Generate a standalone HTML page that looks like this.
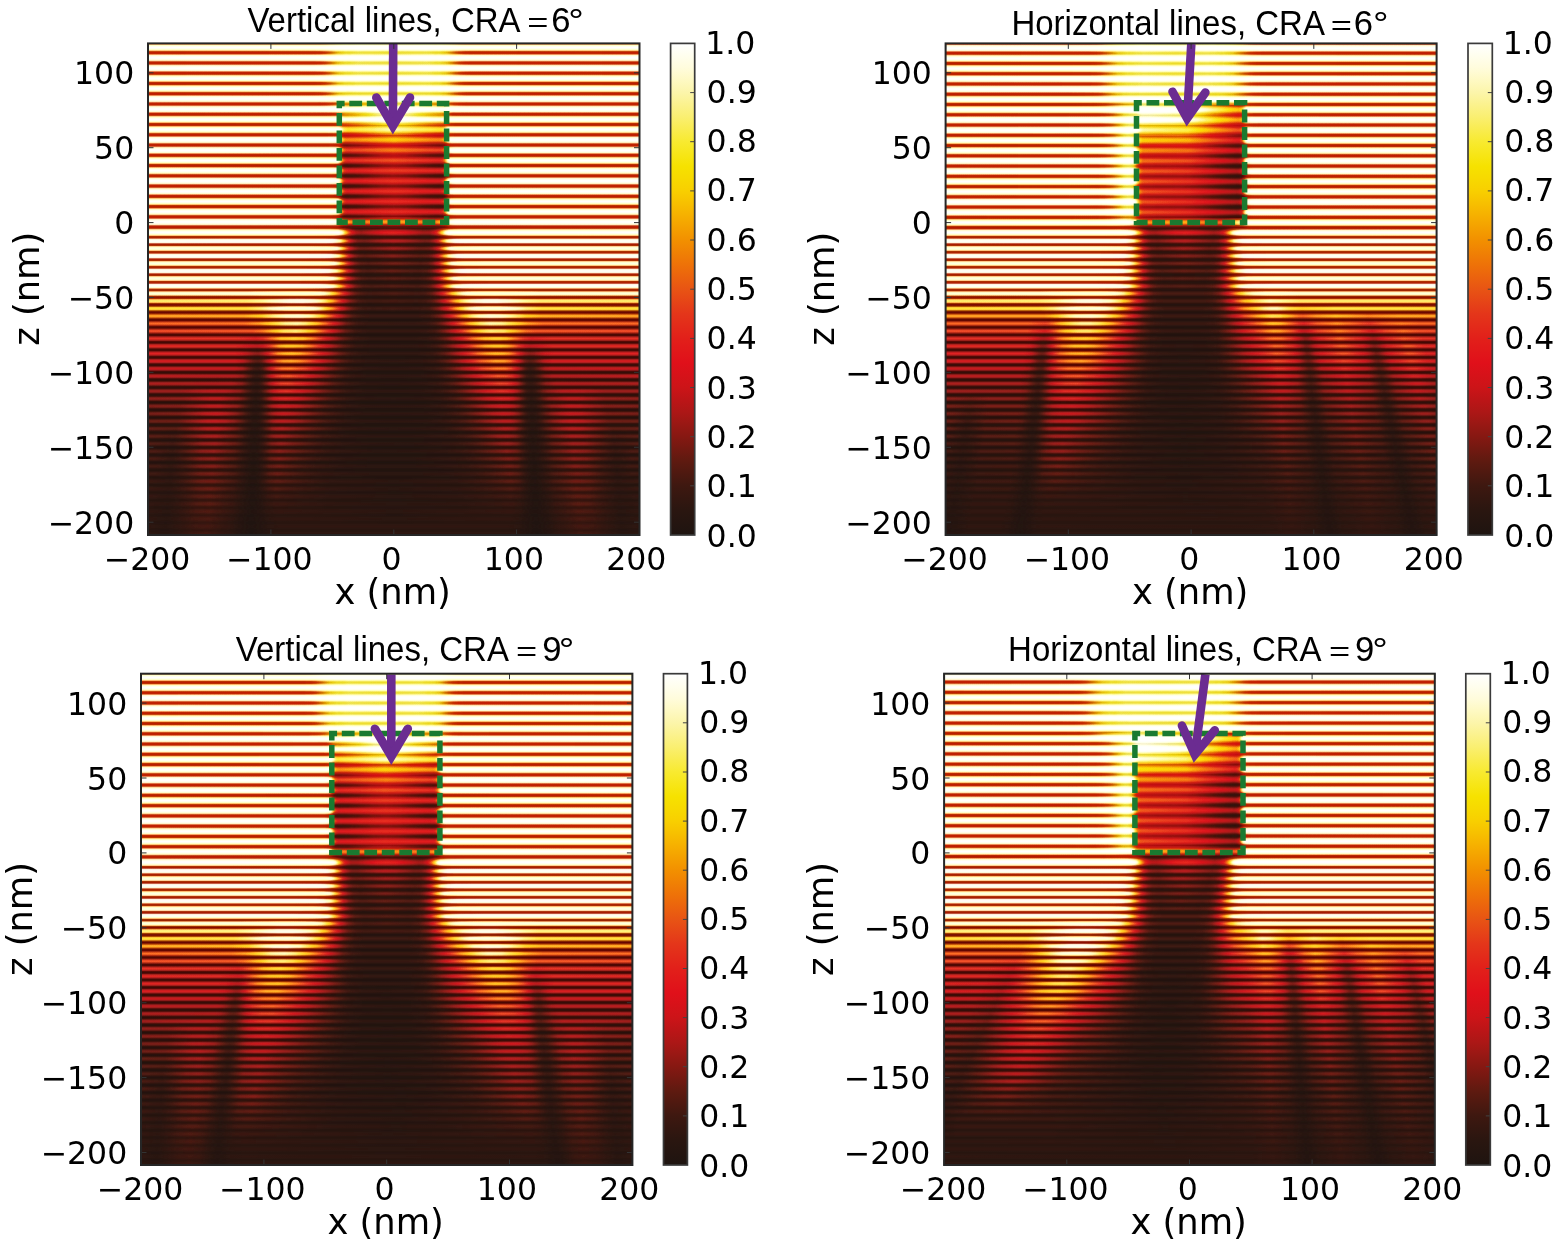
<!DOCTYPE html><html><head><meta charset="utf-8"><title>Figure</title><style>html,body{margin:0;padding:0;background:#fff;width:1560px;height:1244px;overflow:hidden;position:relative}svg{display:block}#ov{position:absolute;left:0;top:0}.hm{position:absolute;overflow:hidden;filter:url(#hot);background:#fff}.hm i{position:absolute;left:0;width:100%;display:block}.hm svg{position:absolute;left:0;top:0}</style></head><body><div class="hm" style="left:144px;top:39.4px;width:500px;height:499.6px;clip-path:inset(4px)">
<i style="top:0px;height:4.04px;background:linear-gradient(90deg,#c0c0c0 0px,#bfbfbf 172px,#bbbbbb 183px,#a8a8a8 197px,#a3a3a3 204px,#a1a1a1 249px,#a3a3a3 293px,#a8a8a8 300px,#bbbbbb 314px,#bfbfbf 325px,#c0c0c0 500px)"></i>
<i style="top:3.44px;height:10.86px;background:linear-gradient(90deg,#c0c0c0 0px,#bfbfbf 172px,#bbbbbb 183px,#a8a8a8 197px,#a3a3a3 204px,#a1a1a1 249px,#a3a3a3 293px,#a8a8a8 300px,#bbbbbb 314px,#bfbfbf 325px,#c0c0c0 500px)"></i>
<i style="top:13.7px;height:10.86px;background:linear-gradient(90deg,#c0c0c0 0px,#bfbfbf 172px,#bbbbbb 183px,#a8a8a8 197px,#a3a3a3 204px,#a1a1a1 249px,#a3a3a3 293px,#a8a8a8 300px,#bbbbbb 314px,#bfbfbf 325px,#c0c0c0 500px)"></i>
<i style="top:23.96px;height:10.86px;background:linear-gradient(90deg,#c0c0c0 0px,#bfbfbf 172px,#bbbbbb 183px,#a8a8a8 197px,#a3a3a3 204px,#a1a1a1 249px,#a3a3a3 293px,#a8a8a8 300px,#bbbbbb 314px,#bfbfbf 325px,#c0c0c0 500px)"></i>
<i style="top:34.22px;height:10.86px;background:linear-gradient(90deg,#c0c0c0 0px,#bfbfbf 172px,#bbbbbb 183px,#a8a8a8 197px,#a3a3a3 204px,#a1a1a1 249px,#a3a3a3 293px,#a8a8a8 300px,#bbbbbb 314px,#bfbfbf 325px,#c0c0c0 500px)"></i>
<i style="top:44.48px;height:10.86px;background:linear-gradient(90deg,#c0c0c0 0px,#bfbfbf 172px,#bbbbbb 183px,#a9a9a9 197px,#a3a3a3 204px,#a1a1a1 248px,#a3a3a3 293px,#a8a8a8 300px,#bbbbbb 314px,#bfbfbf 325px,#c0c0c0 500px)"></i>
<i style="top:54.74px;height:10.86px;background:linear-gradient(90deg,#c0c0c0 0px,#bfbfbf 173px,#bbbbbb 184px,#a8a8a8 200px,#a5a5a5 218px,#a6a6a6 292px,#aaaaaa 300px,#bcbcbc 314px,#c0c0c0 326px,#c0c0c0 500px)"></i>
<i style="top:65px;height:10.86px;background:linear-gradient(90deg,#c0c0c0 0px,#bfbfbf 187px,#bcbcbc 193px,#a5a5a5 199px,#a2a2a2 203px,#aaaaaa 250px,#a2a2a2 298px,#a7a7a7 301px,#bbbbbb 306px,#bfbfbf 313px,#c0c0c0 500px)"></i>
<i style="top:75.26px;height:10.86px;background:linear-gradient(90deg,#c0c0c0 0px,#c0c0c0 189px,#bebebe 192px,#b9b9b9 194px,#9e9e9e 199px,#999999 202px,#a1a1a1 250px,#999999 296px,#9c9c9c 300px,#bbbbbb 306px,#c0c0c0 310px,#c0c0c0 500px)"></i>
<i style="top:85.52px;height:10.86px;background:linear-gradient(90deg,#c0c0c0 0px,#c0c0c0 189px,#bdbdbd 192px,#b7b7b7 194px,#969696 198px,#8c8c8c 200px,#888888 204px,#919191 250px,#888888 297px,#8a8a8a 299px,#939393 301px,#adadad 304px,#b9b9b9 306px,#bebebe 308px,#c0c0c0 311px,#c0c0c0 500px)"></i>
<i style="top:95.78px;height:10.86px;background:linear-gradient(90deg,#c0c0c0 0px,#c0c0c0 189px,#bdbdbd 192px,#b5b5b5 194px,#adadad 195px,#8a8a8a 198px,#818181 199px,#787878 201px,#767676 203px,#7f7f7f 250px,#757575 295px,#777777 298px,#7e7e7e 300px,#858585 301px,#b1b1b1 305px,#bcbcbc 307px,#bfbfbf 310px,#c0c0c0 500px)"></i>
<i style="top:106.04px;height:10.86px;background:linear-gradient(90deg,#c0c0c0 0px,#bfbfbf 189px,#bcbcbc 192px,#b4b4b4 194px,#ababab 195px,#828282 198px,#717171 200px,#6b6b6b 202px,#6a6a6a 205px,#737373 249px,#6a6a6a 297px,#6f6f6f 299px,#747474 300px,#898989 302px,#a5a5a5 304px,#b7b7b7 306px,#bdbdbd 308px,#c0c0c0 311px,#c0c0c0 500px)"></i>
<i style="top:116.3px;height:10.86px;background:linear-gradient(90deg,#c0c0c0 0px,#bfbfbf 189px,#bcbcbc 192px,#b3b3b3 194px,#aaaaaa 195px,#7f7f7f 198px,#747474 199px,#686868 201px,#656565 203px,#6c6c6c 250px,#646464 294px,#656565 297px,#6a6a6a 299px,#797979 301px,#a4a4a4 304px,#afafaf 305px,#bbbbbb 307px,#bfbfbf 310px,#c0c0c0 500px)"></i>
<i style="top:126.56px;height:10.86px;background:linear-gradient(90deg,#c0c0c0 0px,#bfbfbf 189px,#bcbcbc 192px,#b3b3b3 194px,#9c9c9c 196px,#7e7e7e 198px,#6a6a6a 200px,#636363 202px,#616161 206px,#686868 249px,#636363 297px,#686868 299px,#6e6e6e 300px,#777777 301px,#a3a3a3 304px,#b6b6b6 306px,#bdbdbd 308px,#c0c0c0 311px,#c0c0c0 500px)"></i>
<i style="top:136.82px;height:10.86px;background:linear-gradient(90deg,#c0c0c0 0px,#bfbfbf 189px,#bcbcbc 192px,#b3b3b3 194px,#9c9c9c 196px,#7d7d7d 198px,#696969 200px,#626262 202px,#606060 206px,#666666 249px,#606060 296px,#636363 298px,#6d6d6d 300px,#777777 301px,#a3a3a3 304px,#b6b6b6 306px,#bdbdbd 308px,#c0c0c0 311px,#c0c0c0 500px)"></i>
<i style="top:147.08px;height:10.86px;background:linear-gradient(90deg,#c0c0c0 0px,#bfbfbf 189px,#bcbcbc 192px,#b3b3b3 194px,#a9a9a9 195px,#7d7d7d 198px,#717171 199px,#646464 201px,#606060 203px,#656565 251px,#5f5f5f 293px,#616161 297px,#666666 299px,#767676 301px,#a3a3a3 304px,#afafaf 305px,#bbbbbb 307px,#bfbfbf 310px,#c0c0c0 500px)"></i>
<i style="top:157.34px;height:10.86px;background:linear-gradient(90deg,#c0c0c0 0px,#bfbfbf 189px,#bcbcbc 192px,#b3b3b3 194px,#a9a9a9 195px,#7d7d7d 198px,#717171 199px,#646464 201px,#606060 203px,#646464 251px,#5f5f5f 293px,#616161 297px,#666666 299px,#767676 301px,#a3a3a3 304px,#afafaf 305px,#bbbbbb 307px,#bfbfbf 310px,#c0c0c0 500px)"></i>
<i style="top:167.6px;height:10.86px;background:linear-gradient(90deg,#c0c0c0 0px,#bfbfbf 189px,#bcbcbc 192px,#b3b3b3 194px,#a9a9a9 195px,#7d7d7d 198px,#717171 199px,#646464 201px,#606060 203px,#646464 251px,#5f5f5f 293px,#616161 297px,#666666 299px,#767676 301px,#a3a3a3 304px,#afafaf 305px,#bbbbbb 307px,#bfbfbf 310px,#c0c0c0 500px)"></i>
<i style="top:177.86px;height:10.86px;background:linear-gradient(90deg,#c0c0c0 0px,#bfbfbf 186px,#bdbdbd 190px,#b7b7b7 193px,#acacac 195px,#939393 198px,#888888 200px,#7d7d7d 204px,#777777 209px,#757575 217px,#7c7c7c 251px,#757575 285px,#787878 292px,#808080 297px,#909090 301px,#a8a8a8 304px,#b5b5b5 306px,#bcbcbc 309px,#bfbfbf 313px,#c0c0c0 500px)"></i>
<i style="top:188.12px;height:10.68px;background:linear-gradient(90deg,#c0c0c0 0px,#c0c0c0 169px,#bebebe 185px,#b8b8b8 190px,#aeaeae 194px,#9a9a9a 198px,#6b6b6b 205px,#5b5b5b 208px,#4e4e4e 212px,#4a4a4a 217px,#5c5c5c 240px,#5f5f5f 249px,#5b5b5b 260px,#4b4b4b 279px,#4c4c4c 286px,#555555 290px,#626262 293px,#979797 301px,#acacac 305px,#b9b9b9 310px,#bebebe 316px,#c0c0c0 500px)"></i>
<i style="top:198.2px;height:8.11px;background:linear-gradient(90deg,#c0c0c0 0px,#bebebe 182px,#b9b9b9 188px,#acacac 193px,#9a9a9a 197px,#5d5d5d 207px,#515151 210px,#484848 214px,#464646 221px,#545454 240px,#575757 250px,#545454 259px,#464646 281px,#494949 286px,#535353 290px,#656565 294px,#979797 302px,#a7a7a7 305px,#b6b6b6 310px,#bdbdbd 316px,#c0c0c0 333px,#c0c0c0 500px)"></i>
<i style="top:205.71px;height:8.11px;background:linear-gradient(90deg,#c0c0c0 0px,#c0c0c0 164px,#bdbdbd 182px,#b6b6b6 188px,#a8a8a8 193px,#959595 197px,#606060 206px,#505050 210px,#454545 215px,#434343 220px,#515151 249px,#4e4e4e 259px,#434343 277px,#464646 285px,#4e4e4e 289px,#595959 292px,#686868 295px,#989898 303px,#aaaaaa 307px,#b7b7b7 312px,#bebebe 319px,#c0c0c0 337px,#c0c0c0 500px)"></i>
<i style="top:213.22px;height:8.11px;background:linear-gradient(90deg,#c0c0c0 0px,#c0c0c0 161px,#bdbdbd 180px,#b5b5b5 187px,#a8a8a8 192px,#979797 196px,#5e5e5e 206px,#4e4e4e 210px,#434343 215px,#404040 221px,#4b4b4b 249px,#404040 276px,#434343 284px,#4a4a4a 288px,#585858 292px,#999999 304px,#aaaaaa 308px,#b8b8b8 314px,#bebebe 321px,#c0c0c0 340px,#c0c0c0 500px)"></i>
<i style="top:220.73px;height:8.11px;background:linear-gradient(90deg,#c0c0c0 0px,#c0c0c0 157px,#bdbdbd 177px,#b8b8b8 184px,#ababab 190px,#979797 195px,#595959 207px,#4b4b4b 211px,#414141 216px,#3d3d3d 224px,#464646 251px,#3d3d3d 277px,#414141 284px,#4c4c4c 289px,#5f5f5f 294px,#959595 304px,#a6a6a6 308px,#b5b5b5 314px,#bdbdbd 321px,#c0c0c0 341px,#c0c0c0 500px)"></i>
<i style="top:228.24px;height:8.11px;background:linear-gradient(90deg,#c0c0c0 0px,#c0c0c0 156px,#bcbcbc 177px,#b4b4b4 185px,#a4a4a4 191px,#8f8f8f 196px,#606060 205px,#4a4a4a 211px,#3e3e3e 217px,#3b3b3b 224px,#424242 248px,#3b3b3b 275px,#3f3f3f 283px,#494949 288px,#565656 292px,#969696 305px,#a9a9a9 310px,#b6b6b6 316px,#bdbdbd 323px,#c0c0c0 344px,#c0c0c0 500px)"></i>
<i style="top:235.75px;height:8.11px;background:linear-gradient(90deg,#c0c0c0 0px,#c0c0c0 154px,#bcbcbc 175px,#b5b5b5 183px,#a7a7a7 189px,#959595 194px,#646464 204px,#535353 208px,#474747 212px,#3d3d3d 217px,#393939 225px,#3e3e3e 250px,#393939 274px,#3d3d3d 282px,#484848 288px,#5d5d5d 294px,#929292 305px,#a6a6a6 310px,#b4b4b4 316px,#bbbbbb 323px,#c0c0c0 345px,#c0c0c0 500px)"></i>
<i style="top:243.26px;height:8.11px;background:linear-gradient(90deg,#bababa 0px,#bababa 153px,#b7b7b7 174px,#afafaf 182px,#9f9f9f 189px,#8d8d8d 194px,#585858 206px,#454545 212px,#3a3a3a 219px,#373737 227px,#3b3b3b 249px,#373737 274px,#3d3d3d 283px,#464646 288px,#525252 292px,#8f8f8f 306px,#a4a4a4 312px,#b1b1b1 319px,#b7b7b7 327px,#bababa 348px,#bababa 500px)"></i>
<i style="top:250.77px;height:8.11px;background:linear-gradient(90deg,#9b9b9b 0px,#9c9c9c 103px,#a8a8a8 149px,#a7a7a7 164px,#9f9f9f 176px,#909090 185px,#7d7d7d 192px,#4c4c4c 206px,#404040 211px,#393939 216px,#343434 225px,#383838 250px,#343434 273px,#363636 281px,#3f3f3f 288px,#515151 295px,#7f7f7f 308px,#8f8f8f 314px,#9e9e9e 323px,#a6a6a6 334px,#a8a8a8 350px,#9c9c9c 397px,#9b9b9b 500px)"></i>
<i style="top:258.28px;height:8.11px;background:linear-gradient(90deg,#8d8d8d 0px,#8e8e8e 103px,#939393 119px,#a4a4a4 146px,#a5a5a5 159px,#9e9e9e 170px,#8e8e8e 181px,#7b7b7b 189px,#494949 205px,#373737 215px,#323232 225px,#353535 250px,#323232 273px,#353535 282px,#3d3d3d 289px,#4d4d4d 296px,#797979 310px,#8b8b8b 317px,#9c9c9c 328px,#a5a5a5 340px,#a5a5a5 353px,#939393 381px,#8e8e8e 397px,#8d8d8d 500px)"></i>
<i style="top:265.79px;height:8.11px;background:linear-gradient(90deg,#878787 0px,#888888 102px,#8f8f8f 118px,#a5a5a5 144px,#a7a7a7 157px,#9f9f9f 168px,#8d8d8d 179px,#787878 188px,#4b4b4b 203px,#3c3c3c 210px,#333333 218px,#303030 228px,#333333 249px,#313131 274px,#363636 285px,#484848 295px,#797979 312px,#8e8e8e 321px,#9f9f9f 332px,#a7a7a7 343px,#a6a6a6 355px,#8f8f8f 382px,#888888 398px,#878787 500px)"></i>
<i style="top:273.3px;height:8.11px;background:linear-gradient(90deg,#7a7a7a 0px,#7b7b7b 100px,#838383 116px,#9c9c9c 143px,#9e9e9e 155px,#979797 165px,#878787 176px,#737373 185px,#4a4a4a 201px,#3a3a3a 209px,#313131 218px,#2f2f2f 228px,#2f2f2f 274px,#353535 286px,#464646 297px,#757575 315px,#888888 324px,#989898 335px,#9f9f9f 345px,#9c9c9c 357px,#838383 383px,#7c7c7c 399px,#7a7a7a 500px)"></i>
<i style="top:280.81px;height:8.11px;background:linear-gradient(90deg,#6f6f6f 0px,#717171 99px,#797979 115px,#919191 141px,#949494 153px,#8e8e8e 162px,#818181 172px,#6f6f6f 182px,#424242 202px,#333333 213px,#2e2e2e 225px,#2d2d2d 271px,#303030 283px,#393939 292px,#474747 300px,#6b6b6b 316px,#7f7f7f 326px,#8d8d8d 336px,#949494 346px,#919191 358px,#797979 384px,#717171 400px,#6f6f6f 500px)"></i>
<i style="top:288.32px;height:8.11px;background:linear-gradient(90deg,#6a6a6a 0px,#6d6d6d 108px,#737373 118px,#8a8a8a 139px,#8e8e8e 152px,#888888 161px,#7c7c7c 171px,#6a6a6a 181px,#414141 201px,#323232 213px,#2c2c2c 226px,#2c2c2c 270px,#2f2f2f 282px,#373737 292px,#444444 300px,#7b7b7b 328px,#888888 338px,#8e8e8e 347px,#8b8b8b 360px,#727272 382px,#6d6d6d 392px,#6a6a6a 500px)"></i>
<i style="top:295.83px;height:8.11px;background:linear-gradient(90deg,#636363 0px,#646464 92px,#5f5f5f 112px,#646464 119px,#808080 137px,#848484 150px,#808080 159px,#767676 168px,#3f3f3f 200px,#313131 212px,#2b2b2b 226px,#2b2b2b 269px,#2d2d2d 282px,#363636 293px,#414141 301px,#747474 330px,#7f7f7f 340px,#848484 349px,#848484 356px,#7f7f7f 363px,#656565 380px,#5f5f5f 387px,#646464 408px,#636363 500px)"></i>
<i style="top:303.34px;height:8.11px;background:linear-gradient(90deg,#616161 0px,#616161 91px,#555555 113px,#5a5a5a 119px,#7b7b7b 135px,#818181 142px,#818181 149px,#7d7d7d 158px,#737373 167px,#3f3f3f 199px,#303030 212px,#2b2b2b 227px,#2a2a2a 267px,#2d2d2d 282px,#353535 293px,#414141 302px,#727272 332px,#7c7c7c 341px,#818181 350px,#818181 357px,#7b7b7b 364px,#727272 370px,#5a5a5a 381px,#555555 386px,#616161 409px,#616161 500px)"></i>
<i style="top:310.85px;height:8.11px;background:linear-gradient(90deg,#5f5f5f 0px,#5f5f5f 91px,#5b5b5b 98px,#4b4b4b 110px,#494949 114px,#505050 119px,#6c6c6c 129px,#777777 134px,#7d7d7d 140px,#7f7f7f 148px,#7b7b7b 156px,#707070 166px,#404040 197px,#343434 207px,#2c2c2c 219px,#2a2a2a 235px,#2a2a2a 273px,#303030 288px,#3e3e3e 301px,#717171 334px,#7a7a7a 343px,#7e7e7e 351px,#7d7d7d 359px,#777777 365px,#6b6b6b 371px,#4f4f4f 381px,#494949 386px,#4b4b4b 390px,#5b5b5b 401px,#5f5f5f 409px,#5f5f5f 500px)"></i>
<i style="top:318.36px;height:8.11px;background:linear-gradient(90deg,#5c5c5c 0px,#5c5c5c 91px,#555555 99px,#3e3e3e 110px,#3b3b3b 114px,#414141 118px,#646464 128px,#717171 133px,#797979 139px,#7b7b7b 147px,#777777 155px,#6e6e6e 164px,#3e3e3e 197px,#313131 209px,#2a2a2a 224px,#292929 250px,#2a2a2a 276px,#313131 291px,#3e3e3e 303px,#6e6e6e 336px,#7a7a7a 352px,#797979 360px,#727272 366px,#636363 372px,#434343 381px,#3b3b3b 386px,#3f3f3f 390px,#565656 401px,#5c5c5c 409px,#5c5c5c 500px)"></i>
<i style="top:325.87px;height:8.11px;background:linear-gradient(90deg,#575757 0px,#575757 90px,#4f4f4f 99px,#353535 110px,#323232 114px,#393939 118px,#5b5b5b 127px,#696969 132px,#717171 138px,#737373 146px,#686868 162px,#3d3d3d 195px,#303030 208px,#292929 224px,#282828 250px,#292929 276px,#303030 292px,#3d3d3d 305px,#696969 338px,#737373 353px,#727272 361px,#6a6a6a 367px,#5d5d5d 372px,#383838 382px,#313131 386px,#363636 390px,#505050 401px,#565656 409px,#575757 500px)"></i>
<i style="top:333.38px;height:8.11px;background:linear-gradient(90deg,#535353 0px,#525252 90px,#4b4b4b 99px,#323232 110px,#2f2f2f 113px,#353535 117px,#585858 127px,#656565 132px,#6c6c6c 138px,#6d6d6d 145px,#636363 160px,#3c3c3c 193px,#2f2f2f 207px,#292929 223px,#282828 250px,#292929 276px,#2f2f2f 292px,#3c3c3c 306px,#646464 340px,#6d6d6d 354px,#6b6b6b 362px,#646464 368px,#565656 373px,#363636 382px,#2f2f2f 386px,#333333 390px,#4b4b4b 401px,#525252 409px,#535353 500px)"></i>
<i style="top:340.89px;height:8.11px;background:linear-gradient(90deg,#4f4f4f 0px,#515151 88px,#494949 98px,#313131 109px,#2d2d2d 113px,#343434 117px,#525252 126px,#5f5f5f 131px,#676767 137px,#686868 144px,#606060 158px,#3b3b3b 191px,#2f2f2f 206px,#282828 223px,#272727 250px,#292929 277px,#2f2f2f 293px,#3b3b3b 308px,#606060 342px,#686868 356px,#666666 363px,#606060 368px,#545454 373px,#323232 383px,#2d2d2d 387px,#313131 390px,#4a4a4a 402px,#515151 412px,#4f4f4f 500px)"></i>
<i style="top:348.4px;height:8.11px;background:linear-gradient(90deg,#4c4c4c 0px,#4c4c4c 37px,#545454 68px,#535353 81px,#4a4a4a 96px,#2f2f2f 109px,#2c2c2c 113px,#333333 117px,#4d4d4d 125px,#5a5a5a 130px,#626262 136px,#646464 143px,#5c5c5c 156px,#3b3b3b 189px,#2e2e2e 205px,#282828 222px,#272727 250px,#282828 277px,#2e2e2e 294px,#3a3a3a 310px,#5d5d5d 344px,#646464 357px,#626262 363px,#5b5b5b 369px,#4f4f4f 374px,#313131 383px,#2c2c2c 387px,#2e2e2e 390px,#434343 399px,#4a4a4a 404px,#535353 418px,#545454 432px,#4c4c4c 462px,#4c4c4c 500px)"></i>
<i style="top:355.91px;height:8.11px;background:linear-gradient(90deg,#484848 0px,#494949 38px,#555555 66px,#555555 77px,#4a4a4a 94px,#414141 100px,#2d2d2d 109px,#2a2a2a 112px,#2f2f2f 116px,#4b4b4b 125px,#575757 130px,#5d5d5d 135px,#5f5f5f 142px,#595959 154px,#3b3b3b 186px,#2e2e2e 204px,#282828 222px,#262626 250px,#282828 277px,#2d2d2d 295px,#3a3a3a 313px,#585858 345px,#5f5f5f 357px,#5e5e5e 364px,#585858 369px,#4d4d4d 374px,#303030 383px,#2a2a2a 387px,#2e2e2e 391px,#404040 399px,#4a4a4a 405px,#555555 423px,#555555 434px,#494949 462px,#484848 500px)"></i>
<i style="top:363.42px;height:8.11px;background:linear-gradient(90deg,#454545 0px,#474747 37px,#565656 65px,#565656 75px,#4a4a4a 93px,#404040 99px,#2d2d2d 108px,#292929 112px,#2e2e2e 116px,#494949 125px,#535353 129px,#5a5a5a 135px,#5b5b5b 141px,#565656 152px,#3a3a3a 184px,#2d2d2d 203px,#272727 222px,#262626 250px,#272727 278px,#2d2d2d 296px,#393939 315px,#555555 347px,#5b5b5b 358px,#595959 365px,#535353 370px,#484848 375px,#303030 383px,#292929 387px,#2c2c2c 391px,#3f3f3f 400px,#4a4a4a 407px,#575757 425px,#565656 435px,#474747 462px,#454545 500px)"></i>
<i style="top:370.93px;height:8.11px;background:linear-gradient(90deg,#434343 0px,#454545 37px,#565656 63px,#585858 73px,#535353 82px,#494949 92px,#3e3e3e 99px,#2b2b2b 108px,#282828 112px,#2e2e2e 116px,#454545 124px,#505050 129px,#565656 134px,#585858 140px,#535353 150px,#3a3a3a 181px,#2d2d2d 202px,#272727 221px,#262626 250px,#272727 279px,#2d2d2d 298px,#393939 318px,#535353 349px,#585858 359px,#565656 365px,#515151 370px,#474747 375px,#2d2d2d 384px,#282828 388px,#2c2c2c 392px,#3f3f3f 401px,#494949 407px,#535353 417px,#585858 426px,#565656 436px,#454545 463px,#434343 500px)"></i>
<i style="top:378.44px;height:8.11px;background:linear-gradient(90deg,#404040 0px,#414141 34px,#555555 63px,#565656 72px,#525252 81px,#474747 92px,#3e3e3e 98px,#292929 108px,#272727 111px,#2b2b2b 115px,#4d4d4d 128px,#535353 133px,#545454 139px,#505050 149px,#393939 179px,#2c2c2c 201px,#272727 221px,#262626 250px,#272727 279px,#2d2d2d 299px,#393939 321px,#505050 351px,#545454 360px,#535353 366px,#4d4d4d 371px,#434343 376px,#2c2c2c 384px,#272727 388px,#2a2a2a 392px,#3d3d3d 401px,#474747 408px,#515151 418px,#565656 427px,#545454 437px,#414141 465px,#404040 500px)"></i>
<i style="top:385.95px;height:8.11px;background:linear-gradient(90deg,#3e3e3e 0px,#3c3c3c 32px,#515151 62px,#535353 72px,#4e4e4e 81px,#444444 92px,#292929 107px,#252525 111px,#2a2a2a 115px,#4a4a4a 128px,#4f4f4f 133px,#505050 139px,#2c2c2c 199px,#272727 220px,#252525 250px,#272727 280px,#2c2c2c 300px,#515151 361px,#4f4f4f 367px,#494949 372px,#2b2b2b 384px,#252525 388px,#282828 392px,#3a3a3a 401px,#444444 408px,#4e4e4e 419px,#535353 428px,#515151 438px,#3c3c3c 468px,#3e3e3e 500px)"></i>
<i style="top:393.46px;height:8.11px;background:linear-gradient(90deg,#3c3c3c 0px,#383838 30px,#4e4e4e 60px,#505050 71px,#424242 91px,#393939 98px,#272727 107px,#242424 111px,#2a2a2a 115px,#474747 127px,#4c4c4c 132px,#4d4d4d 138px,#343434 179px,#2a2a2a 202px,#262626 227px,#262626 268px,#2e2e2e 307px,#383838 327px,#4b4b4b 354px,#4e4e4e 363px,#474747 372px,#282828 385px,#242424 389px,#272727 392px,#393939 402px,#424242 408px,#505050 428px,#4e4e4e 439px,#383838 469px,#3c3c3c 500px)"></i>
<i style="top:400.97px;height:8.11px;background:linear-gradient(90deg,#3a3a3a 0px,#343434 29px,#4b4b4b 59px,#4d4d4d 71px,#404040 91px,#373737 98px,#262626 107px,#242424 111px,#292929 115px,#454545 127px,#4b4b4b 137px,#343434 177px,#2a2a2a 201px,#262626 227px,#252525 268px,#2e2e2e 309px,#373737 329px,#484848 355px,#4b4b4b 364px,#444444 373px,#282828 385px,#232323 389px,#272727 393px,#3f3f3f 408px,#4d4d4d 429px,#4b4b4b 441px,#343434 470px,#3a3a3a 500px)"></i>
<i style="top:408.48px;height:8.11px;background:linear-gradient(90deg,#383838 0px,#373737 12px,#303030 29px,#484848 57px,#4b4b4b 70px,#3d3d3d 91px,#252525 107px,#232323 110px,#272727 114px,#424242 126px,#484848 135px,#2d2d2d 188px,#252525 231px,#262626 273px,#2a2a2a 300px,#333333 325px,#484848 363px,#424242 373px,#282828 385px,#232323 389px,#252525 393px,#3d3d3d 408px,#4b4b4b 430px,#474747 443px,#303030 471px,#373737 487px,#383838 500px)"></i>
<i style="top:415.99px;height:8.11px;background:linear-gradient(90deg,#363636 0px,#353535 12px,#2e2e2e 28px,#454545 56px,#484848 69px,#3b3b3b 91px,#252525 106px,#222222 110px,#262626 114px,#404040 126px,#454545 135px,#323232 173px,#292929 198px,#252525 226px,#252525 269px,#2d2d2d 315px,#454545 365px,#3f3f3f 374px,#252525 386px,#222222 390px,#3b3b3b 408px,#484848 430px,#454545 443px,#2e2e2e 472px,#353535 487px,#363636 500px)"></i>
<i style="top:423.5px;height:8.11px;background:linear-gradient(90deg,#343434 0px,#333333 12px,#2c2c2c 27px,#434343 56px,#464646 69px,#393939 91px,#232323 106px,#212121 110px,#252525 114px,#3d3d3d 125px,#424242 135px,#313131 170px,#292929 196px,#252525 225px,#252525 270px,#2d2d2d 317px,#424242 366px,#3d3d3d 374px,#252525 386px,#212121 390px,#222222 393px,#383838 408px,#464646 431px,#424242 444px,#2c2c2c 472px,#333333 488px,#343434 500px)"></i>
<i style="top:431.01px;height:8.11px;background:linear-gradient(90deg,#323232 0px,#313131 11px,#2b2b2b 27px,#404040 55px,#434343 68px,#373737 91px,#202020 109px,#232323 113px,#3b3b3b 125px,#404040 133px,#2c2c2c 179px,#252525 229px,#252525 275px,#292929 305px,#303030 331px,#404040 366px,#3a3a3a 375px,#222222 387px,#202020 391px,#373737 409px,#434343 433px,#3f3f3f 446px,#2a2a2a 473px,#313131 488px,#323232 500px)"></i>
<i style="top:438.52px;height:8.11px;background:linear-gradient(90deg,#303030 0px,#292929 26px,#3e3e3e 54px,#414141 68px,#343434 91px,#212121 105px,#1e1e1e 109px,#222222 113px,#373737 124px,#3c3c3c 133px,#2a2a2a 186px,#252525 250px,#2a2a2a 313px,#3c3c3c 367px,#373737 375px,#212121 387px,#1e1e1e 391px,#353535 409px,#414141 432px,#3d3d3d 446px,#292929 473px,#303030 500px)"></i>
<i style="top:446.03px;height:8.11px;background:linear-gradient(90deg,#2f2f2f 0px,#282828 25px,#3c3c3c 54px,#3f3f3f 67px,#323232 90px,#1f1f1f 105px,#1c1c1c 109px,#202020 113px,#333333 124px,#383838 132px,#292929 187px,#242424 250px,#292929 313px,#383838 367px,#333333 376px,#202020 387px,#1c1c1c 391px,#323232 409px,#3e3e3e 432px,#3c3c3c 446px,#282828 474px,#2f2f2f 500px)"></i>
<i style="top:453.54px;height:8.11px;background:linear-gradient(90deg,#2d2d2d 0px,#262626 25px,#393939 53px,#3c3c3c 66px,#303030 90px,#1a1a1a 108px,#1d1d1d 112px,#2f2f2f 124px,#333333 132px,#282828 188px,#242424 250px,#282828 312px,#333333 367px,#2f2f2f 376px,#1e1e1e 387px,#1a1a1a 391px,#1d1d1d 395px,#303030 410px,#3c3c3c 433px,#3a3a3a 446px,#262626 475px,#2d2d2d 500px)"></i>
<i style="top:461.05px;height:8.11px;background:linear-gradient(90deg,#2b2b2b 0px,#252525 24px,#373737 52px,#3a3a3a 66px,#2e2e2e 89px,#191919 108px,#1b1b1b 112px,#2b2b2b 123px,#2f2f2f 132px,#272727 191px,#242424 250px,#262626 308px,#2f2f2f 368px,#2b2b2b 376px,#191919 391px,#1b1b1b 395px,#2e2e2e 411px,#3a3a3a 434px,#373737 447px,#252525 475px,#2b2b2b 500px)"></i>
<i style="top:468.56px;height:8.11px;background:linear-gradient(90deg,#292929 0px,#232323 24px,#353535 52px,#373737 65px,#2c2c2c 88px,#171717 108px,#272727 123px,#2b2b2b 133px,#242424 250px,#2b2b2b 367px,#282828 376px,#191919 388px,#171717 392px,#2b2b2b 411px,#373737 434px,#353535 448px,#232323 476px,#292929 500px)"></i>
<i style="top:476.07px;height:8.11px;background:linear-gradient(90deg,#282828 0px,#222222 23px,#333333 51px,#353535 65px,#292929 87px,#171717 104px,#151515 108px,#242424 123px,#282828 134px,#242424 250px,#282828 365px,#242424 376px,#151515 392px,#292929 412px,#353535 435px,#323232 449px,#222222 476px,#282828 500px)"></i>
<i style="top:483.58px;height:8.11px;background:linear-gradient(90deg,#262626 0px,#212121 22px,#313131 51px,#333333 64px,#282828 87px,#141414 107px,#232323 124px,#262626 135px,#262626 364px,#232323 376px,#141414 392px,#282828 413px,#333333 435px,#313131 449px,#212121 477px,#262626 500px)"></i>
<i style="top:491.09px;height:8.11px;background:linear-gradient(90deg,#252525 0px,#202020 22px,#303030 50px,#323232 63px,#272727 86px,#131313 107px,#222222 124px,#252525 136px,#252525 365px,#222222 376px,#131313 393px,#272727 413px,#323232 436px,#303030 450px,#202020 478px,#252525 500px)"></i>
<i style="top:498.6px;height:1.6px;background:linear-gradient(90deg,#252525 0px,#1f1f1f 21px,#2f2f2f 50px,#313131 63px,#262626 86px,#131313 107px,#212121 123px,#252525 134px,#252525 364px,#222222 376px,#131313 393px,#262626 413px,#313131 436px,#2f2f2f 450px,#1f1f1f 478px,#252525 500px)"></i>
<svg width="500" height="499.6" viewBox="0 0 500 499.6"><defs><linearGradient id="p1d0"><stop offset="0" stop-opacity=".6"/><stop offset=".34" stop-opacity=".592"/><stop offset=".352" stop-opacity=".573"/><stop offset=".362" stop-opacity=".535"/><stop offset=".37" stop-opacity=".479"/><stop offset=".39" stop-opacity=".3"/><stop offset=".404" stop-opacity=".234"/><stop offset=".426" stop-opacity=".209"/><stop offset=".498" stop-opacity=".206"/><stop offset=".568" stop-opacity=".209"/><stop offset=".59" stop-opacity=".234"/><stop offset=".604" stop-opacity=".299"/><stop offset=".624" stop-opacity=".479"/><stop offset=".632" stop-opacity=".534"/><stop offset=".642" stop-opacity=".573"/><stop offset=".654" stop-opacity=".592"/><stop offset="1" stop-opacity=".6"/></linearGradient><linearGradient id="p1d1"><stop offset="0" stop-opacity=".6"/><stop offset=".34" stop-opacity=".592"/><stop offset=".352" stop-opacity=".573"/><stop offset=".362" stop-opacity=".535"/><stop offset=".37" stop-opacity=".479"/><stop offset=".39" stop-opacity=".3"/><stop offset=".404" stop-opacity=".234"/><stop offset=".426" stop-opacity=".209"/><stop offset=".498" stop-opacity=".206"/><stop offset=".568" stop-opacity=".209"/><stop offset=".59" stop-opacity=".234"/><stop offset=".604" stop-opacity=".299"/><stop offset=".624" stop-opacity=".479"/><stop offset=".632" stop-opacity=".534"/><stop offset=".642" stop-opacity=".573"/><stop offset=".654" stop-opacity=".592"/><stop offset="1" stop-opacity=".6"/></linearGradient><linearGradient id="p1d2"><stop offset="0" stop-opacity=".6"/><stop offset=".34" stop-opacity=".592"/><stop offset=".352" stop-opacity=".573"/><stop offset=".362" stop-opacity=".535"/><stop offset=".37" stop-opacity=".479"/><stop offset=".39" stop-opacity=".3"/><stop offset=".404" stop-opacity=".234"/><stop offset=".426" stop-opacity=".209"/><stop offset=".498" stop-opacity=".206"/><stop offset=".568" stop-opacity=".209"/><stop offset=".59" stop-opacity=".234"/><stop offset=".604" stop-opacity=".299"/><stop offset=".624" stop-opacity=".479"/><stop offset=".632" stop-opacity=".534"/><stop offset=".642" stop-opacity=".573"/><stop offset=".654" stop-opacity=".592"/><stop offset="1" stop-opacity=".6"/></linearGradient><linearGradient id="p1d3"><stop offset="0" stop-opacity=".6"/><stop offset=".34" stop-opacity=".592"/><stop offset=".352" stop-opacity=".573"/><stop offset=".362" stop-opacity=".535"/><stop offset=".37" stop-opacity=".479"/><stop offset=".39" stop-opacity=".3"/><stop offset=".404" stop-opacity=".234"/><stop offset=".426" stop-opacity=".209"/><stop offset=".498" stop-opacity=".206"/><stop offset=".568" stop-opacity=".209"/><stop offset=".59" stop-opacity=".234"/><stop offset=".604" stop-opacity=".299"/><stop offset=".624" stop-opacity=".479"/><stop offset=".632" stop-opacity=".534"/><stop offset=".642" stop-opacity=".573"/><stop offset=".654" stop-opacity=".592"/><stop offset="1" stop-opacity=".6"/></linearGradient><linearGradient id="p1d4"><stop offset="0" stop-opacity=".6"/><stop offset=".34" stop-opacity=".592"/><stop offset=".352" stop-opacity=".573"/><stop offset=".362" stop-opacity=".535"/><stop offset=".37" stop-opacity=".48"/><stop offset=".39" stop-opacity=".3"/><stop offset=".404" stop-opacity=".235"/><stop offset=".426" stop-opacity=".21"/><stop offset=".498" stop-opacity=".207"/><stop offset=".568" stop-opacity=".21"/><stop offset=".59" stop-opacity=".234"/><stop offset=".604" stop-opacity=".3"/><stop offset=".624" stop-opacity=".479"/><stop offset=".632" stop-opacity=".534"/><stop offset=".642" stop-opacity=".573"/><stop offset=".654" stop-opacity=".592"/><stop offset="1" stop-opacity=".6"/></linearGradient><linearGradient id="p1d5"><stop offset="0" stop-opacity=".6"/><stop offset=".34" stop-opacity=".592"/><stop offset=".352" stop-opacity=".575"/><stop offset=".362" stop-opacity=".538"/><stop offset=".37" stop-opacity=".485"/><stop offset=".39" stop-opacity=".312"/><stop offset=".404" stop-opacity=".25"/><stop offset=".428" stop-opacity=".226"/><stop offset=".5" stop-opacity=".221"/><stop offset=".568" stop-opacity=".226"/><stop offset=".59" stop-opacity=".25"/><stop offset=".604" stop-opacity=".312"/><stop offset=".624" stop-opacity=".484"/><stop offset=".632" stop-opacity=".537"/><stop offset=".642" stop-opacity=".574"/><stop offset=".654" stop-opacity=".592"/><stop offset="1" stop-opacity=".6"/></linearGradient><linearGradient id="p1d6"><stop offset="0" stop-opacity=".6"/><stop offset=".35" stop-opacity=".592"/><stop offset=".364" stop-opacity=".57"/><stop offset=".376" stop-opacity=".526"/><stop offset=".384" stop-opacity=".481"/><stop offset=".396" stop-opacity=".378"/><stop offset=".402" stop-opacity=".351"/><stop offset=".474" stop-opacity=".249"/><stop offset=".5" stop-opacity=".232"/><stop offset=".526" stop-opacity=".25"/><stop offset=".596" stop-opacity=".351"/><stop offset=".602" stop-opacity=".377"/><stop offset=".614" stop-opacity=".493"/><stop offset=".622" stop-opacity=".542"/><stop offset=".632" stop-opacity=".574"/><stop offset=".646" stop-opacity=".593"/><stop offset="1" stop-opacity=".6"/></linearGradient><linearGradient id="p1d7"><stop offset="0" stop-opacity=".6"/><stop offset=".374" stop-opacity=".594"/><stop offset=".384" stop-opacity=".563"/><stop offset=".388" stop-opacity=".519"/><stop offset=".396" stop-opacity=".383"/><stop offset=".4" stop-opacity=".341"/><stop offset=".404" stop-opacity=".321"/><stop offset=".476" stop-opacity=".184"/><stop offset=".5" stop-opacity=".164"/><stop offset=".524" stop-opacity=".186"/><stop offset=".596" stop-opacity=".325"/><stop offset=".602" stop-opacity=".37"/><stop offset=".61" stop-opacity=".504"/><stop offset=".614" stop-opacity=".556"/><stop offset=".618" stop-opacity=".581"/><stop offset=".624" stop-opacity=".594"/><stop offset="1" stop-opacity=".6"/></linearGradient><linearGradient id="p1d8"><stop offset="0" stop-opacity=".6"/><stop offset=".376" stop-opacity=".596"/><stop offset=".382" stop-opacity=".583"/><stop offset=".386" stop-opacity=".555"/><stop offset=".396" stop-opacity=".406"/><stop offset=".4" stop-opacity=".367"/><stop offset=".404" stop-opacity=".348"/><stop offset=".476" stop-opacity=".206"/><stop offset=".5" stop-opacity=".186"/><stop offset=".524" stop-opacity=".208"/><stop offset=".596" stop-opacity=".351"/><stop offset=".602" stop-opacity=".394"/><stop offset=".61" stop-opacity=".518"/><stop offset=".614" stop-opacity=".564"/><stop offset=".624" stop-opacity=".597"/><stop offset="1" stop-opacity=".6"/></linearGradient><linearGradient id="p1d9"><stop offset="0" stop-opacity=".6"/><stop offset=".376" stop-opacity=".598"/><stop offset=".386" stop-opacity=".569"/><stop offset=".398" stop-opacity=".44"/><stop offset=".404" stop-opacity=".411"/><stop offset=".476" stop-opacity=".259"/><stop offset=".5" stop-opacity=".238"/><stop offset=".524" stop-opacity=".261"/><stop offset=".596" stop-opacity=".414"/><stop offset=".602" stop-opacity=".448"/><stop offset=".614" stop-opacity=".575"/><stop offset=".622" stop-opacity=".597"/><stop offset="1" stop-opacity=".6"/></linearGradient><linearGradient id="p1d10"><stop offset="0" stop-opacity=".6"/><stop offset=".378" stop-opacity=".598"/><stop offset=".386" stop-opacity=".586"/><stop offset=".404" stop-opacity=".501"/><stop offset=".43" stop-opacity=".451"/><stop offset=".476" stop-opacity=".333"/><stop offset=".5" stop-opacity=".308"/><stop offset=".524" stop-opacity=".335"/><stop offset=".57" stop-opacity=".454"/><stop offset=".596" stop-opacity=".504"/><stop offset=".612" stop-opacity=".583"/><stop offset=".62" stop-opacity=".598"/><stop offset="1" stop-opacity=".6"/></linearGradient><linearGradient id="p1d11"><stop offset="0" stop-opacity=".6"/><stop offset=".386" stop-opacity=".598"/><stop offset=".424" stop-opacity=".532"/><stop offset=".476" stop-opacity=".385"/><stop offset=".5" stop-opacity=".359"/><stop offset=".522" stop-opacity=".383"/><stop offset=".576" stop-opacity=".534"/><stop offset=".614" stop-opacity=".599"/><stop offset="1" stop-opacity=".6"/></linearGradient><linearGradient id="p1d12"><stop offset="0" stop-opacity=".6"/><stop offset=".398" stop-opacity=".609"/><stop offset=".424" stop-opacity=".563"/><stop offset=".476" stop-opacity=".408"/><stop offset=".5" stop-opacity=".381"/><stop offset=".524" stop-opacity=".41"/><stop offset=".576" stop-opacity=".565"/><stop offset=".602" stop-opacity=".61"/><stop offset="1" stop-opacity=".6"/></linearGradient><linearGradient id="p1d13"><stop offset="0" stop-opacity=".6"/><stop offset=".372" stop-opacity=".6"/><stop offset=".4" stop-opacity=".618"/><stop offset=".424" stop-opacity=".573"/><stop offset=".476" stop-opacity=".416"/><stop offset=".5" stop-opacity=".388"/><stop offset=".524" stop-opacity=".418"/><stop offset=".574" stop-opacity=".57"/><stop offset=".6" stop-opacity=".619"/><stop offset=".626" stop-opacity=".6"/><stop offset="1" stop-opacity=".6"/></linearGradient><linearGradient id="p1d14"><stop offset="0" stop-opacity=".6"/><stop offset=".372" stop-opacity=".6"/><stop offset=".4" stop-opacity=".621"/><stop offset=".424" stop-opacity=".576"/><stop offset=".476" stop-opacity=".418"/><stop offset=".5" stop-opacity=".391"/><stop offset=".524" stop-opacity=".421"/><stop offset=".576" stop-opacity=".579"/><stop offset=".6" stop-opacity=".622"/><stop offset=".626" stop-opacity=".6"/><stop offset="1" stop-opacity=".6"/></linearGradient><linearGradient id="p1d15"><stop offset="0" stop-opacity=".6"/><stop offset=".372" stop-opacity=".6"/><stop offset=".4" stop-opacity=".622"/><stop offset=".424" stop-opacity=".577"/><stop offset=".476" stop-opacity=".419"/><stop offset=".5" stop-opacity=".391"/><stop offset=".524" stop-opacity=".421"/><stop offset=".576" stop-opacity=".58"/><stop offset=".6" stop-opacity=".623"/><stop offset=".626" stop-opacity=".6"/><stop offset="1" stop-opacity=".6"/></linearGradient><linearGradient id="p1d16"><stop offset="0" stop-opacity=".6"/><stop offset=".372" stop-opacity=".6"/><stop offset=".4" stop-opacity=".623"/><stop offset=".424" stop-opacity=".578"/><stop offset=".476" stop-opacity=".419"/><stop offset=".5" stop-opacity=".392"/><stop offset=".524" stop-opacity=".422"/><stop offset=".576" stop-opacity=".58"/><stop offset=".6" stop-opacity=".623"/><stop offset=".626" stop-opacity=".6"/><stop offset="1" stop-opacity=".6"/></linearGradient><linearGradient id="p1d17"><stop offset="0" stop-opacity=".604"/><stop offset=".372" stop-opacity=".604"/><stop offset=".4" stop-opacity=".621"/><stop offset=".424" stop-opacity=".58"/><stop offset=".476" stop-opacity=".433"/><stop offset=".5" stop-opacity=".407"/><stop offset=".524" stop-opacity=".435"/><stop offset=".574" stop-opacity=".577"/><stop offset=".6" stop-opacity=".622"/><stop offset=".626" stop-opacity=".604"/><stop offset="1" stop-opacity=".604"/></linearGradient><linearGradient id="p1d18"><stop offset="0" stop-opacity=".622"/><stop offset=".398" stop-opacity=".622"/><stop offset=".5" stop-opacity=".592"/><stop offset=".602" stop-opacity=".622"/><stop offset="1" stop-opacity=".622"/></linearGradient><mask id="p1m" maskUnits="userSpaceOnUse" x="0" y="0" width="500" height="499.6"><rect y="-2.41" width="500" height="11.7" fill="url(#lp)"/><rect y="7.85" width="500" height="11.7" fill="url(#lp)"/><rect y="18.11" width="500" height="11.7" fill="url(#lp)"/><rect y="28.37" width="500" height="11.7" fill="url(#lp)"/><rect y="38.63" width="500" height="11.7" fill="url(#lp)"/><rect y="48.89" width="500" height="11.7" fill="url(#lp)"/><rect y="59.15" width="500" height="11.7" fill="url(#lp)"/><rect y="69.41" width="500" height="11.7" fill="url(#lp)"/><rect y="79.67" width="500" height="11.7" fill="url(#lp)"/><rect y="89.93" width="500" height="11.7" fill="url(#lp)"/><rect y="100.19" width="500" height="11.7" fill="url(#lp)"/><rect y="110.45" width="500" height="11.7" fill="url(#lp)"/><rect y="120.71" width="500" height="11.7" fill="url(#lp)"/><rect y="130.97" width="500" height="11.7" fill="url(#lp)"/><rect y="141.23" width="500" height="11.7" fill="url(#lp)"/><rect y="151.49" width="500" height="11.7" fill="url(#lp)"/><rect y="161.75" width="500" height="11.7" fill="url(#lp)"/><rect y="172.01" width="500" height="11.7" fill="url(#lp)"/><rect y="182.27" width="500" height="11.7" fill="url(#lp)"/><rect y="193.7" width="500" height="9" fill="url(#lp)"/><rect y="201.21" width="500" height="9" fill="url(#lp)"/><rect y="208.72" width="500" height="9" fill="url(#lp)"/><rect y="216.23" width="500" height="9" fill="url(#lp)"/><rect y="223.74" width="500" height="9" fill="url(#lp)"/><rect y="231.25" width="500" height="9" fill="url(#lp)"/><rect y="238.76" width="500" height="9" fill="url(#lp)"/><rect y="247.02" width="500" height="7.5" fill="url(#lp)"/><rect y="254.53" width="500" height="7.5" fill="url(#lp)"/><rect y="262.04" width="500" height="7.5" fill="url(#lp)"/><rect y="269.55" width="500" height="7.5" fill="url(#lp)"/><rect y="277.06" width="500" height="7.5" fill="url(#lp)"/><rect y="284.57" width="500" height="7.5" fill="url(#lp)"/><rect y="292.08" width="500" height="7.5" fill="url(#lp)"/><rect y="299.59" width="500" height="7.5" fill="url(#lp)"/><rect y="307.1" width="500" height="7.5" fill="url(#lp)"/><rect y="314.61" width="500" height="7.5" fill="url(#lp)"/><rect y="322.12" width="500" height="7.5" fill="url(#lp)"/><rect y="329.63" width="500" height="7.5" fill="url(#lp)"/><rect y="337.14" width="500" height="7.5" fill="url(#lp)"/><rect y="344.65" width="500" height="7.5" fill="url(#lp)"/><rect y="352.16" width="500" height="7.5" fill="url(#lp)"/><rect y="359.67" width="500" height="7.5" fill="url(#lp)"/><rect y="367.18" width="500" height="7.5" fill="url(#lp)"/><rect y="374.69" width="500" height="7.5" fill="url(#lp)"/><rect y="382.2" width="500" height="7.5" fill="url(#lp)"/><rect y="389.71" width="500" height="7.5" fill="url(#lp)"/><rect y="397.22" width="500" height="7.5" fill="url(#lp)"/><rect y="404.73" width="500" height="7.5" fill="url(#lp)"/><rect y="412.24" width="500" height="7.5" fill="url(#lp)"/><rect y="419.75" width="500" height="7.5" fill="url(#lp)"/><rect y="427.26" width="500" height="7.5" fill="url(#lp)"/><rect y="434.77" width="500" height="7.5" fill="url(#lp)"/><rect y="442.28" width="500" height="7.5" fill="url(#lp)"/><rect y="449.79" width="500" height="7.5" fill="url(#lp)"/><rect y="457.3" width="500" height="7.5" fill="url(#lp)"/><rect y="464.81" width="500" height="7.5" fill="url(#lp)"/><rect y="472.32" width="500" height="7.5" fill="url(#lp)"/><rect y="479.83" width="500" height="7.5" fill="url(#lp)"/><rect y="487.34" width="500" height="7.5" fill="url(#lp)"/><rect y="494.85" width="500" height="7.5" fill="url(#lp)"/></mask></defs><g mask="url(#p1m)"><rect y="0" width="500" height="8.57" fill="url(#p1d0)"/><rect y="8.57" width="500" height="10.26" fill="url(#p1d1)"/><rect y="18.83" width="500" height="10.26" fill="url(#p1d2)"/><rect y="29.09" width="500" height="10.26" fill="url(#p1d3)"/><rect y="39.35" width="500" height="10.26" fill="url(#p1d4)"/><rect y="49.61" width="500" height="10.26" fill="url(#p1d5)"/><rect y="59.87" width="500" height="10.26" fill="url(#p1d6)"/><rect y="70.13" width="500" height="10.26" fill="url(#p1d7)"/><rect y="80.39" width="500" height="10.26" fill="url(#p1d8)"/><rect y="90.65" width="500" height="10.26" fill="url(#p1d9)"/><rect y="100.91" width="500" height="10.26" fill="url(#p1d10)"/><rect y="111.17" width="500" height="10.26" fill="url(#p1d11)"/><rect y="121.43" width="500" height="10.26" fill="url(#p1d12)"/><rect y="131.69" width="500" height="10.26" fill="url(#p1d13)"/><rect y="141.95" width="500" height="10.26" fill="url(#p1d14)"/><rect y="152.21" width="500" height="10.26" fill="url(#p1d15)"/><rect y="162.47" width="500" height="10.26" fill="url(#p1d16)"/><rect y="172.73" width="500" height="10.26" fill="url(#p1d17)"/><rect y="182.99" width="500" height="10.17" fill="url(#p1d18)"/><rect y="193.7" width="500" height="8.25" fill-opacity=".626"/><rect y="201.95" width="500" height="7.51" fill-opacity=".626"/><rect y="209.46" width="500" height="7.51" fill-opacity=".626"/><rect y="216.97" width="500" height="7.51" fill-opacity=".626"/><rect y="224.48" width="500" height="7.51" fill-opacity=".626"/><rect y="231.99" width="500" height="7.51" fill-opacity=".626"/><rect y="239.5" width="500" height="7.51" fill-opacity=".623"/><rect y="247.02" width="500" height="7.5" fill-opacity=".613"/><rect y="254.53" width="500" height="7.5" fill-opacity=".623"/><rect y="262.04" width="500" height="7.5" fill-opacity=".639"/><rect y="269.55" width="500" height="7.5" fill-opacity=".654"/><rect y="277.06" width="500" height="7.5" fill-opacity=".669"/><rect y="284.57" width="500" height="7.5" fill-opacity=".684"/><rect y="292.08" width="500" height="7.5" fill-opacity=".701"/><rect y="299.59" width="500" height="7.5" fill-opacity=".717"/><rect y="307.1" width="500" height="7.5" fill-opacity=".722"/><rect y="314.61" width="500" height="7.5" fill-opacity=".726"/><rect y="322.12" width="500" height="7.5" fill-opacity=".731"/><rect y="329.63" width="500" height="7.5" fill-opacity=".736"/><rect y="337.14" width="500" height="7.5" fill-opacity=".74"/><rect y="344.65" width="500" height="7.5" fill-opacity=".745"/><rect y="352.16" width="500" height="7.5" fill-opacity=".75"/><rect y="359.67" width="500" height="7.5" fill-opacity=".755"/><rect y="367.18" width="500" height="7.5" fill-opacity=".75"/><rect y="374.69" width="500" height="7.5" fill-opacity=".745"/><rect y="382.2" width="500" height="7.5" fill-opacity=".74"/><rect y="389.71" width="500" height="7.5" fill-opacity=".734"/><rect y="397.22" width="500" height="7.5" fill-opacity=".711"/><rect y="404.73" width="500" height="7.5" fill-opacity=".69"/><rect y="412.24" width="500" height="7.5" fill-opacity=".671"/><rect y="419.75" width="500" height="7.5" fill-opacity=".648"/><rect y="427.26" width="500" height="7.5" fill-opacity=".583"/><rect y="434.77" width="500" height="7.5" fill-opacity=".526"/><rect y="442.28" width="500" height="7.5" fill-opacity=".476"/><rect y="449.79" width="500" height="7.5" fill-opacity=".42"/><rect y="457.3" width="500" height="7.5" fill-opacity=".36"/><rect y="464.81" width="500" height="7.5" fill-opacity=".304"/><rect y="472.32" width="500" height="7.5" fill-opacity=".256"/><rect y="479.83" width="500" height="7.5" fill-opacity=".231"/><rect y="487.34" width="500" height="7.5" fill-opacity=".207"/><rect y="494.85" width="500" height="4.75" fill-opacity=".184"/></g></svg>
</div>
<div class="hm" style="left:941.6px;top:39.4px;width:499px;height:499.6px;clip-path:inset(4px)">
<i style="top:0px;height:4.54px;background:linear-gradient(90deg,#c0c0c0 0px,#bfbfbf 149px,#bbbbbb 162px,#a9a9a9 178px,#a4a4a4 187px,#a1a1a1 234px,#a4a4a4 280px,#a9a9a9 289px,#bababa 305px,#bfbfbf 318px,#c0c0c0 499px)"></i>
<i style="top:3.94px;height:10.86px;background:linear-gradient(90deg,#c0c0c0 0px,#bfbfbf 149px,#bbbbbb 162px,#a9a9a9 178px,#a4a4a4 187px,#a1a1a1 234px,#a4a4a4 280px,#a9a9a9 289px,#bababa 305px,#bfbfbf 318px,#c0c0c0 499px)"></i>
<i style="top:14.2px;height:10.86px;background:linear-gradient(90deg,#c0c0c0 0px,#bfbfbf 149px,#bbbbbb 162px,#a9a9a9 178px,#a4a4a4 187px,#a1a1a1 234px,#a4a4a4 280px,#a9a9a9 289px,#bababa 305px,#bfbfbf 318px,#c0c0c0 499px)"></i>
<i style="top:24.46px;height:10.86px;background:linear-gradient(90deg,#c0c0c0 0px,#bfbfbf 149px,#bbbbbb 162px,#a9a9a9 178px,#a4a4a4 187px,#a1a1a1 234px,#a4a4a4 280px,#a9a9a9 289px,#bababa 305px,#bfbfbf 318px,#c0c0c0 499px)"></i>
<i style="top:34.72px;height:10.86px;background:linear-gradient(90deg,#c0c0c0 0px,#bfbfbf 149px,#bbbbbb 162px,#a9a9a9 178px,#a4a4a4 187px,#a1a1a1 234px,#a4a4a4 280px,#a9a9a9 289px,#bababa 305px,#bfbfbf 318px,#c0c0c0 499px)"></i>
<i style="top:44.98px;height:10.86px;background:linear-gradient(90deg,#c0c0c0 0px,#bfbfbf 149px,#bbbbbb 162px,#a9a9a9 178px,#a4a4a4 187px,#a1a1a1 234px,#a4a4a4 280px,#a9a9a9 289px,#bababa 305px,#bfbfbf 318px,#c0c0c0 499px)"></i>
<i style="top:55.24px;height:10.86px;background:linear-gradient(90deg,#c0c0c0 0px,#bfbfbf 149px,#bbbbbb 162px,#ababab 179px,#a7a7a7 189px,#a3a3a3 272px,#a7a7a7 288px,#b1b1b1 299px,#bcbcbc 307px,#bfbfbf 317px,#c0c0c0 499px)"></i>
<i style="top:65.5px;height:10.86px;background:linear-gradient(90deg,#c0c0c0 0px,#bfbfbf 164px,#b2b2b2 185px,#b1b1b1 193px,#a9a9a9 200px,#9e9e9e 249px,#7e7e7e 297px,#858585 300px,#959595 302px,#ababab 304px,#b9b9b9 306px,#bfbfbf 310px,#c0c0c0 499px)"></i>
<i style="top:75.76px;height:10.86px;background:linear-gradient(90deg,#c0c0c0 0px,#bebebe 164px,#b0b0b0 185px,#aeaeae 192px,#a1a1a1 200px,#979797 247px,#787878 296px,#797979 298px,#7f7f7f 300px,#868686 301px,#a9a9a9 304px,#b8b8b8 306px,#bfbfbf 310px,#c0c0c0 499px)"></i>
<i style="top:86.02px;height:10.86px;background:linear-gradient(90deg,#c0c0c0 0px,#bebebe 165px,#acacac 192px,#a6a6a6 194px,#949494 198px,#909090 201px,#898989 247px,#6c6c6c 296px,#6d6d6d 298px,#767676 300px,#7f7f7f 301px,#a7a7a7 304px,#b8b8b8 306px,#bebebe 308px,#bfbfbf 310px,#c0c0c0 499px)"></i>
<i style="top:96.28px;height:10.86px;background:linear-gradient(90deg,#c0c0c0 0px,#bebebe 166px,#acacac 191px,#a7a7a7 193px,#868686 198px,#808080 201px,#7b7b7b 247px,#606060 295px,#606060 297px,#666666 299px,#6c6c6c 300px,#777777 301px,#a5a5a5 304px,#b0b0b0 305px,#bbbbbb 307px,#bfbfbf 310px,#c0c0c0 499px)"></i>
<i style="top:106.54px;height:10.86px;background:linear-gradient(90deg,#c0c0c0 0px,#bebebe 166px,#acacac 191px,#a5a5a5 193px,#7d7d7d 198px,#767676 201px,#717171 247px,#585858 295px,#595959 297px,#5f5f5f 299px,#676767 300px,#727272 301px,#a3a3a3 304px,#afafaf 305px,#bbbbbb 307px,#bfbfbf 310px,#c0c0c0 499px)"></i>
<i style="top:116.8px;height:10.86px;background:linear-gradient(90deg,#c0c0c0 0px,#bebebe 166px,#acacac 191px,#a5a5a5 193px,#808080 197px,#797979 198px,#717171 201px,#6b6b6b 248px,#545454 295px,#565656 297px,#5c5c5c 299px,#646464 300px,#707070 301px,#a3a3a3 304px,#afafaf 305px,#bbbbbb 307px,#bfbfbf 310px,#c0c0c0 499px)"></i>
<i style="top:127.06px;height:10.86px;background:linear-gradient(90deg,#c0c0c0 0px,#bebebe 166px,#acacac 191px,#a4a4a4 193px,#7e7e7e 197px,#777777 198px,#707070 200px,#6e6e6e 202px,#686868 247px,#525252 295px,#545454 297px,#5b5b5b 299px,#636363 300px,#707070 301px,#a2a2a2 304px,#afafaf 305px,#bbbbbb 307px,#bfbfbf 310px,#c0c0c0 499px)"></i>
<i style="top:137.32px;height:10.86px;background:linear-gradient(90deg,#c0c0c0 0px,#c0c0c0 146px,#bdbdbd 167px,#acacac 191px,#a4a4a4 193px,#7d7d7d 197px,#767676 198px,#6f6f6f 200px,#6d6d6d 202px,#666666 248px,#525252 295px,#535353 297px,#5a5a5a 299px,#626262 300px,#6f6f6f 301px,#a2a2a2 304px,#aeaeae 305px,#bbbbbb 307px,#bfbfbf 310px,#c0c0c0 499px)"></i>
<i style="top:147.58px;height:10.86px;background:linear-gradient(90deg,#c0c0c0 0px,#c0c0c0 146px,#bdbdbd 167px,#acacac 191px,#a4a4a4 193px,#9c9c9c 194px,#7d7d7d 197px,#767676 198px,#6f6f6f 200px,#6c6c6c 202px,#656565 248px,#515151 295px,#535353 297px,#5a5a5a 299px,#626262 300px,#6f6f6f 301px,#a2a2a2 304px,#aeaeae 305px,#bbbbbb 307px,#bfbfbf 310px,#c0c0c0 499px)"></i>
<i style="top:157.84px;height:10.86px;background:linear-gradient(90deg,#c0c0c0 0px,#c0c0c0 146px,#bdbdbd 167px,#acacac 191px,#a4a4a4 193px,#9c9c9c 194px,#7d7d7d 197px,#767676 198px,#6e6e6e 200px,#6c6c6c 202px,#646464 248px,#515151 295px,#525252 297px,#5a5a5a 299px,#626262 300px,#6f6f6f 301px,#a2a2a2 304px,#aeaeae 305px,#bbbbbb 307px,#bfbfbf 310px,#c0c0c0 499px)"></i>
<i style="top:168.1px;height:10.86px;background:linear-gradient(90deg,#c0c0c0 0px,#c0c0c0 146px,#bebebe 167px,#adadad 191px,#a5a5a5 193px,#9d9d9d 194px,#7d7d7d 197px,#767676 198px,#6e6e6e 200px,#6c6c6c 202px,#646464 248px,#515151 295px,#535353 297px,#5a5a5a 299px,#626262 300px,#6f6f6f 301px,#a2a2a2 304px,#aeaeae 305px,#bbbbbb 307px,#bfbfbf 310px,#c0c0c0 499px)"></i>
<i style="top:178.36px;height:10.86px;background:linear-gradient(90deg,#c0c0c0 0px,#bebebe 170px,#b8b8b8 182px,#afafaf 189px,#a6a6a6 192px,#848484 198px,#7d7d7d 201px,#787878 205px,#7c7c7c 243px,#717171 276px,#767676 283px,#8c8c8c 292px,#989898 299px,#9f9f9f 301px,#b8b8b8 305px,#bdbdbd 307px,#bfbfbf 310px,#c0c0c0 499px)"></i>
<i style="top:188.62px;height:10.18px;background:linear-gradient(90deg,#c0c0c0 0px,#c0c0c0 158px,#bebebe 178px,#b9b9b9 184px,#adadad 189px,#9a9a9a 193px,#616161 202px,#555555 205px,#4f4f4f 208px,#4d4d4d 214px,#5c5c5c 233px,#5f5f5f 243px,#5b5b5b 252px,#4c4c4c 272px,#505050 277px,#5b5b5b 281px,#6b6b6b 284px,#9a9a9a 291px,#adadad 295px,#b8b8b8 299px,#bebebe 305px,#c0c0c0 499px)"></i>
<i style="top:198.2px;height:8.11px;background:linear-gradient(90deg,#c0c0c0 0px,#bebebe 177px,#b8b8b8 184px,#aaaaaa 189px,#979797 193px,#606060 202px,#545454 205px,#4b4b4b 209px,#494949 216px,#545454 233px,#575757 243px,#484848 271px,#4c4c4c 276px,#5a5a5a 281px,#696969 284px,#9c9c9c 292px,#adadad 296px,#b7b7b7 300px,#bdbdbd 306px,#c0c0c0 323px,#c0c0c0 499px)"></i>
<i style="top:205.71px;height:8.11px;background:linear-gradient(90deg,#c0c0c0 0px,#c0c0c0 159px,#bdbdbd 177px,#b6b6b6 184px,#a7a7a7 189px,#949494 193px,#646464 201px,#535353 205px,#484848 210px,#454545 215px,#515151 241px,#4f4f4f 250px,#454545 267px,#474747 274px,#4f4f4f 278px,#5e5e5e 282px,#989898 292px,#aaaaaa 296px,#b7b7b7 301px,#bebebe 308px,#c0c0c0 326px,#c0c0c0 499px)"></i>
<i style="top:213.22px;height:8.11px;background:linear-gradient(90deg,#c0c0c0 0px,#c0c0c0 156px,#bdbdbd 175px,#b7b7b7 182px,#ababab 187px,#979797 192px,#5a5a5a 203px,#4d4d4d 207px,#454545 211px,#424242 218px,#4b4b4b 243px,#424242 268px,#454545 273px,#4f4f4f 278px,#636363 283px,#959595 292px,#a7a7a7 296px,#b5b5b5 301px,#bdbdbd 308px,#c0c0c0 327px,#c0c0c0 499px)"></i>
<i style="top:220.73px;height:8.11px;background:linear-gradient(90deg,#c0c0c0 0px,#c0c0c0 154px,#bdbdbd 174px,#b7b7b7 181px,#a9a9a9 187px,#949494 192px,#5a5a5a 203px,#4c4c4c 207px,#444444 211px,#404040 219px,#464646 244px,#404040 266px,#424242 272px,#4b4b4b 277px,#5d5d5d 282px,#929292 292px,#a8a8a8 297px,#b6b6b6 303px,#bdbdbd 310px,#c0c0c0 330px,#c0c0c0 499px)"></i>
<i style="top:228.24px;height:8.11px;background:linear-gradient(90deg,#c0c0c0 0px,#c0c0c0 153px,#bcbcbc 174px,#b5b5b5 181px,#a6a6a6 187px,#919191 192px,#5e5e5e 202px,#4c4c4c 207px,#414141 213px,#3d3d3d 220px,#424242 242px,#3d3d3d 265px,#414141 272px,#4b4b4b 277px,#595959 281px,#959595 293px,#a8a8a8 298px,#b6b6b6 304px,#bdbdbd 312px,#c0c0c0 333px,#c0c0c0 499px)"></i>
<i style="top:235.75px;height:8.11px;background:linear-gradient(90deg,#c0c0c0 0px,#c0c0c0 152px,#bcbcbc 173px,#b3b3b3 181px,#a3a3a3 187px,#8f8f8f 192px,#5e5e5e 202px,#494949 208px,#3f3f3f 214px,#3b3b3b 222px,#3e3e3e 241px,#3b3b3b 264px,#414141 272px,#4b4b4b 277px,#595959 281px,#929292 293px,#a9a9a9 299px,#b5b5b5 305px,#bdbdbd 313px,#c0c0c0 335px,#c0c0c0 499px)"></i>
<i style="top:243.26px;height:8.11px;background:linear-gradient(90deg,#bababa 0px,#bababa 149px,#b6b6b6 171px,#afafaf 179px,#9f9f9f 186px,#8d8d8d 191px,#5c5c5c 202px,#464646 209px,#3b3b3b 216px,#393939 224px,#3b3b3b 241px,#393939 262px,#3e3e3e 271px,#484848 276px,#535353 280px,#909090 294px,#a1a1a1 299px,#b0b0b0 306px,#b6b6b6 314px,#bababa 333px,#bababa 499px)"></i>
<i style="top:250.77px;height:8.11px;background:linear-gradient(90deg,#9b9b9b 0px,#9c9c9c 98px,#a7a7a7 144px,#a6a6a6 160px,#9d9d9d 173px,#909090 182px,#7d7d7d 189px,#4d4d4d 203px,#3b3b3b 212px,#363636 221px,#363636 261px,#393939 270px,#434343 277px,#525252 283px,#7d7d7d 296px,#8d8d8d 303px,#979797 311px,#9f9f9f 324px,#a1a1a1 332px,#9b9b9b 358px,#9b9b9b 499px)"></i>
<i style="top:258.28px;height:8.11px;background:linear-gradient(90deg,#8d8d8d 0px,#8e8e8e 97px,#939393 114px,#a3a3a3 141px,#a3a3a3 155px,#9a9a9a 168px,#8a8a8a 179px,#787878 187px,#4b4b4b 202px,#3e3e3e 208px,#363636 215px,#343434 224px,#343434 263px,#383838 272px,#474747 281px,#6e6e6e 295px,#7e7e7e 302px,#898989 311px,#979797 328px,#8d8d8d 358px,#8d8d8d 499px)"></i>
<i style="top:265.79px;height:8.11px;background:linear-gradient(90deg,#878787 0px,#888888 96px,#8f8f8f 112px,#a4a4a4 139px,#a5a5a5 151px,#9d9d9d 163px,#8b8b8b 176px,#777777 185px,#484848 202px,#383838 211px,#323232 222px,#323232 259px,#343434 268px,#3c3c3c 276px,#474747 282px,#686868 295px,#777777 302px,#909090 322px,#959595 329px,#959595 335px,#878787 351px,#838383 360px,#898989 393px,#878787 499px)"></i>
<i style="top:273.3px;height:8.11px;background:linear-gradient(90deg,#7a7a7a 0px,#7a7a7a 102px,#7e7e7e 109px,#999999 134px,#9d9d9d 149px,#959595 160px,#838383 173px,#707070 183px,#454545 201px,#363636 211px,#303030 222px,#303030 258px,#323232 268px,#393939 276px,#444444 283px,#6b6b6b 302px,#868686 324px,#8a8a8a 330px,#888888 338px,#727272 357px,#707070 361px,#787878 373px,#7f7f7f 394px,#767676 426px,#7b7b7b 457px,#7a7a7a 499px)"></i>
<i style="top:280.81px;height:8.11px;background:linear-gradient(90deg,#6f6f6f 0px,#6f6f6f 86px,#696969 103px,#6c6c6c 107px,#808080 119px,#8b8b8b 129px,#929292 139px,#929292 148px,#8b8b8b 158px,#7a7a7a 171px,#393939 206px,#313131 215px,#2f2f2f 227px,#2f2f2f 262px,#333333 273px,#3e3e3e 282px,#616161 302px,#7d7d7d 326px,#808080 331px,#7c7c7c 340px,#626262 359px,#606060 362px,#6d6d6d 374px,#777777 395px,#666666 428px,#6e6e6e 440px,#747474 459px,#6f6f6f 477px,#6f6f6f 499px)"></i>
<i style="top:288.32px;height:8.11px;background:linear-gradient(90deg,#6a6a6a 0px,#6b6b6b 85px,#5e5e5e 103px,#636363 107px,#787878 117px,#828282 124px,#8b8b8b 136px,#8c8c8c 146px,#868686 156px,#787878 168px,#636363 181px,#404040 200px,#333333 210px,#2e2e2e 223px,#2d2d2d 255px,#2f2f2f 267px,#353535 276px,#5c5c5c 302px,#777777 326px,#7b7b7b 332px,#797979 338px,#707070 347px,#696969 352px,#585858 360px,#565656 363px,#686868 375px,#757575 397px,#696969 418px,#5c5c5c 430px,#696969 442px,#727272 461px,#6b6b6b 479px,#6a6a6a 499px)"></i>
<i style="top:295.83px;height:8.11px;background:linear-gradient(90deg,#636363 0px,#636363 84px,#606060 90px,#525252 99px,#505050 102px,#555555 106px,#6d6d6d 115px,#777777 121px,#818181 133px,#838383 144px,#7d7d7d 154px,#707070 166px,#3e3e3e 199px,#333333 208px,#2d2d2d 220px,#2c2c2c 242px,#2d2d2d 263px,#323232 275px,#565656 303px,#6f6f6f 327px,#727272 333px,#707070 340px,#656565 350px,#4a4a4a 363px,#4c4c4c 366px,#606060 376px,#707070 398px,#606060 420px,#505050 431px,#525252 434px,#606060 443px,#6d6d6d 462px,#646464 481px,#636363 499px)"></i>
<i style="top:303.34px;height:8.11px;background:linear-gradient(90deg,#616161 0px,#616161 83px,#5c5c5c 89px,#494949 98px,#464646 101px,#4a4a4a 104px,#6a6a6a 114px,#757575 120px,#7f7f7f 132px,#808080 143px,#7b7b7b 152px,#6f6f6f 164px,#3d3d3d 199px,#333333 208px,#2c2c2c 221px,#2b2b2b 242px,#2c2c2c 263px,#323232 275px,#545454 303px,#707070 333px,#6e6e6e 340px,#636363 351px,#454545 364px,#484848 367px,#585858 373px,#5e5e5e 377px,#6f6f6f 399px,#6d6d6d 404px,#5e5e5e 421px,#4b4b4b 430px,#484848 433px,#4b4b4b 436px,#5e5e5e 445px,#6d6d6d 464px,#6d6d6d 469px,#626262 482px,#616161 499px)"></i>
<i style="top:310.85px;height:8.11px;background:linear-gradient(90deg,#5f5f5f 0px,#5f5f5f 82px,#585858 89px,#444444 97px,#404040 100px,#444444 103px,#646464 112px,#717171 118px,#7b7b7b 129px,#7d7d7d 141px,#797979 150px,#6e6e6e 161px,#323232 208px,#2c2c2c 221px,#2a2a2a 242px,#2c2c2c 263px,#313131 275px,#525252 303px,#6e6e6e 334px,#6b6b6b 341px,#606060 352px,#434343 365px,#464646 368px,#565656 374px,#5c5c5c 378px,#6c6c6c 400px,#6b6b6b 405px,#5c5c5c 422px,#434343 434px,#464646 437px,#5b5b5b 446px,#6c6c6c 466px,#6b6b6b 471px,#606060 484px,#5f5f5f 499px)"></i>
<i style="top:318.36px;height:8.11px;background:linear-gradient(90deg,#5c5c5c 0px,#5c5c5c 81px,#565656 88px,#424242 96px,#3f3f3f 99px,#424242 102px,#616161 111px,#6e6e6e 117px,#777777 127px,#7a7a7a 139px,#757575 148px,#6c6c6c 158px,#313131 208px,#2b2b2b 221px,#292929 242px,#2b2b2b 262px,#303030 275px,#4f4f4f 303px,#6a6a6a 334px,#686868 341px,#5e5e5e 352px,#585858 356px,#464646 363px,#414141 366px,#444444 369px,#595959 378px,#696969 401px,#686868 406px,#595959 424px,#454545 433px,#414141 436px,#454545 439px,#595959 448px,#696969 468px,#686868 473px,#5e5e5e 485px,#5c5c5c 499px)"></i>
<i style="top:325.87px;height:8.11px;background:linear-gradient(90deg,#575757 0px,#575757 80px,#515151 87px,#3f3f3f 95px,#3b3b3b 98px,#3e3e3e 101px,#5c5c5c 110px,#686868 116px,#717171 126px,#727272 138px,#686868 155px,#313131 207px,#2a2a2a 221px,#292929 242px,#2a2a2a 262px,#2f2f2f 275px,#4a4a4a 303px,#646464 335px,#626262 342px,#575757 354px,#3e3e3e 367px,#404040 370px,#545454 379px,#636363 403px,#555555 425px,#3e3e3e 437px,#404040 440px,#535353 449px,#636363 469px,#636363 474px,#585858 487px,#575757 499px)"></i>
<i style="top:333.38px;height:8.11px;background:linear-gradient(90deg,#535353 0px,#535353 79px,#4d4d4d 86px,#3a3a3a 95px,#393939 98px,#3e3e3e 101px,#5a5a5a 110px,#636363 115px,#6b6b6b 125px,#6d6d6d 136px,#646464 152px,#2f2f2f 207px,#2a2a2a 221px,#282828 242px,#2a2a2a 263px,#2f2f2f 276px,#5f5f5f 336px,#5d5d5d 343px,#535353 355px,#3a3a3a 368px,#3d3d3d 371px,#4f4f4f 380px,#5e5e5e 404px,#505050 427px,#3a3a3a 439px,#3d3d3d 442px,#4f4f4f 451px,#5e5e5e 471px,#5d5d5d 476px,#545454 489px,#535353 499px)"></i>
<i style="top:340.89px;height:8.11px;background:linear-gradient(90deg,#4f4f4f 0px,#4f4f4f 79px,#4a4a4a 85px,#383838 94px,#363636 97px,#3b3b3b 100px,#565656 109px,#5f5f5f 114px,#666666 123px,#686868 134px,#606060 149px,#2f2f2f 206px,#292929 220px,#272727 242px,#292929 263px,#2e2e2e 276px,#5a5a5a 337px,#585858 344px,#4f4f4f 356px,#3b3b3b 366px,#383838 369px,#3b3b3b 372px,#4c4c4c 381px,#5a5a5a 405px,#4d4d4d 428px,#383838 440px,#3a3a3a 443px,#4c4c4c 453px,#595959 473px,#595959 478px,#505050 490px,#4f4f4f 499px)"></i>
<i style="top:348.4px;height:8.11px;background:linear-gradient(90deg,#4c4c4c 0px,#4b4b4b 78px,#474747 84px,#363636 93px,#343434 96px,#393939 99px,#535353 108px,#5b5b5b 113px,#626262 122px,#636363 133px,#5d5d5d 147px,#2e2e2e 206px,#292929 221px,#272727 242px,#292929 263px,#2d2d2d 277px,#565656 337px,#555555 344px,#4b4b4b 357px,#383838 367px,#353535 370px,#494949 382px,#565656 406px,#494949 430px,#353535 442px,#383838 445px,#494949 454px,#565656 475px,#4c4c4c 499px)"></i>
<i style="top:355.91px;height:8.11px;background:linear-gradient(90deg,#484848 0px,#434343 29px,#484848 48px,#484848 77px,#444444 83px,#343434 92px,#323232 95px,#363636 98px,#4f4f4f 107px,#585858 112px,#5e5e5e 121px,#5f5f5f 131px,#595959 144px,#2e2e2e 205px,#292929 220px,#272727 242px,#2d2d2d 277px,#535353 338px,#515151 345px,#484848 358px,#363636 368px,#333333 371px,#454545 383px,#525252 408px,#464646 431px,#353535 441px,#333333 444px,#464646 456px,#525252 477px,#484848 499px)"></i>
<i style="top:363.42px;height:8.11px;background:linear-gradient(90deg,#454545 0px,#3e3e3e 28px,#454545 47px,#454545 76px,#424242 82px,#323232 91px,#303030 94px,#343434 97px,#4a4a4a 105px,#545454 111px,#5a5a5a 119px,#5b5b5b 130px,#565656 142px,#2d2d2d 204px,#282828 220px,#262626 242px,#2c2c2c 278px,#4f4f4f 339px,#454545 359px,#333333 369px,#313131 372px,#434343 384px,#4f4f4f 409px,#434343 433px,#313131 445px,#333333 448px,#434343 457px,#4e4e4e 478px,#4f4f4f 483px,#464646 499px)"></i>
<i style="top:370.93px;height:8.11px;background:linear-gradient(90deg,#434343 0px,#414141 11px,#393939 27px,#424242 46px,#434343 75px,#404040 81px,#313131 90px,#2f2f2f 93px,#323232 96px,#484848 104px,#525252 110px,#575757 118px,#585858 128px,#545454 140px,#2d2d2d 203px,#282828 219px,#262626 242px,#2c2c2c 279px,#4c4c4c 339px,#434343 359px,#2f2f2f 373px,#414141 385px,#4c4c4c 410px,#414141 434px,#2f2f2f 447px,#414141 459px,#4c4c4c 480px,#4c4c4c 485px,#444444 499px)"></i>
<i style="top:378.44px;height:8.11px;background:linear-gradient(90deg,#404040 0px,#3e3e3e 10px,#333333 25px,#3f3f3f 44px,#414141 74px,#3e3e3e 80px,#2f2f2f 89px,#2d2d2d 92px,#303030 95px,#454545 103px,#4e4e4e 108px,#535353 116px,#555555 126px,#515151 138px,#2d2d2d 202px,#262626 242px,#2b2b2b 279px,#4a4a4a 340px,#404040 360px,#2e2e2e 374px,#3e3e3e 386px,#494949 411px,#3e3e3e 436px,#2e2e2e 448px,#303030 451px,#3e3e3e 460px,#494949 482px,#494949 487px,#424242 499px)"></i>
<i style="top:385.95px;height:8.11px;background:linear-gradient(90deg,#3e3e3e 0px,#3b3b3b 9px,#303030 24px,#3d3d3d 43px,#3e3e3e 74px,#3a3a3a 80px,#2d2d2d 88px,#2b2b2b 91px,#2f2f2f 94px,#424242 102px,#4b4b4b 107px,#505050 115px,#515151 125px,#2c2c2c 201px,#262626 242px,#2b2b2b 280px,#474747 341px,#3d3d3d 362px,#2e2e2e 372px,#2c2c2c 375px,#3c3c3c 387px,#464646 412px,#3c3c3c 437px,#2c2c2c 450px,#3c3c3c 462px,#464646 483px,#464646 489px,#404040 499px)"></i>
<i style="top:393.46px;height:8.11px;background:linear-gradient(90deg,#3b3b3b 0px,#393939 8px,#2e2e2e 23px,#3b3b3b 42px,#3c3c3c 73px,#383838 79px,#2a2a2a 90px,#2d2d2d 93px,#404040 101px,#484848 106px,#4d4d4d 113px,#4e4e4e 123px,#2c2c2c 200px,#252525 242px,#2b2b2b 281px,#393939 321px,#444444 341px,#3b3b3b 362px,#2a2a2a 375px,#2c2c2c 378px,#3a3a3a 388px,#444444 414px,#3a3a3a 439px,#2a2a2a 451px,#393939 463px,#434343 485px,#434343 491px,#3f3f3f 499px)"></i>
<i style="top:400.97px;height:8.11px;background:linear-gradient(90deg,#393939 0px,#2d2d2d 22px,#393939 41px,#3a3a3a 72px,#373737 78px,#292929 89px,#2c2c2c 92px,#3e3e3e 100px,#464646 105px,#4b4b4b 112px,#4c4c4c 121px,#2c2c2c 198px,#252525 242px,#2a2a2a 282px,#373737 321px,#424242 342px,#393939 364px,#292929 376px,#383838 389px,#424242 415px,#383838 441px,#292929 453px,#393939 467px,#424242 489px,#3e3e3e 499px)"></i>
<i style="top:408.48px;height:8.11px;background:linear-gradient(90deg,#373737 0px,#2b2b2b 21px,#373737 39px,#383838 71px,#353535 77px,#282828 88px,#2a2a2a 91px,#3c3c3c 99px,#444444 104px,#494949 111px,#4a4a4a 120px,#373737 161px,#2b2b2b 196px,#252525 242px,#2a2a2a 283px,#363636 322px,#404040 342px,#373737 364px,#282828 377px,#363636 390px,#404040 416px,#363636 442px,#282828 454px,#373737 468px,#404040 490px,#3d3d3d 499px)"></i>
<i style="top:415.99px;height:8.11px;background:linear-gradient(90deg,#353535 0px,#2a2a2a 19px,#353535 38px,#373737 70px,#343434 76px,#272727 87px,#292929 90px,#3a3a3a 98px,#424242 103px,#474747 117px,#444444 129px,#343434 164px,#272727 216px,#252525 242px,#282828 276px,#333333 321px,#3d3d3d 344px,#353535 366px,#262626 378px,#343434 391px,#3d3d3d 419px,#343434 444px,#262626 456px,#353535 469px,#3d3d3d 492px,#3c3c3c 499px)"></i>
<i style="top:423.5px;height:8.11px;background:linear-gradient(90deg,#333333 0px,#282828 18px,#333333 37px,#343434 69px,#323232 75px,#252525 86px,#292929 90px,#373737 97px,#3e3e3e 102px,#434343 116px,#333333 158px,#2a2a2a 194px,#252525 243px,#292929 287px,#323232 322px,#3b3b3b 345px,#323232 367px,#252525 379px,#323232 392px,#3b3b3b 420px,#323232 445px,#252525 458px,#323232 470px,#3b3b3b 493px,#3a3a3a 499px)"></i>
<i style="top:431.01px;height:8.11px;background:linear-gradient(90deg,#313131 0px,#272727 17px,#313131 36px,#323232 68px,#303030 74px,#242424 83px,#232323 86px,#3a3a3a 101px,#3e3e3e 115px,#292929 195px,#252525 243px,#292929 289px,#303030 323px,#393939 346px,#313131 368px,#232323 380px,#313131 393px,#393939 421px,#303030 447px,#232323 459px,#313131 472px,#393939 499px)"></i>
<i style="top:438.52px;height:8.11px;background:linear-gradient(90deg,#2e2e2e 0px,#262626 16px,#303030 35px,#313131 67px,#2e2e2e 73px,#212121 85px,#353535 99px,#3a3a3a 113px,#282828 199px,#252525 246px,#2e2e2e 318px,#373737 346px,#2f2f2f 368px,#222222 381px,#2f2f2f 394px,#373737 422px,#2f2f2f 448px,#222222 461px,#2f2f2f 473px,#373737 499px)"></i>
<i style="top:446.03px;height:8.11px;background:linear-gradient(90deg,#2c2c2c 0px,#242424 15px,#2e2e2e 34px,#2f2f2f 66px,#2c2c2c 72px,#1f1f1f 84px,#313131 97px,#353535 107px,#272727 202px,#252525 242px,#2c2c2c 319px,#353535 347px,#2e2e2e 369px,#212121 382px,#2d2d2d 395px,#353535 424px,#2d2d2d 450px,#212121 462px,#2d2d2d 474px,#353535 499px)"></i>
<i style="top:453.54px;height:8.11px;background:linear-gradient(90deg,#2a2a2a 0px,#232323 13px,#2c2c2c 32px,#2d2d2d 64px,#2a2a2a 71px,#1e1e1e 83px,#2d2d2d 96px,#303030 105px,#252525 243px,#2b2b2b 320px,#333333 347px,#2c2c2c 370px,#202020 383px,#2c2c2c 396px,#333333 425px,#2c2c2c 451px,#202020 464px,#2b2b2b 476px,#323232 499px)"></i>
<i style="top:461.05px;height:8.11px;background:linear-gradient(90deg,#282828 0px,#212121 12px,#2a2a2a 31px,#2b2b2b 63px,#282828 70px,#1c1c1c 82px,#292929 95px,#2c2c2c 103px,#252525 255px,#2a2a2a 322px,#313131 348px,#2a2a2a 371px,#1f1f1f 384px,#2a2a2a 397px,#313131 426px,#2a2a2a 453px,#1f1f1f 465px,#292929 477px,#303030 499px)"></i>
<i style="top:468.56px;height:8.11px;background:linear-gradient(90deg,#252525 0px,#202020 11px,#292929 30px,#292929 62px,#262626 69px,#1a1a1a 81px,#272727 94px,#292929 102px,#252525 263px,#282828 323px,#2f2f2f 348px,#282828 372px,#1d1d1d 385px,#282828 397px,#2f2f2f 427px,#282828 454px,#1d1d1d 467px,#282828 479px,#2d2d2d 499px)"></i>
<i style="top:476.07px;height:8.11px;background:linear-gradient(90deg,#232323 0px,#1f1f1f 10px,#272727 29px,#272727 60px,#252525 68px,#191919 80px,#252525 93px,#272727 101px,#252525 272px,#272727 325px,#2d2d2d 349px,#272727 373px,#1c1c1c 386px,#262626 398px,#2d2d2d 428px,#262626 456px,#1c1c1c 468px,#272727 481px,#2a2a2a 499px)"></i>
<i style="top:483.58px;height:8.11px;background:linear-gradient(90deg,#212121 0px,#1e1e1e 9px,#262626 27px,#262626 59px,#232323 67px,#181818 79px,#242424 92px,#262626 100px,#252525 284px,#262626 326px,#2c2c2c 350px,#252525 374px,#1b1b1b 387px,#252525 399px,#2c2c2c 430px,#252525 457px,#1b1b1b 470px,#252525 482px,#282828 499px)"></i>
<i style="top:491.09px;height:8.11px;background:linear-gradient(90deg,#202020 0px,#1d1d1d 8px,#252525 26px,#252525 58px,#232323 66px,#181818 78px,#232323 91px,#252525 99px,#252525 317px,#2b2b2b 350px,#242424 375px,#1b1b1b 388px,#242424 400px,#2b2b2b 431px,#242424 459px,#1a1a1a 471px,#242424 484px,#272727 499px)"></i>
<i style="top:498.6px;height:1.6px;background:linear-gradient(90deg,#1f1f1f 0px,#1d1d1d 8px,#242424 27px,#252525 57px,#222222 65px,#171717 78px,#222222 90px,#252525 99px,#252525 320px,#2a2a2a 350px,#242424 375px,#1a1a1a 388px,#242424 401px,#2a2a2a 432px,#242424 460px,#1a1a1a 472px,#232323 484px,#262626 499px)"></i>
<svg width="499" height="499.6" viewBox="0 0 499 499.6"><defs><linearGradient id="p2d0"><stop offset="0" stop-opacity=".6"/><stop offset=".295" stop-opacity=".589"/><stop offset=".309" stop-opacity=".566"/><stop offset=".319" stop-opacity=".532"/><stop offset=".329" stop-opacity=".476"/><stop offset=".353" stop-opacity=".302"/><stop offset=".371" stop-opacity=".234"/><stop offset=".397" stop-opacity=".21"/><stop offset=".469" stop-opacity=".206"/><stop offset=".539" stop-opacity=".21"/><stop offset=".565" stop-opacity=".234"/><stop offset=".583" stop-opacity=".301"/><stop offset=".607" stop-opacity=".475"/><stop offset=".617" stop-opacity=".532"/><stop offset=".629" stop-opacity=".571"/><stop offset=".643" stop-opacity=".59"/><stop offset="1" stop-opacity=".6"/></linearGradient><linearGradient id="p2d1"><stop offset="0" stop-opacity=".6"/><stop offset=".295" stop-opacity=".589"/><stop offset=".309" stop-opacity=".566"/><stop offset=".319" stop-opacity=".532"/><stop offset=".329" stop-opacity=".476"/><stop offset=".353" stop-opacity=".302"/><stop offset=".371" stop-opacity=".234"/><stop offset=".397" stop-opacity=".21"/><stop offset=".469" stop-opacity=".206"/><stop offset=".539" stop-opacity=".21"/><stop offset=".565" stop-opacity=".234"/><stop offset=".583" stop-opacity=".301"/><stop offset=".607" stop-opacity=".475"/><stop offset=".617" stop-opacity=".532"/><stop offset=".629" stop-opacity=".571"/><stop offset=".643" stop-opacity=".59"/><stop offset="1" stop-opacity=".6"/></linearGradient><linearGradient id="p2d2"><stop offset="0" stop-opacity=".6"/><stop offset=".295" stop-opacity=".589"/><stop offset=".309" stop-opacity=".566"/><stop offset=".319" stop-opacity=".532"/><stop offset=".329" stop-opacity=".476"/><stop offset=".353" stop-opacity=".302"/><stop offset=".371" stop-opacity=".234"/><stop offset=".397" stop-opacity=".21"/><stop offset=".469" stop-opacity=".206"/><stop offset=".539" stop-opacity=".21"/><stop offset=".565" stop-opacity=".234"/><stop offset=".583" stop-opacity=".301"/><stop offset=".607" stop-opacity=".475"/><stop offset=".617" stop-opacity=".532"/><stop offset=".629" stop-opacity=".571"/><stop offset=".643" stop-opacity=".59"/><stop offset="1" stop-opacity=".6"/></linearGradient><linearGradient id="p2d3"><stop offset="0" stop-opacity=".6"/><stop offset=".295" stop-opacity=".589"/><stop offset=".309" stop-opacity=".566"/><stop offset=".319" stop-opacity=".532"/><stop offset=".329" stop-opacity=".476"/><stop offset=".353" stop-opacity=".302"/><stop offset=".371" stop-opacity=".234"/><stop offset=".397" stop-opacity=".21"/><stop offset=".467" stop-opacity=".206"/><stop offset=".539" stop-opacity=".21"/><stop offset=".565" stop-opacity=".234"/><stop offset=".583" stop-opacity=".301"/><stop offset=".607" stop-opacity=".475"/><stop offset=".617" stop-opacity=".532"/><stop offset=".629" stop-opacity=".571"/><stop offset=".643" stop-opacity=".59"/><stop offset="1" stop-opacity=".6"/></linearGradient><linearGradient id="p2d4"><stop offset="0" stop-opacity=".6"/><stop offset=".295" stop-opacity=".588"/><stop offset=".309" stop-opacity=".566"/><stop offset=".319" stop-opacity=".532"/><stop offset=".329" stop-opacity=".476"/><stop offset=".353" stop-opacity=".302"/><stop offset=".371" stop-opacity=".233"/><stop offset=".397" stop-opacity=".21"/><stop offset=".467" stop-opacity=".207"/><stop offset=".539" stop-opacity=".21"/><stop offset=".565" stop-opacity=".234"/><stop offset=".583" stop-opacity=".302"/><stop offset=".607" stop-opacity=".475"/><stop offset=".617" stop-opacity=".532"/><stop offset=".629" stop-opacity=".571"/><stop offset=".643" stop-opacity=".59"/><stop offset="1" stop-opacity=".6"/></linearGradient><linearGradient id="p2d5"><stop offset="0" stop-opacity=".6"/><stop offset=".257" stop-opacity=".599"/><stop offset=".297" stop-opacity=".587"/><stop offset=".311" stop-opacity=".562"/><stop offset=".321" stop-opacity=".524"/><stop offset=".351" stop-opacity=".319"/><stop offset=".363" stop-opacity=".261"/><stop offset=".377" stop-opacity=".229"/><stop offset=".399" stop-opacity=".22"/><stop offset=".527" stop-opacity=".225"/><stop offset=".561" stop-opacity=".245"/><stop offset=".581" stop-opacity=".305"/><stop offset=".609" stop-opacity=".492"/><stop offset=".619" stop-opacity=".543"/><stop offset=".631" stop-opacity=".576"/><stop offset=".645" stop-opacity=".592"/><stop offset="1" stop-opacity=".6"/></linearGradient><linearGradient id="p2d6"><stop offset="0" stop-opacity=".6"/><stop offset=".265" stop-opacity=".599"/><stop offset=".305" stop-opacity=".587"/><stop offset=".327" stop-opacity=".539"/><stop offset=".363" stop-opacity=".34"/><stop offset=".371" stop-opacity=".311"/><stop offset=".385" stop-opacity=".288"/><stop offset=".397" stop-opacity=".218"/><stop offset=".403" stop-opacity=".206"/><stop offset=".431" stop-opacity=".222"/><stop offset=".481" stop-opacity=".212"/><stop offset=".513" stop-opacity=".229"/><stop offset=".589" stop-opacity=".347"/><stop offset=".601" stop-opacity=".387"/><stop offset=".613" stop-opacity=".531"/><stop offset=".617" stop-opacity=".561"/><stop offset=".633" stop-opacity=".593"/><stop offset="1" stop-opacity=".6"/></linearGradient><linearGradient id="p2d7"><stop offset="0" stop-opacity=".6"/><stop offset=".311" stop-opacity=".588"/><stop offset=".325" stop-opacity=".566"/><stop offset=".335" stop-opacity=".531"/><stop offset=".345" stop-opacity=".473"/><stop offset=".367" stop-opacity=".309"/><stop offset=".373" stop-opacity=".284"/><stop offset=".387" stop-opacity=".264"/><stop offset=".401" stop-opacity=".165"/><stop offset=".477" stop-opacity=".149"/><stop offset=".519" stop-opacity=".179"/><stop offset=".595" stop-opacity=".321"/><stop offset=".599" stop-opacity=".339"/><stop offset=".603" stop-opacity=".376"/><stop offset=".611" stop-opacity=".513"/><stop offset=".615" stop-opacity=".562"/><stop offset=".625" stop-opacity=".597"/><stop offset="1" stop-opacity=".6"/></linearGradient><linearGradient id="p2d8"><stop offset="0" stop-opacity=".6"/><stop offset=".311" stop-opacity=".588"/><stop offset=".325" stop-opacity=".566"/><stop offset=".335" stop-opacity=".53"/><stop offset=".345" stop-opacity=".47"/><stop offset=".369" stop-opacity=".288"/><stop offset=".375" stop-opacity=".268"/><stop offset=".387" stop-opacity=".264"/><stop offset=".401" stop-opacity=".186"/><stop offset=".477" stop-opacity=".171"/><stop offset=".519" stop-opacity=".203"/><stop offset=".595" stop-opacity=".349"/><stop offset=".603" stop-opacity=".4"/><stop offset=".611" stop-opacity=".524"/><stop offset=".615" stop-opacity=".568"/><stop offset=".625" stop-opacity=".598"/><stop offset="1" stop-opacity=".6"/></linearGradient><linearGradient id="p2d9"><stop offset="0" stop-opacity=".6"/><stop offset=".309" stop-opacity=".59"/><stop offset=".323" stop-opacity=".57"/><stop offset=".335" stop-opacity=".53"/><stop offset=".345" stop-opacity=".47"/><stop offset=".365" stop-opacity=".309"/><stop offset=".373" stop-opacity=".272"/><stop offset=".389" stop-opacity=".277"/><stop offset=".403" stop-opacity=".235"/><stop offset=".433" stop-opacity=".241"/><stop offset=".477" stop-opacity=".223"/><stop offset=".519" stop-opacity=".257"/><stop offset=".595" stop-opacity=".414"/><stop offset=".603" stop-opacity=".456"/><stop offset=".613" stop-opacity=".565"/><stop offset=".623" stop-opacity=".597"/><stop offset="1" stop-opacity=".6"/></linearGradient><linearGradient id="p2d10"><stop offset="0" stop-opacity=".6"/><stop offset=".311" stop-opacity=".588"/><stop offset=".325" stop-opacity=".566"/><stop offset=".335" stop-opacity=".53"/><stop offset=".345" stop-opacity=".47"/><stop offset=".365" stop-opacity=".309"/><stop offset=".371" stop-opacity=".278"/><stop offset=".377" stop-opacity=".267"/><stop offset=".393" stop-opacity=".313"/><stop offset=".477" stop-opacity=".292"/><stop offset=".515" stop-opacity=".323"/><stop offset=".571" stop-opacity=".462"/><stop offset=".597" stop-opacity=".51"/><stop offset=".613" stop-opacity=".585"/><stop offset=".621" stop-opacity=".598"/><stop offset="1" stop-opacity=".6"/></linearGradient><linearGradient id="p2d11"><stop offset="0" stop-opacity=".6"/><stop offset=".311" stop-opacity=".588"/><stop offset=".325" stop-opacity=".566"/><stop offset=".335" stop-opacity=".53"/><stop offset=".345" stop-opacity=".47"/><stop offset=".365" stop-opacity=".309"/><stop offset=".371" stop-opacity=".279"/><stop offset=".377" stop-opacity=".269"/><stop offset=".383" stop-opacity=".284"/><stop offset=".395" stop-opacity=".349"/><stop offset=".431" stop-opacity=".361"/><stop offset=".479" stop-opacity=".34"/><stop offset=".513" stop-opacity=".37"/><stop offset=".531" stop-opacity=".408"/><stop offset=".577" stop-opacity=".541"/><stop offset=".613" stop-opacity=".598"/><stop offset="1" stop-opacity=".6"/></linearGradient><linearGradient id="p2d12"><stop offset="0" stop-opacity=".6"/><stop offset=".311" stop-opacity=".588"/><stop offset=".325" stop-opacity=".566"/><stop offset=".335" stop-opacity=".53"/><stop offset=".345" stop-opacity=".47"/><stop offset=".365" stop-opacity=".309"/><stop offset=".371" stop-opacity=".279"/><stop offset=".377" stop-opacity=".269"/><stop offset=".383" stop-opacity=".286"/><stop offset=".391" stop-opacity=".346"/><stop offset=".397" stop-opacity=".368"/><stop offset=".431" stop-opacity=".382"/><stop offset=".479" stop-opacity=".361"/><stop offset=".515" stop-opacity=".395"/><stop offset=".575" stop-opacity=".565"/><stop offset=".601" stop-opacity=".611"/><stop offset=".627" stop-opacity=".6"/><stop offset="1" stop-opacity=".6"/></linearGradient><linearGradient id="p2d13"><stop offset="0" stop-opacity=".6"/><stop offset=".311" stop-opacity=".588"/><stop offset=".325" stop-opacity=".566"/><stop offset=".335" stop-opacity=".53"/><stop offset=".345" stop-opacity=".47"/><stop offset=".365" stop-opacity=".309"/><stop offset=".371" stop-opacity=".279"/><stop offset=".377" stop-opacity=".269"/><stop offset=".383" stop-opacity=".287"/><stop offset=".393" stop-opacity=".362"/><stop offset=".397" stop-opacity=".373"/><stop offset=".431" stop-opacity=".389"/><stop offset=".479" stop-opacity=".367"/><stop offset=".515" stop-opacity=".402"/><stop offset=".533" stop-opacity=".444"/><stop offset=".575" stop-opacity=".575"/><stop offset=".599" stop-opacity=".62"/><stop offset=".627" stop-opacity=".6"/><stop offset="1" stop-opacity=".6"/></linearGradient><linearGradient id="p2d14"><stop offset="0" stop-opacity=".6"/><stop offset=".311" stop-opacity=".588"/><stop offset=".325" stop-opacity=".566"/><stop offset=".335" stop-opacity=".53"/><stop offset=".345" stop-opacity=".47"/><stop offset=".365" stop-opacity=".309"/><stop offset=".371" stop-opacity=".279"/><stop offset=".377" stop-opacity=".269"/><stop offset=".383" stop-opacity=".287"/><stop offset=".393" stop-opacity=".363"/><stop offset=".397" stop-opacity=".375"/><stop offset=".431" stop-opacity=".391"/><stop offset=".479" stop-opacity=".369"/><stop offset=".515" stop-opacity=".404"/><stop offset=".533" stop-opacity=".446"/><stop offset=".575" stop-opacity=".578"/><stop offset=".599" stop-opacity=".623"/><stop offset=".627" stop-opacity=".6"/><stop offset="1" stop-opacity=".6"/></linearGradient><linearGradient id="p2d15"><stop offset="0" stop-opacity=".6"/><stop offset=".311" stop-opacity=".588"/><stop offset=".325" stop-opacity=".566"/><stop offset=".335" stop-opacity=".53"/><stop offset=".345" stop-opacity=".47"/><stop offset=".365" stop-opacity=".31"/><stop offset=".371" stop-opacity=".28"/><stop offset=".377" stop-opacity=".27"/><stop offset=".383" stop-opacity=".288"/><stop offset=".393" stop-opacity=".364"/><stop offset=".397" stop-opacity=".376"/><stop offset=".431" stop-opacity=".392"/><stop offset=".479" stop-opacity=".37"/><stop offset=".515" stop-opacity=".405"/><stop offset=".533" stop-opacity=".447"/><stop offset=".575" stop-opacity=".579"/><stop offset=".599" stop-opacity=".624"/><stop offset=".627" stop-opacity=".6"/><stop offset="1" stop-opacity=".6"/></linearGradient><linearGradient id="p2d16"><stop offset="0" stop-opacity=".6"/><stop offset=".311" stop-opacity=".589"/><stop offset=".325" stop-opacity=".567"/><stop offset=".335" stop-opacity=".533"/><stop offset=".345" stop-opacity=".474"/><stop offset=".365" stop-opacity=".319"/><stop offset=".371" stop-opacity=".289"/><stop offset=".377" stop-opacity=".279"/><stop offset=".383" stop-opacity=".297"/><stop offset=".393" stop-opacity=".367"/><stop offset=".397" stop-opacity=".377"/><stop offset=".431" stop-opacity=".392"/><stop offset=".479" stop-opacity=".37"/><stop offset=".515" stop-opacity=".405"/><stop offset=".533" stop-opacity=".447"/><stop offset=".575" stop-opacity=".58"/><stop offset=".599" stop-opacity=".624"/><stop offset=".627" stop-opacity=".6"/><stop offset="1" stop-opacity=".6"/></linearGradient><linearGradient id="p2d17"><stop offset="0" stop-opacity=".604"/><stop offset=".311" stop-opacity=".597"/><stop offset=".337" stop-opacity=".552"/><stop offset=".365" stop-opacity=".405"/><stop offset=".377" stop-opacity=".374"/><stop offset=".391" stop-opacity=".398"/><stop offset=".401" stop-opacity=".389"/><stop offset=".433" stop-opacity=".409"/><stop offset=".479" stop-opacity=".39"/><stop offset=".511" stop-opacity=".417"/><stop offset=".531" stop-opacity=".456"/><stop offset=".575" stop-opacity=".582"/><stop offset=".599" stop-opacity=".622"/><stop offset=".627" stop-opacity=".604"/><stop offset="1" stop-opacity=".604"/></linearGradient><linearGradient id="p2d18"><stop offset="0" stop-opacity=".622"/><stop offset=".323" stop-opacity=".621"/><stop offset=".401" stop-opacity=".59"/><stop offset=".601" stop-opacity=".623"/><stop offset="1" stop-opacity=".622"/></linearGradient><mask id="p2m" maskUnits="userSpaceOnUse" x="0" y="0" width="499" height="499.6"><rect y="-1.91" width="499" height="11.7" fill="url(#lp)"/><rect y="8.35" width="499" height="11.7" fill="url(#lp)"/><rect y="18.61" width="499" height="11.7" fill="url(#lp)"/><rect y="28.87" width="499" height="11.7" fill="url(#lp)"/><rect y="39.13" width="499" height="11.7" fill="url(#lp)"/><rect y="49.39" width="499" height="11.7" fill="url(#lp)"/><rect y="59.65" width="499" height="11.7" fill="url(#lp)"/><rect y="69.91" width="499" height="11.7" fill="url(#lp)"/><rect y="80.17" width="499" height="11.7" fill="url(#lp)"/><rect y="90.43" width="499" height="11.7" fill="url(#lp)"/><rect y="100.69" width="499" height="11.7" fill="url(#lp)"/><rect y="110.95" width="499" height="11.7" fill="url(#lp)"/><rect y="121.21" width="499" height="11.7" fill="url(#lp)"/><rect y="131.47" width="499" height="11.7" fill="url(#lp)"/><rect y="141.73" width="499" height="11.7" fill="url(#lp)"/><rect y="151.99" width="499" height="11.7" fill="url(#lp)"/><rect y="162.25" width="499" height="11.7" fill="url(#lp)"/><rect y="172.51" width="499" height="11.7" fill="url(#lp)"/><rect y="182.77" width="499" height="11.7" fill="url(#lp)"/><rect y="193.7" width="499" height="9" fill="url(#lp)"/><rect y="201.21" width="499" height="9" fill="url(#lp)"/><rect y="208.72" width="499" height="9" fill="url(#lp)"/><rect y="216.23" width="499" height="9" fill="url(#lp)"/><rect y="223.74" width="499" height="9" fill="url(#lp)"/><rect y="231.25" width="499" height="9" fill="url(#lp)"/><rect y="238.76" width="499" height="9" fill="url(#lp)"/><rect y="247.02" width="499" height="7.5" fill="url(#lp)"/><rect y="254.53" width="499" height="7.5" fill="url(#lp)"/><rect y="262.04" width="499" height="7.5" fill="url(#lp)"/><rect y="269.55" width="499" height="7.5" fill="url(#lp)"/><rect y="277.06" width="499" height="7.5" fill="url(#lp)"/><rect y="284.57" width="499" height="7.5" fill="url(#lp)"/><rect y="292.08" width="499" height="7.5" fill="url(#lp)"/><rect y="299.59" width="499" height="7.5" fill="url(#lp)"/><rect y="307.1" width="499" height="7.5" fill="url(#lp)"/><rect y="314.61" width="499" height="7.5" fill="url(#lp)"/><rect y="322.12" width="499" height="7.5" fill="url(#lp)"/><rect y="329.63" width="499" height="7.5" fill="url(#lp)"/><rect y="337.14" width="499" height="7.5" fill="url(#lp)"/><rect y="344.65" width="499" height="7.5" fill="url(#lp)"/><rect y="352.16" width="499" height="7.5" fill="url(#lp)"/><rect y="359.67" width="499" height="7.5" fill="url(#lp)"/><rect y="367.18" width="499" height="7.5" fill="url(#lp)"/><rect y="374.69" width="499" height="7.5" fill="url(#lp)"/><rect y="382.2" width="499" height="7.5" fill="url(#lp)"/><rect y="389.71" width="499" height="7.5" fill="url(#lp)"/><rect y="397.22" width="499" height="7.5" fill="url(#lp)"/><rect y="404.73" width="499" height="7.5" fill="url(#lp)"/><rect y="412.24" width="499" height="7.5" fill="url(#lp)"/><rect y="419.75" width="499" height="7.5" fill="url(#lp)"/><rect y="427.26" width="499" height="7.5" fill="url(#lp)"/><rect y="434.77" width="499" height="7.5" fill="url(#lp)"/><rect y="442.28" width="499" height="7.5" fill="url(#lp)"/><rect y="449.79" width="499" height="7.5" fill="url(#lp)"/><rect y="457.3" width="499" height="7.5" fill="url(#lp)"/><rect y="464.81" width="499" height="7.5" fill="url(#lp)"/><rect y="472.32" width="499" height="7.5" fill="url(#lp)"/><rect y="479.83" width="499" height="7.5" fill="url(#lp)"/><rect y="487.34" width="499" height="7.5" fill="url(#lp)"/><rect y="494.85" width="499" height="7.5" fill="url(#lp)"/></mask></defs><g mask="url(#p2m)"><rect y="0" width="499" height="9.07" fill="url(#p2d0)"/><rect y="9.07" width="499" height="10.26" fill="url(#p2d1)"/><rect y="19.33" width="499" height="10.26" fill="url(#p2d2)"/><rect y="29.59" width="499" height="10.26" fill="url(#p2d3)"/><rect y="39.85" width="499" height="10.26" fill="url(#p2d4)"/><rect y="50.11" width="499" height="10.26" fill="url(#p2d5)"/><rect y="60.37" width="499" height="10.26" fill="url(#p2d6)"/><rect y="70.63" width="499" height="10.26" fill="url(#p2d7)"/><rect y="80.89" width="499" height="10.26" fill="url(#p2d8)"/><rect y="91.15" width="499" height="10.26" fill="url(#p2d9)"/><rect y="101.41" width="499" height="10.26" fill="url(#p2d10)"/><rect y="111.67" width="499" height="10.26" fill="url(#p2d11)"/><rect y="121.93" width="499" height="10.26" fill="url(#p2d12)"/><rect y="132.19" width="499" height="10.26" fill="url(#p2d13)"/><rect y="142.45" width="499" height="10.26" fill="url(#p2d14)"/><rect y="152.71" width="499" height="10.26" fill="url(#p2d15)"/><rect y="162.97" width="499" height="10.26" fill="url(#p2d16)"/><rect y="173.23" width="499" height="10.26" fill="url(#p2d17)"/><rect y="183.49" width="499" height="9.92" fill="url(#p2d18)"/><rect y="193.7" width="499" height="8.25" fill-opacity=".626"/><rect y="201.95" width="499" height="7.51" fill-opacity=".626"/><rect y="209.46" width="499" height="7.51" fill-opacity=".626"/><rect y="216.97" width="499" height="7.51" fill-opacity=".626"/><rect y="224.48" width="499" height="7.51" fill-opacity=".626"/><rect y="231.99" width="499" height="7.51" fill-opacity=".626"/><rect y="239.5" width="499" height="7.51" fill-opacity=".623"/><rect y="247.02" width="499" height="7.5" fill-opacity=".613"/><rect y="254.53" width="499" height="7.5" fill-opacity=".623"/><rect y="262.04" width="499" height="7.5" fill-opacity=".639"/><rect y="269.55" width="499" height="7.5" fill-opacity=".654"/><rect y="277.06" width="499" height="7.5" fill-opacity=".669"/><rect y="284.57" width="499" height="7.5" fill-opacity=".684"/><rect y="292.08" width="499" height="7.5" fill-opacity=".701"/><rect y="299.59" width="499" height="7.5" fill-opacity=".717"/><rect y="307.1" width="499" height="7.5" fill-opacity=".722"/><rect y="314.61" width="499" height="7.5" fill-opacity=".726"/><rect y="322.12" width="499" height="7.5" fill-opacity=".731"/><rect y="329.63" width="499" height="7.5" fill-opacity=".736"/><rect y="337.14" width="499" height="7.5" fill-opacity=".74"/><rect y="344.65" width="499" height="7.5" fill-opacity=".745"/><rect y="352.16" width="499" height="7.5" fill-opacity=".75"/><rect y="359.67" width="499" height="7.5" fill-opacity=".755"/><rect y="367.18" width="499" height="7.5" fill-opacity=".75"/><rect y="374.69" width="499" height="7.5" fill-opacity=".745"/><rect y="382.2" width="499" height="7.5" fill-opacity=".74"/><rect y="389.71" width="499" height="7.5" fill-opacity=".734"/><rect y="397.22" width="499" height="7.5" fill-opacity=".711"/><rect y="404.73" width="499" height="7.5" fill-opacity=".69"/><rect y="412.24" width="499" height="7.5" fill-opacity=".671"/><rect y="419.75" width="499" height="7.5" fill-opacity=".648"/><rect y="427.26" width="499" height="7.5" fill-opacity=".583"/><rect y="434.77" width="499" height="7.5" fill-opacity=".526"/><rect y="442.28" width="499" height="7.5" fill-opacity=".476"/><rect y="449.79" width="499" height="7.5" fill-opacity=".42"/><rect y="457.3" width="499" height="7.5" fill-opacity=".36"/><rect y="464.81" width="499" height="7.5" fill-opacity=".304"/><rect y="472.32" width="499" height="7.5" fill-opacity=".256"/><rect y="479.83" width="499" height="7.5" fill-opacity=".231"/><rect y="487.34" width="499" height="7.5" fill-opacity=".207"/><rect y="494.85" width="499" height="4.75" fill-opacity=".184"/></g></svg>
</div>
<div class="hm" style="left:137px;top:669.7px;width:499px;height:499.3px;clip-path:inset(4px)">
<i style="top:0px;height:2.84px;background:linear-gradient(90deg,#c0c0c0 0px,#bfbfbf 170px,#bbbbbb 181px,#a8a8a8 195px,#a3a3a3 202px,#a1a1a1 247px,#a3a3a3 293px,#a9a9a9 300px,#bbbbbb 314px,#bfbfbf 325px,#c0c0c0 499px)"></i>
<i style="top:2.24px;height:10.86px;background:linear-gradient(90deg,#c0c0c0 0px,#bfbfbf 170px,#bbbbbb 181px,#a8a8a8 195px,#a3a3a3 202px,#a1a1a1 247px,#a3a3a3 293px,#a9a9a9 300px,#bbbbbb 314px,#bfbfbf 325px,#c0c0c0 499px)"></i>
<i style="top:12.5px;height:10.86px;background:linear-gradient(90deg,#c0c0c0 0px,#bfbfbf 170px,#bbbbbb 181px,#a8a8a8 195px,#a3a3a3 202px,#a1a1a1 247px,#a3a3a3 293px,#a9a9a9 300px,#bbbbbb 314px,#bfbfbf 325px,#c0c0c0 499px)"></i>
<i style="top:22.76px;height:10.86px;background:linear-gradient(90deg,#c0c0c0 0px,#bfbfbf 170px,#bbbbbb 181px,#a8a8a8 195px,#a3a3a3 202px,#a1a1a1 247px,#a3a3a3 293px,#a9a9a9 300px,#bbbbbb 314px,#bfbfbf 325px,#c0c0c0 499px)"></i>
<i style="top:33.02px;height:10.86px;background:linear-gradient(90deg,#c0c0c0 0px,#bfbfbf 170px,#bbbbbb 181px,#a8a8a8 195px,#a3a3a3 202px,#a1a1a1 247px,#a3a3a3 293px,#a9a9a9 300px,#bbbbbb 314px,#bfbfbf 325px,#c0c0c0 499px)"></i>
<i style="top:43.28px;height:10.86px;background:linear-gradient(90deg,#c0c0c0 0px,#bfbfbf 170px,#bbbbbb 181px,#a8a8a8 195px,#a3a3a3 202px,#a1a1a1 247px,#a3a3a3 293px,#a9a9a9 300px,#bbbbbb 314px,#bfbfbf 325px,#c0c0c0 499px)"></i>
<i style="top:53.54px;height:10.86px;background:linear-gradient(90deg,#c0c0c0 0px,#bfbfbf 170px,#bbbbbb 181px,#a6a6a6 199px,#a4a4a4 220px,#a5a5a5 291px,#aaaaaa 300px,#bbbbbb 314px,#bfbfbf 326px,#c0c0c0 499px)"></i>
<i style="top:63.8px;height:10.86px;background:linear-gradient(90deg,#c0c0c0 0px,#bfbfbf 179px,#bcbcbc 191px,#b7b7b7 193px,#a7a7a7 197px,#a3a3a3 200px,#ababab 249px,#a3a3a3 296px,#a5a5a5 300px,#bbbbbb 306px,#bfbfbf 313px,#c0c0c0 499px)"></i>
<i style="top:74.06px;height:10.86px;background:linear-gradient(90deg,#c0c0c0 0px,#c0c0c0 188px,#bbbbbb 192px,#9d9d9d 198px,#9a9a9a 202px,#a2a2a2 249px,#9a9a9a 297px,#9e9e9e 300px,#b4b4b4 304px,#bcbcbc 306px,#c0c0c0 311px,#c0c0c0 499px)"></i>
<i style="top:84.32px;height:10.86px;background:linear-gradient(90deg,#c0c0c0 0px,#c0c0c0 187px,#bebebe 190px,#bababa 192px,#adadad 194px,#949494 197px,#8c8c8c 199px,#8a8a8a 201px,#939393 249px,#8a8a8a 295px,#8b8b8b 298px,#919191 300px,#b6b6b6 305px,#bdbdbd 307px,#c0c0c0 310px,#c0c0c0 499px)"></i>
<i style="top:94.58px;height:10.86px;background:linear-gradient(90deg,#c0c0c0 0px,#bfbfbf 188px,#bcbcbc 191px,#b2b2b2 193px,#909090 196px,#7f7f7f 198px,#797979 200px,#777777 203px,#808080 248px,#787878 297px,#818181 300px,#898989 301px,#ababab 304px,#b4b4b4 305px,#bcbcbc 307px,#bfbfbf 310px,#c0c0c0 499px)"></i>
<i style="top:104.84px;height:10.86px;background:linear-gradient(90deg,#c0c0c0 0px,#c0c0c0 187px,#bdbdbd 190px,#b7b7b7 192px,#a5a5a5 194px,#898989 196px,#757575 198px,#707070 199px,#6b6b6b 201px,#747474 249px,#6a6a6a 294px,#6c6c6c 297px,#717171 299px,#818181 301px,#a9a9a9 304px,#b2b2b2 305px,#bcbcbc 307px,#bfbfbf 310px,#c0c0c0 499px)"></i>
<i style="top:115.1px;height:10.86px;background:linear-gradient(90deg,#c0c0c0 0px,#bfbfbf 188px,#bbbbbb 191px,#afafaf 193px,#a4a4a4 194px,#797979 197px,#6a6a6a 199px,#656565 201px,#646464 204px,#6c6c6c 248px,#656565 296px,#686868 298px,#727272 300px,#7d7d7d 301px,#a8a8a8 304px,#b2b2b2 305px,#bcbcbc 307px,#bfbfbf 310px,#c0c0c0 499px)"></i>
<i style="top:125.36px;height:10.86px;background:linear-gradient(90deg,#c0c0c0 0px,#bfbfbf 188px,#bbbbbb 191px,#afafaf 193px,#a3a3a3 194px,#777777 197px,#686868 199px,#636363 201px,#616161 204px,#686868 248px,#626262 296px,#656565 298px,#707070 300px,#7b7b7b 301px,#a7a7a7 304px,#b1b1b1 305px,#bcbcbc 307px,#bfbfbf 310px,#c0c0c0 499px)"></i>
<i style="top:135.62px;height:10.86px;background:linear-gradient(90deg,#c0c0c0 0px,#c0c0c0 187px,#bdbdbd 190px,#b6b6b6 192px,#a3a3a3 194px,#777777 197px,#6d6d6d 198px,#636363 200px,#606060 202px,#666666 249px,#606060 293px,#626262 297px,#686868 299px,#7b7b7b 301px,#a7a7a7 304px,#b1b1b1 305px,#bcbcbc 307px,#bfbfbf 310px,#c0c0c0 499px)"></i>
<i style="top:145.88px;height:10.86px;background:linear-gradient(90deg,#c0c0c0 0px,#c0c0c0 187px,#bdbdbd 190px,#b6b6b6 192px,#a3a3a3 194px,#767676 197px,#6c6c6c 198px,#636363 200px,#606060 202px,#656565 249px,#5f5f5f 293px,#616161 297px,#686868 299px,#7a7a7a 301px,#a7a7a7 304px,#b1b1b1 305px,#bcbcbc 307px,#bfbfbf 310px,#c0c0c0 499px)"></i>
<i style="top:156.14px;height:10.86px;background:linear-gradient(90deg,#c0c0c0 0px,#bfbfbf 188px,#bbbbbb 191px,#aeaeae 193px,#a3a3a3 194px,#767676 197px,#666666 199px,#606060 201px,#5f5f5f 205px,#646464 248px,#606060 296px,#636363 298px,#6f6f6f 300px,#7a7a7a 301px,#a7a7a7 304px,#b1b1b1 305px,#bcbcbc 307px,#bfbfbf 310px,#c0c0c0 499px)"></i>
<i style="top:166.4px;height:10.86px;background:linear-gradient(90deg,#c0c0c0 0px,#bfbfbf 188px,#bbbbbb 191px,#aeaeae 193px,#a3a3a3 194px,#767676 197px,#666666 199px,#606060 201px,#5f5f5f 205px,#646464 248px,#606060 296px,#636363 298px,#6f6f6f 300px,#7a7a7a 301px,#a7a7a7 304px,#b1b1b1 305px,#bcbcbc 307px,#bfbfbf 310px,#c0c0c0 499px)"></i>
<i style="top:176.66px;height:10.86px;background:linear-gradient(90deg,#c0c0c0 0px,#bfbfbf 186px,#bcbcbc 190px,#b6b6b6 192px,#b0b0b0 193px,#929292 196px,#838383 198px,#7d7d7d 200px,#777777 204px,#757575 214px,#797979 252px,#747474 286px,#767676 293px,#7c7c7c 298px,#838383 300px,#8a8a8a 301px,#a9a9a9 304px,#b6b6b6 306px,#bcbcbc 308px,#bfbfbf 312px,#c0c0c0 499px)"></i>
<i style="top:186.92px;height:10.98px;background:linear-gradient(90deg,#c0c0c0 0px,#bebebe 184px,#b9b9b9 190px,#afafaf 194px,#9c9c9c 198px,#616161 207px,#545454 210px,#4c4c4c 214px,#4c4c4c 220px,#5d5d5d 240px,#606060 250px,#5d5d5d 259px,#4b4b4b 282px,#4d4d4d 286px,#565656 290px,#6a6a6a 294px,#9a9a9a 301px,#aaaaaa 304px,#b6b6b6 308px,#bebebe 314px,#c0c0c0 330px,#c0c0c0 499px)"></i>
<i style="top:197.3px;height:8.11px;background:linear-gradient(90deg,#c0c0c0 0px,#c0c0c0 167px,#bdbdbd 184px,#b6b6b6 190px,#a7a7a7 195px,#979797 198px,#646464 206px,#535353 210px,#494949 214px,#474747 219px,#555555 240px,#585858 249px,#555555 259px,#474747 278px,#494949 285px,#515151 289px,#5d5d5d 292px,#9b9b9b 302px,#adadad 306px,#b9b9b9 311px,#bebebe 317px,#c0c0c0 499px)"></i>
<i style="top:204.81px;height:8.11px;background:linear-gradient(90deg,#c0c0c0 0px,#c0c0c0 164px,#bdbdbd 182px,#b6b6b6 189px,#a7a7a7 194px,#949494 198px,#636363 206px,#525252 210px,#464646 215px,#444444 220px,#515151 249px,#4f4f4f 259px,#444444 277px,#464646 284px,#4e4e4e 288px,#5c5c5c 292px,#979797 302px,#aaaaaa 306px,#b7b7b7 311px,#bebebe 318px,#c0c0c0 336px,#c0c0c0 499px)"></i>
<i style="top:212.32px;height:8.11px;background:linear-gradient(90deg,#c0c0c0 0px,#c0c0c0 161px,#bdbdbd 180px,#b7b7b7 187px,#ababab 192px,#969696 197px,#595959 208px,#4b4b4b 212px,#444444 216px,#414141 224px,#4a4a4a 241px,#4c4c4c 251px,#414141 278px,#444444 284px,#505050 289px,#616161 293px,#949494 302px,#a6a6a6 306px,#b4b4b4 311px,#bdbdbd 318px,#c0c0c0 337px,#c0c0c0 499px)"></i>
<i style="top:219.83px;height:8.11px;background:linear-gradient(90deg,#c0c0c0 0px,#c0c0c0 160px,#bcbcbc 180px,#b5b5b5 187px,#a5a5a5 193px,#939393 197px,#626262 206px,#4e4e4e 211px,#434343 216px,#3e3e3e 223px,#474747 248px,#3e3e3e 275px,#424242 283px,#4a4a4a 287px,#575757 291px,#969696 303px,#aaaaaa 308px,#b7b7b7 314px,#bdbdbd 321px,#c0c0c0 341px,#c0c0c0 499px)"></i>
<i style="top:227.34px;height:8.11px;background:linear-gradient(90deg,#c0c0c0 0px,#c0c0c0 158px,#bcbcbc 179px,#b4b4b4 186px,#a5a5a5 192px,#909090 197px,#5d5d5d 207px,#4b4b4b 212px,#3f3f3f 218px,#3c3c3c 225px,#424242 248px,#3c3c3c 274px,#404040 282px,#4a4a4a 287px,#575757 291px,#939393 303px,#a7a7a7 308px,#b5b5b5 314px,#bdbdbd 322px,#c0c0c0 343px,#c0c0c0 499px)"></i>
<i style="top:234.85px;height:8.11px;background:linear-gradient(90deg,#c0c0c0 0px,#c0c0c0 155px,#bdbdbd 176px,#b6b6b6 184px,#a9a9a9 190px,#969696 195px,#545454 209px,#484848 213px,#3e3e3e 218px,#3a3a3a 226px,#3f3f3f 250px,#3a3a3a 273px,#3e3e3e 281px,#494949 287px,#5f5f5f 293px,#909090 303px,#a4a4a4 308px,#b3b3b3 314px,#bcbcbc 322px,#c0c0c0 343px,#c0c0c0 499px)"></i>
<i style="top:242.36px;height:8.11px;background:linear-gradient(90deg,#bcbcbc 0px,#bcbcbc 152px,#b8b8b8 175px,#b1b1b1 183px,#a3a3a3 190px,#919191 195px,#535353 209px,#474747 213px,#3d3d3d 218px,#383838 227px,#3b3b3b 250px,#383838 271px,#3b3b3b 279px,#464646 286px,#595959 292px,#8f8f8f 304px,#a1a1a1 309px,#afafaf 315px,#b8b8b8 323px,#bcbcbc 346px,#bcbcbc 499px)"></i>
<i style="top:249.87px;height:8.11px;background:linear-gradient(90deg,#9e9e9e 0px,#9f9f9f 101px,#aaaaaa 148px,#a6a6a6 166px,#9f9f9f 177px,#949494 185px,#818181 193px,#565656 205px,#454545 211px,#383838 219px,#353535 228px,#383838 249px,#353535 273px,#3a3a3a 282px,#4b4b4b 291px,#7f7f7f 306px,#929292 313px,#9f9f9f 322px,#a7a7a7 336px,#aaaaaa 354px,#9f9f9f 402px,#9e9e9e 499px)"></i>
<i style="top:257.38px;height:8.11px;background:linear-gradient(90deg,#8e8e8e 0px,#8f8f8f 98px,#949494 114px,#a5a5a5 141px,#a5a5a5 156px,#9c9c9c 169px,#8e8e8e 181px,#7b7b7b 190px,#4e4e4e 205px,#404040 211px,#363636 219px,#333333 228px,#353535 249px,#333333 273px,#373737 282px,#484848 292px,#787878 308px,#8a8a8a 316px,#9b9b9b 329px,#a5a5a5 344px,#a5a5a5 358px,#949494 386px,#8f8f8f 402px,#8e8e8e 499px)"></i>
<i style="top:264.89px;height:8.11px;background:linear-gradient(90deg,#878787 0px,#898989 96px,#909090 112px,#a6a6a6 139px,#a7a7a7 152px,#9e9e9e 165px,#888888 181px,#757575 190px,#464646 207px,#363636 217px,#313131 227px,#313131 270px,#343434 279px,#3c3c3c 287px,#4a4a4a 294px,#777777 310px,#878787 318px,#9c9c9c 333px,#a7a7a7 347px,#a6a6a6 360px,#909090 387px,#898989 403px,#878787 499px)"></i>
<i style="top:272.4px;height:8.11px;background:linear-gradient(90deg,#7b7b7b 0px,#7d7d7d 95px,#858585 111px,#9e9e9e 137px,#a0a0a0 150px,#969696 163px,#7f7f7f 179px,#6c6c6c 189px,#464646 205px,#393939 212px,#323232 220px,#303030 230px,#303030 272px,#353535 283px,#434343 293px,#6e6e6e 311px,#828282 322px,#989898 338px,#a0a0a0 350px,#9e9e9e 362px,#858585 389px,#7d7d7d 404px,#7b7b7b 499px)"></i>
<i style="top:279.91px;height:8.11px;background:linear-gradient(90deg,#707070 0px,#737373 94px,#7a7a7a 109px,#939393 135px,#969696 147px,#8f8f8f 158px,#7c7c7c 173px,#676767 186px,#3f3f3f 206px,#343434 215px,#2e2e2e 227px,#2e2e2e 269px,#303030 279px,#373737 288px,#797979 324px,#8e8e8e 340px,#969696 351px,#939393 364px,#7b7b7b 390px,#727272 406px,#707070 499px)"></i>
<i style="top:287.42px;height:8.11px;background:linear-gradient(90deg,#6b6b6b 0px,#6d6d6d 98px,#727272 107px,#8b8b8b 132px,#8f8f8f 146px,#888888 157px,#767676 172px,#636363 185px,#424242 203px,#363636 211px,#2f2f2f 220px,#2d2d2d 232px,#2d2d2d 271px,#323232 284px,#3e3e3e 294px,#626262 314px,#797979 330px,#898989 343px,#8f8f8f 354px,#8b8b8b 367px,#727272 392px,#6d6d6d 401px,#6b6b6b 499px)"></i>
<i style="top:294.93px;height:8.11px;background:linear-gradient(90deg,#646464 0px,#656565 85px,#626262 101px,#666666 106px,#808080 127px,#858585 136px,#868686 144px,#818181 154px,#747474 166px,#5d5d5d 184px,#3b3b3b 205px,#313131 215px,#2c2c2c 228px,#2c2c2c 266px,#2e2e2e 279px,#353535 289px,#717171 331px,#808080 345px,#868686 355px,#858585 363px,#808080 372px,#656565 394px,#626262 399px,#656565 414px,#646464 499px)"></i>
<i style="top:302.44px;height:8.11px;background:linear-gradient(90deg,#616161 0px,#626262 83px,#5b5b5b 101px,#5e5e5e 105px,#707070 115px,#7a7a7a 123px,#818181 133px,#828282 143px,#7d7d7d 153px,#707070 165px,#333333 211px,#2d2d2d 222px,#2b2b2b 236px,#2b2b2b 271px,#313131 285px,#3b3b3b 295px,#5a5a5a 316px,#727272 336px,#7e7e7e 348px,#828282 357px,#818181 366px,#7a7a7a 376px,#717171 384px,#5d5d5d 395px,#5a5a5a 399px,#626262 416px,#616161 499px)"></i>
<i style="top:309.95px;height:8.11px;background:linear-gradient(90deg,#606060 0px,#606060 82px,#5e5e5e 88px,#535353 100px,#575757 104px,#6b6b6b 113px,#767676 120px,#7e7e7e 131px,#808080 141px,#7b7b7b 150px,#717171 161px,#313131 213px,#2b2b2b 226px,#2a2a2a 250px,#2b2b2b 273px,#323232 287px,#707070 338px,#7b7b7b 349px,#808080 358px,#7e7e7e 368px,#767676 379px,#6c6c6c 386px,#585858 395px,#535353 399px,#606060 417px,#606060 499px)"></i>
<i style="top:317.46px;height:8.11px;background:linear-gradient(90deg,#5d5d5d 0px,#5d5d5d 81px,#5a5a5a 87px,#4b4b4b 99px,#4f4f4f 103px,#676767 112px,#727272 118px,#7b7b7b 129px,#7c7c7c 140px,#6f6f6f 158px,#313131 213px,#2a2a2a 227px,#292929 250px,#2b2b2b 273px,#313131 287px,#707070 342px,#7c7c7c 360px,#7b7b7b 370px,#727272 381px,#686868 387px,#4e4e4e 397px,#4b4b4b 400px,#4c4c4c 403px,#5a5a5a 412px,#5d5d5d 418px,#5d5d5d 499px)"></i>
<i style="top:324.97px;height:8.11px;background:linear-gradient(90deg,#585858 0px,#585858 81px,#545454 87px,#434343 98px,#484848 102px,#616161 111px,#6c6c6c 117px,#737373 127px,#757575 138px,#6a6a6a 155px,#303030 212px,#2a2a2a 226px,#282828 250px,#2a2a2a 273px,#303030 287px,#6b6b6b 345px,#757575 361px,#747474 372px,#6b6b6b 383px,#606060 389px,#494949 397px,#434343 401px,#454545 404px,#545454 413px,#585858 419px,#585858 499px)"></i>
<i style="top:332.48px;height:8.11px;background:linear-gradient(90deg,#535353 0px,#535353 80px,#4f4f4f 86px,#414141 95px,#404040 98px,#444444 101px,#5c5c5c 110px,#656565 115px,#6d6d6d 125px,#6f6f6f 136px,#676767 151px,#2f2f2f 212px,#292929 226px,#282828 250px,#292929 273px,#2f2f2f 288px,#676767 348px,#6f6f6f 363px,#6d6d6d 374px,#656565 384px,#5b5b5b 390px,#454545 398px,#404040 402px,#424242 405px,#505050 414px,#535353 420px,#535353 499px)"></i>
<i style="top:339.99px;height:8.11px;background:linear-gradient(90deg,#4f4f4f 0px,#515151 78px,#4e4e4e 84px,#3e3e3e 94px,#3d3d3d 97px,#434343 101px,#5a5a5a 110px,#626262 115px,#696969 125px,#6a6a6a 135px,#626262 149px,#2e2e2e 211px,#292929 226px,#272727 250px,#292929 273px,#2e2e2e 288px,#636363 351px,#6a6a6a 365px,#686868 376px,#616161 385px,#575757 391px,#424242 399px,#3d3d3d 403px,#4d4d4d 415px,#515151 422px,#4f4f4f 499px)"></i>
<i style="top:347.5px;height:8.11px;background:linear-gradient(90deg,#4c4c4c 0px,#525252 72px,#4d4d4d 82px,#3d3d3d 93px,#3b3b3b 96px,#3f3f3f 99px,#555555 108px,#5d5d5d 113px,#646464 122px,#656565 133px,#606060 146px,#2e2e2e 210px,#282828 226px,#272727 250px,#292929 274px,#2e2e2e 289px,#5f5f5f 353px,#656565 366px,#646464 377px,#5d5d5d 386px,#545454 392px,#3f3f3f 400px,#3b3b3b 404px,#4d4d4d 417px,#525252 427px,#4c4c4c 499px)"></i>
<i style="top:355.01px;height:8.11px;background:linear-gradient(90deg,#494949 0px,#494949 30px,#525252 57px,#525252 68px,#4d4d4d 80px,#3b3b3b 92px,#393939 95px,#3c3c3c 98px,#515151 107px,#595959 112px,#606060 121px,#616161 131px,#5c5c5c 144px,#2d2d2d 210px,#282828 226px,#262626 250px,#282828 274px,#2d2d2d 290px,#5b5b5b 355px,#616161 368px,#606060 378px,#5a5a5a 387px,#525252 392px,#3f3f3f 400px,#393939 404px,#3b3b3b 408px,#4d4d4d 419px,#525252 432px,#525252 442px,#4a4a4a 469px,#494949 499px)"></i>
<i style="top:362.52px;height:8.11px;background:linear-gradient(90deg,#464646 0px,#474747 30px,#525252 56px,#535353 66px,#4c4c4c 79px,#393939 91px,#373737 94px,#3a3a3a 97px,#4e4e4e 106px,#565656 111px,#5c5c5c 120px,#5d5d5d 130px,#585858 142px,#2d2d2d 209px,#282828 225px,#262626 250px,#282828 274px,#2d2d2d 291px,#585858 358px,#5d5d5d 370px,#5c5c5c 380px,#565656 388px,#4f4f4f 393px,#3b3b3b 402px,#373737 405px,#3a3a3a 409px,#4d4d4d 421px,#535353 434px,#525252 444px,#474747 469px,#464646 499px)"></i>
<i style="top:370.03px;height:8.11px;background:linear-gradient(90deg,#434343 0px,#454545 30px,#525252 55px,#535353 64px,#4d4d4d 77px,#383838 90px,#363636 93px,#3a3a3a 97px,#4c4c4c 105px,#535353 110px,#585858 118px,#5a5a5a 128px,#565656 139px,#444444 166px,#2c2c2c 208px,#282828 225px,#262626 250px,#272727 274px,#2c2c2c 291px,#444444 334px,#565656 360px,#5a5a5a 371px,#595959 381px,#545454 389px,#4d4d4d 394px,#393939 403px,#363636 406px,#393939 410px,#4c4c4c 422px,#535353 435px,#525252 444px,#454545 470px,#434343 499px)"></i>
<i style="top:377.54px;height:8.11px;background:linear-gradient(90deg,#414141 0px,#424242 29px,#505050 54px,#525252 63px,#4b4b4b 76px,#363636 89px,#343434 92px,#383838 96px,#494949 104px,#505050 109px,#555555 117px,#565656 127px,#2c2c2c 207px,#272727 225px,#262626 250px,#272727 275px,#2c2c2c 292px,#414141 335px,#535353 362px,#565656 373px,#555555 382px,#515151 390px,#4a4a4a 395px,#373737 404px,#343434 407px,#373737 411px,#4b4b4b 423px,#525252 436px,#505050 446px,#424242 471px,#414141 499px)"></i>
<i style="top:385.05px;height:8.11px;background:linear-gradient(90deg,#3e3e3e 0px,#3d3d3d 28px,#4d4d4d 52px,#4f4f4f 63px,#474747 76px,#353535 88px,#323232 91px,#363636 95px,#474747 103px,#4d4d4d 108px,#525252 116px,#535353 125px,#2b2b2b 206px,#252525 250px,#272727 276px,#2c2c2c 294px,#3f3f3f 336px,#505050 364px,#535353 375px,#4e4e4e 391px,#474747 396px,#353535 405px,#323232 408px,#353535 412px,#484848 424px,#4f4f4f 437px,#4c4c4c 448px,#3d3d3d 472px,#3e3e3e 499px)"></i>
<i style="top:392.56px;height:8.11px;background:linear-gradient(90deg,#3c3c3c 0px,#393939 27px,#494949 50px,#4c4c4c 62px,#454545 75px,#313131 90px,#343434 94px,#444444 102px,#4b4b4b 107px,#505050 123px,#2b2b2b 205px,#252525 250px,#2b2b2b 295px,#505050 376px,#4b4b4b 392px,#454545 397px,#333333 406px,#313131 409px,#343434 413px,#464646 425px,#4c4c4c 437px,#494949 449px,#393939 472px,#3c3c3c 499px)"></i>
<i style="top:400.07px;height:8.11px;background:linear-gradient(90deg,#3a3a3a 0px,#353535 26px,#474747 49px,#4a4a4a 62px,#434343 74px,#323232 86px,#303030 90px,#494949 106px,#4d4d4d 122px,#3a3a3a 162px,#2b2b2b 203px,#252525 250px,#2b2b2b 296px,#3a3a3a 337px,#4a4a4a 366px,#4e4e4e 378px,#484848 394px,#323232 407px,#303030 410px,#313131 413px,#444444 426px,#4a4a4a 438px,#464646 451px,#353535 473px,#3a3a3a 499px)"></i>
<i style="top:407.58px;height:8.11px;background:linear-gradient(90deg,#383838 0px,#313131 26px,#434343 46px,#474747 61px,#424242 73px,#313131 85px,#2e2e2e 89px,#474747 105px,#4b4b4b 120px,#383838 161px,#2b2b2b 201px,#252525 250px,#2b2b2b 298px,#383838 339px,#4b4b4b 379px,#464646 395px,#323232 407px,#2e2e2e 411px,#303030 414px,#414141 426px,#474747 438px,#434343 453px,#313131 474px,#383838 499px)"></i>
<i style="top:415.09px;height:8.11px;background:linear-gradient(90deg,#363636 0px,#353535 10px,#2e2e2e 25px,#404040 45px,#454545 60px,#404040 72px,#2f2f2f 84px,#2d2d2d 88px,#434343 103px,#484848 118px,#363636 160px,#292929 204px,#262626 230px,#252525 265px,#292929 292px,#343434 332px,#464646 371px,#484848 383px,#444444 396px,#303030 408px,#2d2d2d 412px,#3f3f3f 427px,#454545 439px,#404040 454px,#2f2f2f 474px,#363636 499px)"></i>
<i style="top:422.6px;height:8.11px;background:linear-gradient(90deg,#343434 0px,#2d2d2d 24px,#3e3e3e 45px,#424242 60px,#3e3e3e 71px,#2e2e2e 83px,#2c2c2c 87px,#424242 103px,#464646 117px,#343434 158px,#292929 202px,#252525 266px,#282828 293px,#333333 335px,#434343 373px,#464646 384px,#414141 397px,#2f2f2f 409px,#2b2b2b 413px,#3d3d3d 428px,#424242 440px,#3e3e3e 455px,#2d2d2d 475px,#343434 499px)"></i>
<i style="top:430.11px;height:8.11px;background:linear-gradient(90deg,#323232 0px,#2b2b2b 24px,#3c3c3c 44px,#404040 59px,#3c3c3c 70px,#2c2c2c 82px,#2a2a2a 86px,#3e3e3e 101px,#424242 115px,#323232 157px,#292929 201px,#252525 266px,#313131 336px,#424242 386px,#3d3d3d 399px,#2a2a2a 413px,#2c2c2c 417px,#3b3b3b 429px,#404040 440px,#3c3c3c 455px,#2b2b2b 476px,#323232 499px)"></i>
<i style="top:437.62px;height:8.11px;background:linear-gradient(90deg,#313131 0px,#2a2a2a 23px,#3a3a3a 44px,#3e3e3e 59px,#393939 70px,#2a2a2a 81px,#282828 85px,#3a3a3a 100px,#3d3d3d 114px,#313131 155px,#282828 201px,#252525 264px,#2f2f2f 338px,#3d3d3d 388px,#393939 400px,#2a2a2a 411px,#282828 415px,#393939 430px,#3e3e3e 443px,#393939 457px,#2a2a2a 476px,#313131 499px)"></i>
<i style="top:445.13px;height:8.11px;background:linear-gradient(90deg,#2f2f2f 0px,#282828 23px,#373737 42px,#3c3c3c 57px,#373737 69px,#262626 84px,#363636 99px,#393939 111px,#272727 202px,#252525 262px,#2e2e2e 339px,#393939 390px,#353535 401px,#262626 415px,#282828 419px,#373737 431px,#3c3c3c 444px,#373737 458px,#282828 477px,#2f2f2f 499px)"></i>
<i style="top:452.64px;height:8.11px;background:linear-gradient(90deg,#2d2d2d 0px,#272727 22px,#353535 41px,#393939 56px,#353535 68px,#242424 83px,#323232 98px,#343434 109px,#272727 204px,#252525 259px,#272727 301px,#343434 391px,#313131 402px,#242424 416px,#353535 432px,#393939 444px,#353535 458px,#272727 477px,#2d2d2d 499px)"></i>
<i style="top:460.15px;height:8.11px;background:linear-gradient(90deg,#2b2b2b 0px,#252525 21px,#333333 40px,#373737 54px,#333333 66px,#222222 82px,#2d2d2d 96px,#2f2f2f 105px,#242424 250px,#2f2f2f 393px,#2d2d2d 403px,#222222 417px,#333333 433px,#373737 445px,#333333 459px,#252525 478px,#2b2b2b 499px)"></i>
<i style="top:467.66px;height:8.11px;background:linear-gradient(90deg,#2a2a2a 0px,#242424 21px,#313131 40px,#353535 54px,#313131 65px,#212121 78px,#1f1f1f 82px,#292929 95px,#2b2b2b 107px,#242424 250px,#2b2b2b 396px,#292929 405px,#1f1f1f 418px,#313131 434px,#353535 446px,#313131 460px,#242424 479px,#2a2a2a 499px)"></i>
<i style="top:475.17px;height:8.11px;background:linear-gradient(90deg,#282828 0px,#222222 20px,#2f2f2f 39px,#323232 53px,#2e2e2e 65px,#1e1e1e 81px,#262626 94px,#282828 107px,#242424 250px,#282828 397px,#262626 406px,#1e1e1e 419px,#2f2f2f 435px,#323232 447px,#2e2e2e 461px,#222222 479px,#282828 499px)"></i>
<i style="top:482.68px;height:8.11px;background:linear-gradient(90deg,#262626 0px,#212121 20px,#2d2d2d 39px,#313131 53px,#2d2d2d 64px,#1d1d1d 80px,#252525 94px,#262626 107px,#242424 250px,#262626 398px,#252525 407px,#1d1d1d 419px,#1e1e1e 423px,#2d2d2d 436px,#313131 447px,#2d2d2d 461px,#212121 480px,#262626 499px)"></i>
<i style="top:490.19px;height:8.11px;background:linear-gradient(90deg,#252525 0px,#202020 19px,#2c2c2c 38px,#2f2f2f 52px,#2c2c2c 63px,#1c1c1c 79px,#242424 93px,#262626 106px,#252525 399px,#242424 408px,#1c1c1c 420px,#1e1e1e 424px,#2c2c2c 437px,#2f2f2f 448px,#2c2c2c 462px,#202020 480px,#252525 499px)"></i>
<i style="top:497.7px;height:2.2px;background:linear-gradient(90deg,#252525 0px,#202020 19px,#2c2c2c 38px,#2f2f2f 52px,#2b2b2b 63px,#1c1c1c 78px,#232323 91px,#252525 100px,#252525 394px,#242424 407px,#1c1c1c 421px,#2b2b2b 437px,#2f2f2f 448px,#2b2b2b 462px,#202020 481px,#252525 499px)"></i>
<svg width="499" height="499.3" viewBox="0 0 499 499.3"><defs><linearGradient id="p3d0"><stop offset="0" stop-opacity=".6"/><stop offset=".335" stop-opacity=".592"/><stop offset=".349" stop-opacity=".571"/><stop offset=".359" stop-opacity=".529"/><stop offset=".387" stop-opacity=".293"/><stop offset=".401" stop-opacity=".232"/><stop offset=".423" stop-opacity=".209"/><stop offset=".495" stop-opacity=".206"/><stop offset=".567" stop-opacity=".209"/><stop offset=".589" stop-opacity=".229"/><stop offset=".597" stop-opacity=".255"/><stop offset=".605" stop-opacity=".3"/><stop offset=".625" stop-opacity=".48"/><stop offset=".633" stop-opacity=".535"/><stop offset=".643" stop-opacity=".573"/><stop offset=".655" stop-opacity=".592"/><stop offset="1" stop-opacity=".6"/></linearGradient><linearGradient id="p3d1"><stop offset="0" stop-opacity=".6"/><stop offset=".335" stop-opacity=".592"/><stop offset=".349" stop-opacity=".571"/><stop offset=".359" stop-opacity=".529"/><stop offset=".387" stop-opacity=".293"/><stop offset=".401" stop-opacity=".232"/><stop offset=".423" stop-opacity=".209"/><stop offset=".495" stop-opacity=".206"/><stop offset=".567" stop-opacity=".209"/><stop offset=".589" stop-opacity=".229"/><stop offset=".597" stop-opacity=".255"/><stop offset=".605" stop-opacity=".3"/><stop offset=".625" stop-opacity=".48"/><stop offset=".633" stop-opacity=".535"/><stop offset=".643" stop-opacity=".573"/><stop offset=".655" stop-opacity=".592"/><stop offset="1" stop-opacity=".6"/></linearGradient><linearGradient id="p3d2"><stop offset="0" stop-opacity=".6"/><stop offset=".335" stop-opacity=".592"/><stop offset=".349" stop-opacity=".571"/><stop offset=".359" stop-opacity=".529"/><stop offset=".387" stop-opacity=".293"/><stop offset=".401" stop-opacity=".232"/><stop offset=".423" stop-opacity=".209"/><stop offset=".495" stop-opacity=".206"/><stop offset=".567" stop-opacity=".209"/><stop offset=".589" stop-opacity=".229"/><stop offset=".597" stop-opacity=".255"/><stop offset=".605" stop-opacity=".3"/><stop offset=".625" stop-opacity=".48"/><stop offset=".633" stop-opacity=".535"/><stop offset=".643" stop-opacity=".573"/><stop offset=".655" stop-opacity=".592"/><stop offset="1" stop-opacity=".6"/></linearGradient><linearGradient id="p3d3"><stop offset="0" stop-opacity=".6"/><stop offset=".335" stop-opacity=".592"/><stop offset=".349" stop-opacity=".571"/><stop offset=".359" stop-opacity=".529"/><stop offset=".387" stop-opacity=".293"/><stop offset=".401" stop-opacity=".232"/><stop offset=".423" stop-opacity=".209"/><stop offset=".495" stop-opacity=".206"/><stop offset=".567" stop-opacity=".209"/><stop offset=".589" stop-opacity=".229"/><stop offset=".597" stop-opacity=".255"/><stop offset=".605" stop-opacity=".3"/><stop offset=".625" stop-opacity=".48"/><stop offset=".633" stop-opacity=".535"/><stop offset=".643" stop-opacity=".573"/><stop offset=".655" stop-opacity=".592"/><stop offset="1" stop-opacity=".6"/></linearGradient><linearGradient id="p3d4"><stop offset="0" stop-opacity=".6"/><stop offset=".335" stop-opacity=".592"/><stop offset=".349" stop-opacity=".571"/><stop offset=".359" stop-opacity=".529"/><stop offset=".387" stop-opacity=".293"/><stop offset=".401" stop-opacity=".232"/><stop offset=".423" stop-opacity=".21"/><stop offset=".497" stop-opacity=".207"/><stop offset=".569" stop-opacity=".21"/><stop offset=".591" stop-opacity=".235"/><stop offset=".605" stop-opacity=".3"/><stop offset=".625" stop-opacity=".48"/><stop offset=".633" stop-opacity=".535"/><stop offset=".643" stop-opacity=".573"/><stop offset=".655" stop-opacity=".592"/><stop offset="1" stop-opacity=".6"/></linearGradient><linearGradient id="p3d5"><stop offset="0" stop-opacity=".6"/><stop offset=".335" stop-opacity=".593"/><stop offset=".349" stop-opacity=".572"/><stop offset=".359" stop-opacity=".531"/><stop offset=".387" stop-opacity=".302"/><stop offset=".401" stop-opacity=".243"/><stop offset=".425" stop-opacity=".22"/><stop offset=".499" stop-opacity=".216"/><stop offset=".569" stop-opacity=".221"/><stop offset=".591" stop-opacity=".245"/><stop offset=".605" stop-opacity=".309"/><stop offset=".625" stop-opacity=".484"/><stop offset=".633" stop-opacity=".537"/><stop offset=".643" stop-opacity=".574"/><stop offset=".655" stop-opacity=".592"/><stop offset="1" stop-opacity=".6"/></linearGradient><linearGradient id="p3d6"><stop offset="0" stop-opacity=".6"/><stop offset=".343" stop-opacity=".592"/><stop offset=".365" stop-opacity=".544"/><stop offset=".377" stop-opacity=".482"/><stop offset=".393" stop-opacity=".375"/><stop offset=".399" stop-opacity=".352"/><stop offset=".473" stop-opacity=".264"/><stop offset=".499" stop-opacity=".25"/><stop offset=".525" stop-opacity=".265"/><stop offset=".597" stop-opacity=".355"/><stop offset=".603" stop-opacity=".379"/><stop offset=".617" stop-opacity=".494"/><stop offset=".625" stop-opacity=".539"/><stop offset=".635" stop-opacity=".574"/><stop offset=".649" stop-opacity=".593"/><stop offset="1" stop-opacity=".6"/></linearGradient><linearGradient id="p3d7"><stop offset="0" stop-opacity=".6"/><stop offset=".371" stop-opacity=".593"/><stop offset=".379" stop-opacity=".577"/><stop offset=".383" stop-opacity=".551"/><stop offset=".387" stop-opacity=".5"/><stop offset=".395" stop-opacity=".369"/><stop offset=".401" stop-opacity=".325"/><stop offset=".475" stop-opacity=".184"/><stop offset=".499" stop-opacity=".164"/><stop offset=".523" stop-opacity=".185"/><stop offset=".595" stop-opacity=".32"/><stop offset=".599" stop-opacity=".338"/><stop offset=".603" stop-opacity=".377"/><stop offset=".611" stop-opacity=".512"/><stop offset=".615" stop-opacity=".559"/><stop offset=".625" stop-opacity=".594"/><stop offset="1" stop-opacity=".6"/></linearGradient><linearGradient id="p3d8"><stop offset="0" stop-opacity=".6"/><stop offset=".373" stop-opacity=".597"/><stop offset=".383" stop-opacity=".563"/><stop offset=".387" stop-opacity=".516"/><stop offset=".395" stop-opacity=".39"/><stop offset=".401" stop-opacity=".347"/><stop offset=".475" stop-opacity=".202"/><stop offset=".499" stop-opacity=".182"/><stop offset=".523" stop-opacity=".203"/><stop offset=".595" stop-opacity=".343"/><stop offset=".603" stop-opacity=".398"/><stop offset=".611" stop-opacity=".525"/><stop offset=".615" stop-opacity=".568"/><stop offset=".625" stop-opacity=".598"/><stop offset="1" stop-opacity=".6"/></linearGradient><linearGradient id="p3d9"><stop offset="0" stop-opacity=".6"/><stop offset=".375" stop-opacity=".597"/><stop offset=".383" stop-opacity=".574"/><stop offset=".395" stop-opacity=".44"/><stop offset=".401" stop-opacity=".405"/><stop offset=".475" stop-opacity=".252"/><stop offset=".499" stop-opacity=".23"/><stop offset=".523" stop-opacity=".253"/><stop offset=".595" stop-opacity=".401"/><stop offset=".603" stop-opacity=".447"/><stop offset=".613" stop-opacity=".564"/><stop offset=".623" stop-opacity=".597"/><stop offset="1" stop-opacity=".6"/></linearGradient><linearGradient id="p3d10"><stop offset="0" stop-opacity=".6"/><stop offset=".377" stop-opacity=".597"/><stop offset=".385" stop-opacity=".58"/><stop offset=".401" stop-opacity=".495"/><stop offset=".429" stop-opacity=".442"/><stop offset=".475" stop-opacity=".325"/><stop offset=".499" stop-opacity=".3"/><stop offset=".523" stop-opacity=".326"/><stop offset=".569" stop-opacity=".443"/><stop offset=".597" stop-opacity=".496"/><stop offset=".613" stop-opacity=".583"/><stop offset=".621" stop-opacity=".598"/><stop offset="1" stop-opacity=".6"/></linearGradient><linearGradient id="p3d11"><stop offset="0" stop-opacity=".6"/><stop offset=".383" stop-opacity=".598"/><stop offset=".423" stop-opacity=".527"/><stop offset=".475" stop-opacity=".381"/><stop offset=".499" stop-opacity=".355"/><stop offset=".523" stop-opacity=".383"/><stop offset=".575" stop-opacity=".528"/><stop offset=".615" stop-opacity=".598"/><stop offset="1" stop-opacity=".6"/></linearGradient><linearGradient id="p3d12"><stop offset="0" stop-opacity=".6"/><stop offset=".395" stop-opacity=".609"/><stop offset=".423" stop-opacity=".561"/><stop offset=".475" stop-opacity=".407"/><stop offset=".499" stop-opacity=".38"/><stop offset=".523" stop-opacity=".408"/><stop offset=".575" stop-opacity=".562"/><stop offset=".601" stop-opacity=".608"/><stop offset="1" stop-opacity=".6"/></linearGradient><linearGradient id="p3d13"><stop offset="0" stop-opacity=".6"/><stop offset=".371" stop-opacity=".6"/><stop offset=".397" stop-opacity=".619"/><stop offset=".423" stop-opacity=".573"/><stop offset=".475" stop-opacity=".416"/><stop offset=".499" stop-opacity=".388"/><stop offset=".523" stop-opacity=".417"/><stop offset=".573" stop-opacity=".569"/><stop offset=".599" stop-opacity=".619"/><stop offset=".627" stop-opacity=".6"/><stop offset="1" stop-opacity=".6"/></linearGradient><linearGradient id="p3d14"><stop offset="0" stop-opacity=".6"/><stop offset=".371" stop-opacity=".6"/><stop offset=".399" stop-opacity=".622"/><stop offset=".423" stop-opacity=".577"/><stop offset=".475" stop-opacity=".419"/><stop offset=".499" stop-opacity=".391"/><stop offset=".523" stop-opacity=".42"/><stop offset=".573" stop-opacity=".573"/><stop offset=".599" stop-opacity=".622"/><stop offset=".627" stop-opacity=".6"/><stop offset="1" stop-opacity=".6"/></linearGradient><linearGradient id="p3d15"><stop offset="0" stop-opacity=".6"/><stop offset=".371" stop-opacity=".6"/><stop offset=".399" stop-opacity=".623"/><stop offset=".423" stop-opacity=".578"/><stop offset=".475" stop-opacity=".419"/><stop offset=".499" stop-opacity=".391"/><stop offset=".523" stop-opacity=".421"/><stop offset=".575" stop-opacity=".58"/><stop offset=".599" stop-opacity=".624"/><stop offset=".627" stop-opacity=".6"/><stop offset="1" stop-opacity=".6"/></linearGradient><linearGradient id="p3d16"><stop offset="0" stop-opacity=".6"/><stop offset=".371" stop-opacity=".6"/><stop offset=".399" stop-opacity=".624"/><stop offset=".423" stop-opacity=".578"/><stop offset=".475" stop-opacity=".42"/><stop offset=".499" stop-opacity=".392"/><stop offset=".523" stop-opacity=".421"/><stop offset=".575" stop-opacity=".58"/><stop offset=".599" stop-opacity=".624"/><stop offset=".627" stop-opacity=".6"/><stop offset="1" stop-opacity=".6"/></linearGradient><linearGradient id="p3d17"><stop offset="0" stop-opacity=".603"/><stop offset=".371" stop-opacity=".603"/><stop offset=".399" stop-opacity=".623"/><stop offset=".423" stop-opacity=".579"/><stop offset=".475" stop-opacity=".428"/><stop offset=".499" stop-opacity=".401"/><stop offset=".523" stop-opacity=".429"/><stop offset=".573" stop-opacity=".576"/><stop offset=".599" stop-opacity=".623"/><stop offset=".627" stop-opacity=".603"/><stop offset="1" stop-opacity=".603"/></linearGradient><linearGradient id="p3d18"><stop offset="0" stop-opacity=".62"/><stop offset=".397" stop-opacity=".621"/><stop offset=".499" stop-opacity=".575"/><stop offset=".601" stop-opacity=".621"/><stop offset="1" stop-opacity=".62"/></linearGradient><mask id="p3m" maskUnits="userSpaceOnUse" x="0" y="0" width="499" height="499.3"><rect y="-3.61" width="499" height="11.7" fill="url(#lp)"/><rect y="6.65" width="499" height="11.7" fill="url(#lp)"/><rect y="16.91" width="499" height="11.7" fill="url(#lp)"/><rect y="27.17" width="499" height="11.7" fill="url(#lp)"/><rect y="37.43" width="499" height="11.7" fill="url(#lp)"/><rect y="47.69" width="499" height="11.7" fill="url(#lp)"/><rect y="57.95" width="499" height="11.7" fill="url(#lp)"/><rect y="68.21" width="499" height="11.7" fill="url(#lp)"/><rect y="78.47" width="499" height="11.7" fill="url(#lp)"/><rect y="88.73" width="499" height="11.7" fill="url(#lp)"/><rect y="98.99" width="499" height="11.7" fill="url(#lp)"/><rect y="109.25" width="499" height="11.7" fill="url(#lp)"/><rect y="119.51" width="499" height="11.7" fill="url(#lp)"/><rect y="129.77" width="499" height="11.7" fill="url(#lp)"/><rect y="140.03" width="499" height="11.7" fill="url(#lp)"/><rect y="150.29" width="499" height="11.7" fill="url(#lp)"/><rect y="160.55" width="499" height="11.7" fill="url(#lp)"/><rect y="170.81" width="499" height="11.7" fill="url(#lp)"/><rect y="181.07" width="499" height="11.7" fill="url(#lp)"/><rect y="192.8" width="499" height="9" fill="url(#lp)"/><rect y="200.31" width="499" height="9" fill="url(#lp)"/><rect y="207.82" width="499" height="9" fill="url(#lp)"/><rect y="215.33" width="499" height="9" fill="url(#lp)"/><rect y="222.84" width="499" height="9" fill="url(#lp)"/><rect y="230.35" width="499" height="9" fill="url(#lp)"/><rect y="237.86" width="499" height="9" fill="url(#lp)"/><rect y="246.12" width="499" height="7.5" fill="url(#lp)"/><rect y="253.63" width="499" height="7.5" fill="url(#lp)"/><rect y="261.14" width="499" height="7.5" fill="url(#lp)"/><rect y="268.65" width="499" height="7.5" fill="url(#lp)"/><rect y="276.16" width="499" height="7.5" fill="url(#lp)"/><rect y="283.67" width="499" height="7.5" fill="url(#lp)"/><rect y="291.18" width="499" height="7.5" fill="url(#lp)"/><rect y="298.69" width="499" height="7.5" fill="url(#lp)"/><rect y="306.2" width="499" height="7.5" fill="url(#lp)"/><rect y="313.71" width="499" height="7.5" fill="url(#lp)"/><rect y="321.22" width="499" height="7.5" fill="url(#lp)"/><rect y="328.73" width="499" height="7.5" fill="url(#lp)"/><rect y="336.24" width="499" height="7.5" fill="url(#lp)"/><rect y="343.75" width="499" height="7.5" fill="url(#lp)"/><rect y="351.26" width="499" height="7.5" fill="url(#lp)"/><rect y="358.77" width="499" height="7.5" fill="url(#lp)"/><rect y="366.28" width="499" height="7.5" fill="url(#lp)"/><rect y="373.79" width="499" height="7.5" fill="url(#lp)"/><rect y="381.3" width="499" height="7.5" fill="url(#lp)"/><rect y="388.81" width="499" height="7.5" fill="url(#lp)"/><rect y="396.32" width="499" height="7.5" fill="url(#lp)"/><rect y="403.83" width="499" height="7.5" fill="url(#lp)"/><rect y="411.34" width="499" height="7.5" fill="url(#lp)"/><rect y="418.85" width="499" height="7.5" fill="url(#lp)"/><rect y="426.36" width="499" height="7.5" fill="url(#lp)"/><rect y="433.87" width="499" height="7.5" fill="url(#lp)"/><rect y="441.38" width="499" height="7.5" fill="url(#lp)"/><rect y="448.89" width="499" height="7.5" fill="url(#lp)"/><rect y="456.4" width="499" height="7.5" fill="url(#lp)"/><rect y="463.91" width="499" height="7.5" fill="url(#lp)"/><rect y="471.42" width="499" height="7.5" fill="url(#lp)"/><rect y="478.93" width="499" height="7.5" fill="url(#lp)"/><rect y="486.44" width="499" height="7.5" fill="url(#lp)"/><rect y="493.95" width="499" height="7.5" fill="url(#lp)"/></mask></defs><g mask="url(#p3m)"><rect y="0" width="499" height="7.37" fill="url(#p3d0)"/><rect y="7.37" width="499" height="10.26" fill="url(#p3d1)"/><rect y="17.63" width="499" height="10.26" fill="url(#p3d2)"/><rect y="27.89" width="499" height="10.26" fill="url(#p3d3)"/><rect y="38.15" width="499" height="10.26" fill="url(#p3d4)"/><rect y="48.41" width="499" height="10.26" fill="url(#p3d5)"/><rect y="58.67" width="499" height="10.26" fill="url(#p3d6)"/><rect y="68.93" width="499" height="10.26" fill="url(#p3d7)"/><rect y="79.19" width="499" height="10.26" fill="url(#p3d8)"/><rect y="89.45" width="499" height="10.26" fill="url(#p3d9)"/><rect y="99.71" width="499" height="10.26" fill="url(#p3d10)"/><rect y="109.97" width="499" height="10.26" fill="url(#p3d11)"/><rect y="120.23" width="499" height="10.26" fill="url(#p3d12)"/><rect y="130.49" width="499" height="10.26" fill="url(#p3d13)"/><rect y="140.75" width="499" height="10.26" fill="url(#p3d14)"/><rect y="151.01" width="499" height="10.26" fill="url(#p3d15)"/><rect y="161.27" width="499" height="10.26" fill="url(#p3d16)"/><rect y="171.53" width="499" height="10.26" fill="url(#p3d17)"/><rect y="181.79" width="499" height="10.32" fill="url(#p3d18)"/><rect y="192.8" width="499" height="8.25" fill-opacity=".626"/><rect y="201.06" width="499" height="7.51" fill-opacity=".626"/><rect y="208.57" width="499" height="7.51" fill-opacity=".626"/><rect y="216.08" width="499" height="7.51" fill-opacity=".626"/><rect y="223.59" width="499" height="7.51" fill-opacity=".626"/><rect y="231.1" width="499" height="7.51" fill-opacity=".626"/><rect y="238.61" width="499" height="7.51" fill-opacity=".624"/><rect y="246.12" width="499" height="7.5" fill-opacity=".614"/><rect y="253.63" width="499" height="7.5" fill-opacity=".621"/><rect y="261.14" width="499" height="7.5" fill-opacity=".637"/><rect y="268.65" width="499" height="7.5" fill-opacity=".652"/><rect y="276.16" width="499" height="7.5" fill-opacity=".667"/><rect y="283.67" width="499" height="7.5" fill-opacity=".682"/><rect y="291.18" width="499" height="7.5" fill-opacity=".699"/><rect y="298.69" width="499" height="7.5" fill-opacity=".716"/><rect y="306.2" width="499" height="7.5" fill-opacity=".721"/><rect y="313.71" width="499" height="7.5" fill-opacity=".726"/><rect y="321.22" width="499" height="7.5" fill-opacity=".73"/><rect y="328.73" width="499" height="7.5" fill-opacity=".735"/><rect y="336.24" width="499" height="7.5" fill-opacity=".74"/><rect y="343.75" width="499" height="7.5" fill-opacity=".745"/><rect y="351.26" width="499" height="7.5" fill-opacity=".75"/><rect y="358.77" width="499" height="7.5" fill-opacity=".755"/><rect y="366.28" width="499" height="7.5" fill-opacity=".75"/><rect y="373.79" width="499" height="7.5" fill-opacity=".745"/><rect y="381.3" width="499" height="7.5" fill-opacity=".74"/><rect y="388.81" width="499" height="7.5" fill-opacity=".736"/><rect y="396.32" width="499" height="7.5" fill-opacity=".714"/><rect y="403.83" width="499" height="7.5" fill-opacity=".693"/><rect y="411.34" width="499" height="7.5" fill-opacity=".673"/><rect y="418.85" width="499" height="7.5" fill-opacity=".654"/><rect y="426.36" width="499" height="7.5" fill-opacity=".59"/><rect y="433.87" width="499" height="7.5" fill-opacity=".533"/><rect y="441.38" width="499" height="7.5" fill-opacity=".482"/><rect y="448.89" width="499" height="7.5" fill-opacity=".428"/><rect y="456.4" width="499" height="7.5" fill-opacity=".367"/><rect y="463.91" width="499" height="7.5" fill-opacity=".311"/><rect y="471.42" width="499" height="7.5" fill-opacity=".259"/><rect y="478.93" width="499" height="7.5" fill-opacity=".234"/><rect y="486.44" width="499" height="7.5" fill-opacity=".21"/><rect y="493.95" width="499" height="5.35" fill-opacity=".186"/></g></svg>
</div>
<div class="hm" style="left:940.1px;top:669.7px;width:499px;height:499.3px;clip-path:inset(4px)">
<i style="top:0px;height:2.44px;background:linear-gradient(90deg,#c0c0c0 0px,#bfbfbf 136px,#bbbbbb 148px,#a9a9a9 165px,#a3a3a3 174px,#a1a1a1 225px,#a3a3a3 277px,#a9a9a9 286px,#bbbbbb 303px,#bfbfbf 316px,#c0c0c0 499px)"></i>
<i style="top:1.84px;height:10.86px;background:linear-gradient(90deg,#c0c0c0 0px,#bfbfbf 136px,#bbbbbb 148px,#a9a9a9 165px,#a3a3a3 174px,#a1a1a1 225px,#a3a3a3 277px,#a9a9a9 286px,#bbbbbb 303px,#bfbfbf 316px,#c0c0c0 499px)"></i>
<i style="top:12.1px;height:10.86px;background:linear-gradient(90deg,#c0c0c0 0px,#bfbfbf 136px,#bbbbbb 148px,#a9a9a9 165px,#a3a3a3 174px,#a1a1a1 225px,#a3a3a3 277px,#a9a9a9 286px,#bbbbbb 303px,#bfbfbf 316px,#c0c0c0 499px)"></i>
<i style="top:22.36px;height:10.86px;background:linear-gradient(90deg,#c0c0c0 0px,#bfbfbf 136px,#bbbbbb 148px,#a9a9a9 165px,#a3a3a3 174px,#a1a1a1 225px,#a3a3a3 277px,#a9a9a9 286px,#bbbbbb 303px,#bfbfbf 316px,#c0c0c0 499px)"></i>
<i style="top:32.62px;height:10.86px;background:linear-gradient(90deg,#c0c0c0 0px,#bfbfbf 136px,#bbbbbb 148px,#a9a9a9 165px,#a3a3a3 174px,#a1a1a1 225px,#a3a3a3 277px,#a9a9a9 286px,#bbbbbb 303px,#bfbfbf 316px,#c0c0c0 499px)"></i>
<i style="top:42.88px;height:10.86px;background:linear-gradient(90deg,#c0c0c0 0px,#bfbfbf 136px,#bbbbbb 148px,#a9a9a9 165px,#a3a3a3 174px,#a1a1a1 226px,#a3a3a3 277px,#a9a9a9 286px,#bbbbbb 303px,#bfbfbf 316px,#c0c0c0 499px)"></i>
<i style="top:53.14px;height:10.86px;background:linear-gradient(90deg,#c0c0c0 0px,#bfbfbf 135px,#bbbbbb 148px,#a9a9a9 166px,#a4a4a4 176px,#a3a3a3 260px,#a6a6a6 282px,#bbbbbb 304px,#bfbfbf 315px,#c0c0c0 499px)"></i>
<i style="top:63.4px;height:10.86px;background:linear-gradient(90deg,#c0c0c0 0px,#c0c0c0 137px,#bcbcbc 172px,#b4b4b4 184px,#b2b2b2 192px,#aaaaaa 200px,#a5a5a5 231px,#9f9f9f 249px,#818181 296px,#838383 298px,#8b8b8b 300px,#a9a9a9 303px,#b8b8b8 305px,#bdbdbd 307px,#bfbfbf 310px,#c0c0c0 499px)"></i>
<i style="top:73.66px;height:10.86px;background:linear-gradient(90deg,#c0c0c0 0px,#bfbfbf 163px,#bbbbbb 172px,#b0b0b0 184px,#aeaeae 192px,#a3a3a3 199px,#999999 246px,#797979 296px,#7c7c7c 298px,#868686 300px,#a8a8a8 303px,#b8b8b8 305px,#bebebe 307px,#bfbfbf 309px,#c0c0c0 499px)"></i>
<i style="top:83.92px;height:10.86px;background:linear-gradient(90deg,#c0c0c0 0px,#bebebe 164px,#adadad 191px,#a8a8a8 193px,#989898 197px,#949494 200px,#8d8d8d 246px,#6f6f6f 295px,#707070 297px,#767676 299px,#7e7e7e 300px,#b0b0b0 304px,#bbbbbb 306px,#bfbfbf 309px,#c0c0c0 499px)"></i>
<i style="top:94.18px;height:10.86px;background:linear-gradient(90deg,#c0c0c0 0px,#bebebe 165px,#ababab 191px,#a3a3a3 193px,#898989 197px,#838383 200px,#7e7e7e 246px,#626262 295px,#646464 297px,#6c6c6c 299px,#767676 300px,#a2a2a2 303px,#b6b6b6 305px,#bdbdbd 307px,#bfbfbf 309px,#c0c0c0 499px)"></i>
<i style="top:104.44px;height:10.86px;background:linear-gradient(90deg,#c0c0c0 0px,#bebebe 166px,#aaaaaa 191px,#a1a1a1 193px,#808080 197px,#787878 200px,#737373 247px,#595959 294px,#5c5c5c 297px,#666666 299px,#707070 300px,#a1a1a1 303px,#adadad 304px,#bababa 306px,#bfbfbf 309px,#c0c0c0 499px)"></i>
<i style="top:114.7px;height:10.86px;background:linear-gradient(90deg,#c0c0c0 0px,#bebebe 166px,#aaaaaa 191px,#9f9f9f 193px,#7b7b7b 197px,#747474 199px,#717171 201px,#6c6c6c 247px,#555555 294px,#585858 297px,#636363 299px,#6e6e6e 300px,#a0a0a0 303px,#adadad 304px,#bababa 306px,#bfbfbf 309px,#c0c0c0 499px)"></i>
<i style="top:124.96px;height:10.86px;background:linear-gradient(90deg,#c0c0c0 0px,#bebebe 166px,#aaaaaa 191px,#9f9f9f 193px,#797979 197px,#717171 199px,#6f6f6f 201px,#696969 247px,#535353 294px,#545454 296px,#5a5a5a 298px,#616161 299px,#6d6d6d 300px,#9f9f9f 303px,#acacac 304px,#bababa 306px,#bfbfbf 309px,#c0c0c0 499px)"></i>
<i style="top:135.22px;height:10.86px;background:linear-gradient(90deg,#c0c0c0 0px,#bebebe 166px,#aaaaaa 191px,#9e9e9e 193px,#787878 197px,#707070 199px,#6d6d6d 201px,#666666 247px,#525252 294px,#535353 296px,#595959 298px,#606060 299px,#6c6c6c 300px,#9f9f9f 303px,#acacac 304px,#bababa 306px,#bfbfbf 309px,#c0c0c0 499px)"></i>
<i style="top:145.48px;height:10.86px;background:linear-gradient(90deg,#c0c0c0 0px,#c0c0c0 146px,#bdbdbd 167px,#a9a9a9 191px,#9e9e9e 193px,#787878 197px,#6f6f6f 199px,#6c6c6c 201px,#656565 247px,#515151 294px,#525252 296px,#595959 298px,#606060 299px,#6c6c6c 300px,#9f9f9f 303px,#acacac 304px,#bababa 306px,#bfbfbf 309px,#c0c0c0 499px)"></i>
<i style="top:155.74px;height:10.86px;background:linear-gradient(90deg,#c0c0c0 0px,#c0c0c0 146px,#bdbdbd 167px,#aaaaaa 191px,#9e9e9e 193px,#777777 197px,#6f6f6f 199px,#6c6c6c 201px,#656565 247px,#515151 294px,#525252 296px,#585858 298px,#606060 299px,#6c6c6c 300px,#9f9f9f 303px,#acacac 304px,#bababa 306px,#bfbfbf 309px,#c0c0c0 499px)"></i>
<i style="top:166px;height:10.86px;background:linear-gradient(90deg,#c0c0c0 0px,#c0c0c0 146px,#bdbdbd 167px,#aeaeae 189px,#aaaaaa 191px,#9f9f9f 193px,#777777 197px,#6f6f6f 199px,#6c6c6c 201px,#646464 247px,#515151 294px,#525252 296px,#585858 298px,#606060 299px,#6c6c6c 300px,#9f9f9f 303px,#acacac 304px,#bababa 306px,#bfbfbf 309px,#c0c0c0 499px)"></i>
<i style="top:176.26px;height:10.86px;background:linear-gradient(90deg,#c0c0c0 0px,#bebebe 169px,#b1b1b1 190px,#ababab 192px,#858585 197px,#7f7f7f 199px,#7c7c7c 202px,#787878 246px,#6d6d6d 285px,#707070 294px,#767676 298px,#828282 300px,#a6a6a6 303px,#b7b7b7 305px,#bdbdbd 307px,#bfbfbf 309px,#c0c0c0 499px)"></i>
<i style="top:186.52px;height:11.38px;background:linear-gradient(90deg,#c0c0c0 0px,#c0c0c0 159px,#bdbdbd 181px,#b8b8b8 187px,#adadad 192px,#9b9b9b 196px,#616161 205px,#565656 208px,#4f4f4f 211px,#4e4e4e 217px,#5d5d5d 235px,#606060 245px,#5d5d5d 254px,#4d4d4d 275px,#525252 280px,#5e5e5e 284px,#6f6f6f 287px,#9e9e9e 294px,#b0b0b0 298px,#b9b9b9 302px,#bebebe 307px,#c0c0c0 499px)"></i>
<i style="top:197.3px;height:8.11px;background:linear-gradient(90deg,#c0c0c0 0px,#bebebe 180px,#b8b8b8 186px,#acacac 191px,#9a9a9a 195px,#6d6d6d 202px,#5d5d5d 205px,#525252 208px,#4c4c4c 211px,#494949 218px,#555555 235px,#585858 245px,#494949 272px,#4c4c4c 277px,#565656 281px,#696969 285px,#959595 292px,#a9a9a9 296px,#b7b7b7 301px,#bdbdbd 307px,#c0c0c0 324px,#c0c0c0 499px)"></i>
<i style="top:204.81px;height:8.11px;background:linear-gradient(90deg,#c0c0c0 0px,#bebebe 178px,#b7b7b7 185px,#ababab 190px,#9a9a9a 194px,#6a6a6a 202px,#5b5b5b 205px,#505050 208px,#484848 212px,#464646 219px,#505050 235px,#515151 244px,#464646 270px,#494949 275px,#525252 279px,#626262 283px,#989898 292px,#aaaaaa 296px,#b7b7b7 301px,#bdbdbd 307px,#c0c0c0 325px,#c0c0c0 499px)"></i>
<i style="top:212.32px;height:8.11px;background:linear-gradient(90deg,#c0c0c0 0px,#c0c0c0 158px,#bdbdbd 177px,#b6b6b6 184px,#aaaaaa 189px,#999999 193px,#5c5c5c 204px,#4e4e4e 208px,#464646 212px,#434343 219px,#4c4c4c 244px,#434343 267px,#454545 272px,#4e4e4e 277px,#626262 282px,#959595 291px,#a7a7a7 295px,#b6b6b6 301px,#bdbdbd 308px,#c0c0c0 327px,#c0c0c0 499px)"></i>
<i style="top:219.83px;height:8.11px;background:linear-gradient(90deg,#c0c0c0 0px,#c0c0c0 156px,#bdbdbd 176px,#b5b5b5 183px,#a5a5a5 189px,#949494 193px,#636363 202px,#4f4f4f 207px,#444444 212px,#414141 219px,#474747 240px,#414141 264px,#454545 272px,#4e4e4e 276px,#585858 279px,#979797 291px,#ababab 296px,#b8b8b8 302px,#bdbdbd 309px,#c0c0c0 329px,#c0c0c0 499px)"></i>
<i style="top:227.34px;height:8.11px;background:linear-gradient(90deg,#c0c0c0 0px,#c0c0c0 154px,#bdbdbd 174px,#b6b6b6 181px,#a8a8a8 187px,#949494 192px,#616161 202px,#4b4b4b 208px,#424242 213px,#3e3e3e 220px,#434343 241px,#3e3e3e 263px,#434343 270px,#4b4b4b 274px,#585858 278px,#949494 290px,#a8a8a8 295px,#b6b6b6 301px,#bdbdbd 309px,#c0c0c0 330px,#c0c0c0 499px)"></i>
<i style="top:234.85px;height:8.11px;background:linear-gradient(90deg,#c0c0c0 0px,#c0c0c0 151px,#bcbcbc 172px,#b5b5b5 180px,#a7a7a7 186px,#949494 191px,#5a5a5a 203px,#4c4c4c 207px,#424242 212px,#3c3c3c 220px,#3f3f3f 241px,#3c3c3c 259px,#404040 267px,#4b4b4b 273px,#616161 279px,#919191 289px,#a5a5a5 294px,#b4b4b4 300px,#bcbcbc 308px,#c0c0c0 330px,#c0c0c0 499px)"></i>
<i style="top:242.36px;height:8.11px;background:linear-gradient(90deg,#bcbcbc 0px,#bcbcbc 149px,#b8b8b8 171px,#b0b0b0 179px,#a2a2a2 185px,#909090 190px,#5b5b5b 202px,#484848 208px,#3d3d3d 215px,#3a3a3a 223px,#3a3a3a 258px,#404040 267px,#4a4a4a 272px,#575757 276px,#909090 289px,#a2a2a2 294px,#b1b1b1 301px,#b8b8b8 309px,#bbbbbb 329px,#bcbcbc 499px)"></i>
<i style="top:249.87px;height:8.11px;background:linear-gradient(90deg,#9e9e9e 0px,#9f9f9f 92px,#a2a2a2 110px,#adadad 142px,#acacac 160px,#a3a3a3 172px,#959595 181px,#818181 188px,#4f4f4f 202px,#444444 206px,#3c3c3c 211px,#373737 220px,#373737 255px,#3a3a3a 264px,#454545 272px,#565656 278px,#7f7f7f 290px,#909090 297px,#999999 305px,#a1a1a1 317px,#a2a2a2 325px,#9e9e9e 349px,#9e9e9e 499px)"></i>
<i style="top:257.38px;height:8.11px;background:linear-gradient(90deg,#8e8e8e 0px,#909090 90px,#979797 107px,#acacac 136px,#aeaeae 151px,#a5a5a5 164px,#939393 176px,#7d7d7d 185px,#4d4d4d 200px,#3b3b3b 209px,#353535 219px,#353535 254px,#373737 263px,#414141 271px,#4e4e4e 277px,#747474 290px,#818181 297px,#969696 321px,#969696 327px,#8b8b8b 348px,#909090 373px,#8e8e8e 499px)"></i>
<i style="top:264.89px;height:8.11px;background:linear-gradient(90deg,#878787 0px,#8a8a8a 86px,#939393 103px,#afafaf 132px,#b2b2b2 147px,#a7a7a7 160px,#939393 173px,#7b7b7b 183px,#4b4b4b 199px,#3a3a3a 208px,#333333 219px,#333333 251px,#353535 261px,#3c3c3c 268px,#494949 275px,#6b6b6b 288px,#777777 294px,#949494 322px,#919191 330px,#7e7e7e 349px,#898989 364px,#8e8e8e 374px,#848484 401px,#898989 430px,#878787 499px)"></i>
<i style="top:272.4px;height:8.11px;background:linear-gradient(90deg,#7b7b7b 0px,#7d7d7d 83px,#878787 98px,#a9a9a9 128px,#acacac 142px,#a3a3a3 154px,#8e8e8e 168px,#767676 180px,#474747 198px,#383838 207px,#313131 219px,#313131 248px,#333333 259px,#393939 267px,#444444 274px,#616161 287px,#6d6d6d 294px,#8a8a8a 323px,#858585 332px,#6c6c6c 349px,#6e6e6e 353px,#7f7f7f 365px,#858585 375px,#727272 403px,#808080 431px,#797979 463px,#7b7b7b 499px)"></i>
<i style="top:279.91px;height:8.11px;background:linear-gradient(90deg,#707070 0px,#707070 80px,#797979 92px,#9d9d9d 123px,#a2a2a2 131px,#a2a2a2 138px,#9b9b9b 149px,#878787 163px,#6e6e6e 177px,#454545 196px,#383838 204px,#303030 215px,#2f2f2f 236px,#303030 255px,#353535 265px,#404040 273px,#636363 293px,#7f7f7f 323px,#7e7e7e 328px,#787878 334px,#6e6e6e 340px,#5e5e5e 347px,#5b5b5b 350px,#5e5e5e 353px,#727272 364px,#7d7d7d 375px,#7a7a7a 381px,#626262 404px,#6f6f6f 417px,#787878 433px,#6a6a6a 465px,#707070 480px,#707070 499px)"></i>
<i style="top:287.42px;height:8.11px;background:linear-gradient(90deg,#6b6b6b 0px,#6b6b6b 51px,#686868 76px,#6e6e6e 85px,#959595 118px,#9a9a9a 126px,#9a9a9a 134px,#949494 145px,#848484 158px,#676767 176px,#414141 196px,#363636 204px,#2f2f2f 215px,#2e2e2e 235px,#2f2f2f 254px,#343434 264px,#3d3d3d 272px,#5e5e5e 293px,#797979 324px,#787878 329px,#707070 336px,#666666 341px,#535353 348px,#505050 351px,#545454 354px,#6c6c6c 364px,#7a7a7a 376px,#787878 381px,#6a6a6a 393px,#575757 405px,#585858 408px,#696969 418px,#757575 434px,#6a6a6a 456px,#606060 467px,#6a6a6a 481px,#6b6b6b 499px)"></i>
<i style="top:294.93px;height:8.11px;background:linear-gradient(90deg,#646464 0px,#646464 48px,#5e5e5e 73px,#646464 80px,#8a8a8a 113px,#909090 122px,#919191 131px,#8b8b8b 141px,#7d7d7d 153px,#353535 203px,#2e2e2e 215px,#2c2c2c 234px,#2e2e2e 252px,#323232 263px,#3b3b3b 271px,#585858 292px,#717171 324px,#707070 330px,#666666 338px,#5e5e5e 342px,#4a4a4a 349px,#474747 351px,#4a4a4a 354px,#646464 364px,#707070 372px,#747474 377px,#727272 382px,#636363 394px,#4e4e4e 404px,#4b4b4b 407px,#4e4e4e 410px,#626262 419px,#717171 436px,#626262 458px,#555555 469px,#636363 483px,#646464 499px)"></i>
<i style="top:302.44px;height:8.11px;background:linear-gradient(90deg,#616161 0px,#616161 45px,#595959 69px,#5d5d5d 75px,#858585 108px,#8c8c8c 118px,#8d8d8d 127px,#888888 136px,#7d7d7d 147px,#343434 202px,#2d2d2d 214px,#2b2b2b 234px,#2d2d2d 251px,#323232 262px,#555555 291px,#6e6e6e 324px,#6d6d6d 330px,#646464 338px,#5a5a5a 343px,#494949 349px,#454545 352px,#494949 355px,#626262 365px,#717171 378px,#6f6f6f 383px,#5f5f5f 396px,#494949 405px,#454545 408px,#484848 411px,#5e5e5e 420px,#6f6f6f 437px,#6e6e6e 442px,#5f5f5f 460px,#4e4e4e 471px,#505050 474px,#5f5f5f 484px,#616161 499px)"></i>
<i style="top:309.95px;height:8.11px;background:linear-gradient(90deg,#606060 0px,#5f5f5f 42px,#555555 65px,#5a5a5a 71px,#717171 88px,#828282 104px,#898989 114px,#8a8a8a 123px,#868686 131px,#7d7d7d 141px,#333333 202px,#2d2d2d 214px,#2a2a2a 233px,#2c2c2c 250px,#313131 261px,#535353 291px,#6c6c6c 325px,#6a6a6a 331px,#616161 339px,#5a5a5a 343px,#474747 350px,#444444 353px,#484848 356px,#5f5f5f 365px,#6f6f6f 379px,#6d6d6d 384px,#5d5d5d 397px,#444444 409px,#474747 412px,#5c5c5c 421px,#6d6d6d 439px,#6c6c6c 443px,#5d5d5d 461px,#4a4a4a 473px,#4c4c4c 476px,#5d5d5d 486px,#606060 499px)"></i>
<i style="top:317.46px;height:8.11px;background:linear-gradient(90deg,#5d5d5d 0px,#5c5c5c 38px,#535353 62px,#7f7f7f 100px,#858585 110px,#868686 120px,#7b7b7b 136px,#333333 201px,#2c2c2c 213px,#2a2a2a 232px,#2c2c2c 249px,#303030 260px,#515151 290px,#696969 325px,#686868 331px,#5e5e5e 340px,#575757 344px,#464646 350px,#424242 353px,#454545 356px,#5c5c5c 366px,#6c6c6c 380px,#6a6a6a 385px,#5a5a5a 399px,#424242 410px,#444444 413px,#595959 422px,#6a6a6a 440px,#696969 445px,#5b5b5b 463px,#484848 475px,#4a4a4a 478px,#5a5a5a 487px,#5d5d5d 499px)"></i>
<i style="top:324.97px;height:8.11px;background:linear-gradient(90deg,#585858 0px,#575757 35px,#4f4f4f 58px,#787878 97px,#7e7e7e 107px,#7f7f7f 116px,#767676 131px,#323232 200px,#2b2b2b 213px,#292929 231px,#2b2b2b 248px,#303030 260px,#4d4d4d 290px,#636363 325px,#626262 331px,#595959 340px,#515151 345px,#414141 351px,#3e3e3e 354px,#424242 357px,#565656 366px,#666666 381px,#646464 386px,#555555 400px,#414141 409px,#3e3e3e 412px,#555555 424px,#646464 442px,#555555 465px,#444444 477px,#555555 489px,#585858 499px)"></i>
<i style="top:332.48px;height:8.11px;background:linear-gradient(90deg,#535353 0px,#525252 31px,#4b4b4b 55px,#717171 93px,#777777 103px,#787878 112px,#707070 126px,#313131 199px,#2b2b2b 212px,#282828 231px,#2f2f2f 259px,#484848 289px,#5e5e5e 326px,#5c5c5c 332px,#545454 341px,#3b3b3b 354px,#3d3d3d 357px,#525252 367px,#606060 382px,#5e5e5e 387px,#505050 401px,#3e3e3e 410px,#3b3b3b 413px,#3e3e3e 416px,#505050 425px,#5e5e5e 443px,#5e5e5e 448px,#515151 467px,#404040 479px,#505050 490px,#535353 499px)"></i>
<i style="top:339.99px;height:8.11px;background:linear-gradient(90deg,#4f4f4f 0px,#4f4f4f 28px,#474747 51px,#6c6c6c 89px,#727272 99px,#727272 108px,#6c6c6c 121px,#575757 145px,#2f2f2f 199px,#2a2a2a 212px,#282828 230px,#2e2e2e 258px,#454545 289px,#4f4f4f 310px,#5a5a5a 326px,#585858 332px,#4f4f4f 342px,#3b3b3b 352px,#383838 355px,#3b3b3b 358px,#4d4d4d 367px,#5c5c5c 383px,#4d4d4d 402px,#383838 414px,#3b3b3b 417px,#4c4c4c 426px,#5a5a5a 445px,#4d4d4d 469px,#3d3d3d 480px,#3f3f3f 483px,#4c4c4c 492px,#4f4f4f 499px)"></i>
<i style="top:347.5px;height:8.11px;background:linear-gradient(90deg,#4c4c4c 0px,#4b4b4b 25px,#444444 47px,#686868 86px,#6d6d6d 96px,#6e6e6e 105px,#696969 116px,#535353 143px,#2f2f2f 197px,#2a2a2a 210px,#272727 229px,#2d2d2d 258px,#424242 288px,#4b4b4b 310px,#565656 326px,#555555 332px,#4d4d4d 342px,#383838 353px,#363636 356px,#4a4a4a 368px,#585858 384px,#494949 404px,#363636 415px,#383838 418px,#494949 427px,#565656 446px,#494949 471px,#3b3b3b 482px,#3c3c3c 485px,#484848 493px,#4c4c4c 499px)"></i>
<i style="top:355.01px;height:8.11px;background:linear-gradient(90deg,#494949 0px,#484848 22px,#414141 44px,#626262 81px,#686868 91px,#696969 101px,#646464 112px,#4f4f4f 140px,#2e2e2e 196px,#272727 228px,#2d2d2d 257px,#404040 288px,#484848 310px,#525252 327px,#494949 343px,#333333 356px,#363636 359px,#474747 369px,#545454 385px,#464646 405px,#363636 414px,#333333 417px,#464646 429px,#535353 448px,#474747 472px,#383838 484px,#484848 499px)"></i>
<i style="top:362.52px;height:8.11px;background:linear-gradient(90deg,#464646 0px,#454545 18px,#3e3e3e 40px,#5d5d5d 76px,#656565 94px,#616161 107px,#4b4b4b 137px,#2e2e2e 195px,#272727 223px,#2b2b2b 255px,#3d3d3d 287px,#454545 310px,#4f4f4f 327px,#454545 344px,#313131 357px,#444444 369px,#515151 386px,#434343 406px,#313131 418px,#434343 430px,#4f4f4f 450px,#444444 474px,#363636 486px,#444444 499px)"></i>
<i style="top:370.03px;height:8.11px;background:linear-gradient(90deg,#434343 0px,#3d3d3d 37px,#5a5a5a 72px,#616161 91px,#5d5d5d 104px,#474747 136px,#3c3c3c 166px,#2d2d2d 194px,#272727 222px,#2b2b2b 255px,#4c4c4c 328px,#424242 345px,#303030 357px,#313131 360px,#424242 370px,#4e4e4e 387px,#414141 407px,#303030 419px,#414141 431px,#4c4c4c 451px,#414141 476px,#343434 488px,#404040 499px)"></i>
<i style="top:377.54px;height:8.11px;background:linear-gradient(90deg,#414141 0px,#3a3a3a 33px,#575757 69px,#5e5e5e 87px,#5a5a5a 100px,#434343 136px,#3a3a3a 165px,#2b2b2b 197px,#262626 221px,#2b2b2b 254px,#494949 328px,#404040 345px,#2e2e2e 358px,#303030 361px,#3f3f3f 370px,#4b4b4b 388px,#3e3e3e 409px,#2e2e2e 420px,#303030 423px,#3e3e3e 432px,#4a4a4a 453px,#3f3f3f 478px,#323232 489px,#333333 492px,#3c3c3c 499px)"></i>
<i style="top:385.05px;height:8.11px;background:linear-gradient(90deg,#3e3e3e 0px,#383838 30px,#545454 65px,#5a5a5a 84px,#565656 97px,#414141 132px,#2a2a2a 196px,#262626 219px,#2a2a2a 254px,#383838 287px,#3e3e3e 312px,#464646 328px,#3d3d3d 346px,#2c2c2c 359px,#3d3d3d 371px,#484848 389px,#3c3c3c 410px,#2c2c2c 421px,#2d2d2d 424px,#3c3c3c 434px,#474747 455px,#3c3c3c 480px,#303030 491px,#373737 499px)"></i>
<i style="top:392.56px;height:8.11px;background:linear-gradient(90deg,#3c3c3c 0px,#363636 26px,#505050 61px,#575757 80px,#535353 93px,#3e3e3e 129px,#2a2a2a 196px,#262626 217px,#2a2a2a 253px,#3b3b3b 311px,#444444 329px,#3b3b3b 347px,#2a2a2a 359px,#2c2c2c 362px,#3a3a3a 371px,#464646 390px,#3a3a3a 411px,#2a2a2a 423px,#3a3a3a 435px,#444444 456px,#3a3a3a 482px,#2e2e2e 493px,#333333 499px)"></i>
<i style="top:400.07px;height:8.11px;background:linear-gradient(90deg,#393939 0px,#353535 23px,#4e4e4e 57px,#545454 76px,#515151 89px,#3d3d3d 125px,#262626 215px,#292929 252px,#3a3a3a 312px,#424242 329px,#393939 347px,#292929 360px,#383838 372px,#434343 391px,#383838 412px,#292929 424px,#383838 436px,#424242 458px,#383838 484px,#2d2d2d 494px,#2f2f2f 499px)"></i>
<i style="top:407.58px;height:8.11px;background:linear-gradient(90deg,#373737 0px,#333333 19px,#4a4a4a 54px,#505050 73px,#4d4d4d 85px,#3b3b3b 121px,#262626 214px,#292929 252px,#383838 311px,#404040 330px,#373737 348px,#282828 361px,#373737 373px,#414141 392px,#363636 414px,#282828 425px,#363636 437px,#404040 460px,#373737 485px,#2d2d2d 495px,#2c2c2c 499px)"></i>
<i style="top:415.09px;height:8.11px;background:linear-gradient(90deg,#343434 0px,#303030 15px,#444444 49px,#494949 69px,#383838 117px,#262626 214px,#292929 252px,#363636 312px,#3d3d3d 330px,#363636 348px,#282828 359px,#262626 362px,#343434 373px,#3f3f3f 393px,#343434 415px,#262626 426px,#343434 439px,#3e3e3e 461px,#353535 487px,#2a2a2a 499px)"></i>
<i style="top:422.6px;height:8.11px;background:linear-gradient(90deg,#303030 0px,#2e2e2e 12px,#3d3d3d 41px,#434343 65px,#363636 112px,#262626 215px,#282828 252px,#343434 311px,#3b3b3b 331px,#333333 349px,#252525 362px,#323232 374px,#3d3d3d 394px,#323232 416px,#252525 427px,#262626 430px,#323232 440px,#3b3b3b 463px,#333333 489px,#292929 499px)"></i>
<i style="top:430.11px;height:8.11px;background:linear-gradient(90deg,#2d2d2d 0px,#2c2c2c 8px,#383838 34px,#3d3d3d 63px,#343434 107px,#252525 221px,#323232 310px,#393939 331px,#313131 350px,#242424 363px,#303030 374px,#3a3a3a 395px,#303030 417px,#242424 429px,#303030 441px,#393939 464px,#313131 491px,#292929 499px)"></i>
<i style="top:437.62px;height:8.11px;background:linear-gradient(90deg,#2b2b2b 0px,#343434 29px,#373737 60px,#252525 222px,#303030 310px,#373737 331px,#2f2f2f 351px,#222222 363px,#2f2f2f 375px,#383838 395px,#2f2f2f 418px,#222222 430px,#2f2f2f 442px,#373737 465px,#2f2f2f 492px,#2a2a2a 499px)"></i>
<i style="top:445.13px;height:8.11px;background:linear-gradient(90deg,#292929 0px,#2f2f2f 22px,#313131 58px,#2d2d2d 139px,#252525 224px,#2e2e2e 310px,#353535 332px,#2e2e2e 351px,#212121 364px,#2d2d2d 375px,#363636 396px,#2d2d2d 420px,#212121 431px,#2d2d2d 444px,#353535 467px,#2a2a2a 499px)"></i>
<i style="top:452.64px;height:8.11px;background:linear-gradient(90deg,#282828 0px,#2d2d2d 21px,#2d2d2d 107px,#252525 225px,#2d2d2d 311px,#333333 332px,#2c2c2c 352px,#202020 364px,#2b2b2b 376px,#343434 397px,#2b2b2b 421px,#202020 432px,#2c2c2c 445px,#333333 468px,#2a2a2a 499px)"></i>
<i style="top:460.15px;height:8.11px;background:linear-gradient(90deg,#282828 0px,#2b2b2b 18px,#2b2b2b 108px,#252525 225px,#2b2b2b 311px,#313131 332px,#2b2b2b 352px,#1f1f1f 365px,#2a2a2a 377px,#323232 398px,#2a2a2a 422px,#1f1f1f 434px,#2a2a2a 446px,#313131 469px,#2a2a2a 499px)"></i>
<i style="top:467.66px;height:8.11px;background:linear-gradient(90deg,#272727 0px,#292929 110px,#252525 227px,#2a2a2a 311px,#2f2f2f 333px,#292929 353px,#1e1e1e 366px,#282828 377px,#303030 399px,#282828 423px,#1d1d1d 435px,#282828 447px,#2f2f2f 471px,#292929 499px)"></i>
<i style="top:475.17px;height:8.11px;background:linear-gradient(90deg,#272727 0px,#282828 110px,#252525 231px,#282828 311px,#2d2d2d 333px,#272727 354px,#1c1c1c 366px,#262626 378px,#2e2e2e 400px,#272727 424px,#1c1c1c 436px,#272727 449px,#2d2d2d 472px,#282828 499px)"></i>
<i style="top:482.68px;height:8.11px;background:linear-gradient(90deg,#262626 0px,#252525 239px,#272727 311px,#2c2c2c 333px,#262626 354px,#1b1b1b 367px,#252525 379px,#2d2d2d 401px,#252525 426px,#1b1b1b 438px,#252525 450px,#2c2c2c 473px,#262626 499px)"></i>
<i style="top:490.19px;height:8.11px;background:linear-gradient(90deg,#252525 0px,#252525 252px,#262626 312px,#2b2b2b 334px,#252525 355px,#1b1b1b 367px,#242424 379px,#2c2c2c 402px,#242424 427px,#1b1b1b 439px,#242424 451px,#2b2b2b 475px,#262626 499px)"></i>
<i style="top:497.7px;height:2.2px;background:linear-gradient(90deg,#252525 0px,#252525 306px,#2a2a2a 334px,#242424 355px,#1a1a1a 368px,#242424 380px,#2b2b2b 403px,#232323 428px,#1a1a1a 440px,#242424 452px,#2a2a2a 476px,#252525 499px)"></i>
<svg width="499" height="499.3" viewBox="0 0 499 499.3"><defs><linearGradient id="p4d0"><stop offset="0" stop-opacity=".6"/><stop offset=".267" stop-opacity=".589"/><stop offset=".281" stop-opacity=".568"/><stop offset=".293" stop-opacity=".527"/><stop offset=".325" stop-opacity=".307"/><stop offset=".343" stop-opacity=".236"/><stop offset=".371" stop-opacity=".21"/><stop offset=".451" stop-opacity=".206"/><stop offset=".531" stop-opacity=".209"/><stop offset=".559" stop-opacity=".232"/><stop offset=".577" stop-opacity=".297"/><stop offset=".611" stop-opacity=".528"/><stop offset=".623" stop-opacity=".569"/><stop offset=".639" stop-opacity=".591"/><stop offset="1" stop-opacity=".6"/></linearGradient><linearGradient id="p4d1"><stop offset="0" stop-opacity=".6"/><stop offset=".267" stop-opacity=".589"/><stop offset=".281" stop-opacity=".568"/><stop offset=".293" stop-opacity=".527"/><stop offset=".325" stop-opacity=".307"/><stop offset=".343" stop-opacity=".236"/><stop offset=".371" stop-opacity=".21"/><stop offset=".451" stop-opacity=".206"/><stop offset=".531" stop-opacity=".209"/><stop offset=".559" stop-opacity=".232"/><stop offset=".577" stop-opacity=".297"/><stop offset=".611" stop-opacity=".528"/><stop offset=".623" stop-opacity=".569"/><stop offset=".639" stop-opacity=".591"/><stop offset="1" stop-opacity=".6"/></linearGradient><linearGradient id="p4d2"><stop offset="0" stop-opacity=".6"/><stop offset=".267" stop-opacity=".589"/><stop offset=".281" stop-opacity=".568"/><stop offset=".293" stop-opacity=".527"/><stop offset=".325" stop-opacity=".307"/><stop offset=".343" stop-opacity=".236"/><stop offset=".371" stop-opacity=".209"/><stop offset=".451" stop-opacity=".206"/><stop offset=".531" stop-opacity=".209"/><stop offset=".559" stop-opacity=".232"/><stop offset=".577" stop-opacity=".297"/><stop offset=".611" stop-opacity=".528"/><stop offset=".623" stop-opacity=".569"/><stop offset=".639" stop-opacity=".591"/><stop offset="1" stop-opacity=".6"/></linearGradient><linearGradient id="p4d3"><stop offset="0" stop-opacity=".6"/><stop offset=".267" stop-opacity=".589"/><stop offset=".281" stop-opacity=".568"/><stop offset=".293" stop-opacity=".527"/><stop offset=".325" stop-opacity=".307"/><stop offset=".343" stop-opacity=".236"/><stop offset=".371" stop-opacity=".209"/><stop offset=".451" stop-opacity=".206"/><stop offset=".531" stop-opacity=".209"/><stop offset=".559" stop-opacity=".232"/><stop offset=".577" stop-opacity=".297"/><stop offset=".611" stop-opacity=".528"/><stop offset=".623" stop-opacity=".569"/><stop offset=".639" stop-opacity=".591"/><stop offset="1" stop-opacity=".6"/></linearGradient><linearGradient id="p4d4"><stop offset="0" stop-opacity=".6"/><stop offset=".23" stop-opacity=".599"/><stop offset=".269" stop-opacity=".587"/><stop offset=".283" stop-opacity=".563"/><stop offset=".293" stop-opacity=".527"/><stop offset=".325" stop-opacity=".307"/><stop offset=".339" stop-opacity=".246"/><stop offset=".361" stop-opacity=".213"/><stop offset=".405" stop-opacity=".207"/><stop offset=".525" stop-opacity=".208"/><stop offset=".557" stop-opacity=".229"/><stop offset=".567" stop-opacity=".253"/><stop offset=".577" stop-opacity=".297"/><stop offset=".603" stop-opacity=".483"/><stop offset=".613" stop-opacity=".537"/><stop offset=".625" stop-opacity=".573"/><stop offset=".639" stop-opacity=".591"/><stop offset="1" stop-opacity=".6"/></linearGradient><linearGradient id="p4d5"><stop offset="0" stop-opacity=".6"/><stop offset=".23" stop-opacity=".599"/><stop offset=".269" stop-opacity=".588"/><stop offset=".283" stop-opacity=".564"/><stop offset=".293" stop-opacity=".529"/><stop offset=".303" stop-opacity=".471"/><stop offset=".323" stop-opacity=".326"/><stop offset=".337" stop-opacity=".259"/><stop offset=".357" stop-opacity=".221"/><stop offset=".387" stop-opacity=".21"/><stop offset=".523" stop-opacity=".217"/><stop offset=".555" stop-opacity=".235"/><stop offset=".567" stop-opacity=".261"/><stop offset=".577" stop-opacity=".305"/><stop offset=".603" stop-opacity=".485"/><stop offset=".613" stop-opacity=".539"/><stop offset=".625" stop-opacity=".574"/><stop offset=".641" stop-opacity=".593"/><stop offset="1" stop-opacity=".6"/></linearGradient><linearGradient id="p4d6"><stop offset="0" stop-opacity=".6"/><stop offset=".238" stop-opacity=".599"/><stop offset=".277" stop-opacity=".588"/><stop offset=".299" stop-opacity=".542"/><stop offset=".327" stop-opacity=".417"/><stop offset=".349" stop-opacity=".344"/><stop offset=".367" stop-opacity=".294"/><stop offset=".383" stop-opacity=".273"/><stop offset=".399" stop-opacity=".216"/><stop offset=".429" stop-opacity=".24"/><stop offset=".511" stop-opacity=".259"/><stop offset=".557" stop-opacity=".313"/><stop offset=".595" stop-opacity=".4"/><stop offset=".601" stop-opacity=".433"/><stop offset=".611" stop-opacity=".534"/><stop offset=".615" stop-opacity=".56"/><stop offset=".633" stop-opacity=".593"/><stop offset="1" stop-opacity=".6"/></linearGradient><linearGradient id="p4d7"><stop offset="0" stop-opacity=".6"/><stop offset=".269" stop-opacity=".599"/><stop offset=".311" stop-opacity=".582"/><stop offset=".325" stop-opacity=".557"/><stop offset=".337" stop-opacity=".514"/><stop offset=".365" stop-opacity=".323"/><stop offset=".373" stop-opacity=".288"/><stop offset=".383" stop-opacity=".267"/><stop offset=".397" stop-opacity=".147"/><stop offset=".405" stop-opacity=".132"/><stop offset=".477" stop-opacity=".142"/><stop offset=".511" stop-opacity=".171"/><stop offset=".591" stop-opacity=".313"/><stop offset=".597" stop-opacity=".335"/><stop offset=".601" stop-opacity=".37"/><stop offset=".609" stop-opacity=".505"/><stop offset=".613" stop-opacity=".558"/><stop offset=".617" stop-opacity=".583"/><stop offset=".623" stop-opacity=".596"/><stop offset="1" stop-opacity=".6"/></linearGradient><linearGradient id="p4d8"><stop offset="0" stop-opacity=".6"/><stop offset=".273" stop-opacity=".599"/><stop offset=".313" stop-opacity=".586"/><stop offset=".325" stop-opacity=".565"/><stop offset=".335" stop-opacity=".529"/><stop offset=".345" stop-opacity=".469"/><stop offset=".367" stop-opacity=".298"/><stop offset=".373" stop-opacity=".272"/><stop offset=".385" stop-opacity=".251"/><stop offset=".397" stop-opacity=".162"/><stop offset=".405" stop-opacity=".148"/><stop offset=".477" stop-opacity=".158"/><stop offset=".511" stop-opacity=".188"/><stop offset=".591" stop-opacity=".335"/><stop offset=".597" stop-opacity=".355"/><stop offset=".601" stop-opacity=".389"/><stop offset=".609" stop-opacity=".515"/><stop offset=".613" stop-opacity=".563"/><stop offset=".623" stop-opacity=".597"/><stop offset="1" stop-opacity=".6"/></linearGradient><linearGradient id="p4d9"><stop offset="0" stop-opacity=".6"/><stop offset=".273" stop-opacity=".599"/><stop offset=".313" stop-opacity=".586"/><stop offset=".327" stop-opacity=".56"/><stop offset=".337" stop-opacity=".519"/><stop offset=".369" stop-opacity=".285"/><stop offset=".387" stop-opacity=".257"/><stop offset=".397" stop-opacity=".202"/><stop offset=".403" stop-opacity=".192"/><stop offset=".479" stop-opacity=".205"/><stop offset=".523" stop-opacity=".253"/><stop offset=".595" stop-opacity=".402"/><stop offset=".601" stop-opacity=".438"/><stop offset=".613" stop-opacity=".573"/><stop offset=".623" stop-opacity=".598"/><stop offset="1" stop-opacity=".6"/></linearGradient><linearGradient id="p4d10"><stop offset="0" stop-opacity=".6"/><stop offset=".309" stop-opacity=".59"/><stop offset=".325" stop-opacity=".565"/><stop offset=".337" stop-opacity=".519"/><stop offset=".347" stop-opacity=".453"/><stop offset=".363" stop-opacity=".322"/><stop offset=".371" stop-opacity=".277"/><stop offset=".377" stop-opacity=".266"/><stop offset=".389" stop-opacity=".282"/><stop offset=".401" stop-opacity=".257"/><stop offset=".431" stop-opacity=".274"/><stop offset=".477" stop-opacity=".272"/><stop offset=".515" stop-opacity=".312"/><stop offset=".569" stop-opacity=".443"/><stop offset=".595" stop-opacity=".491"/><stop offset=".601" stop-opacity=".514"/><stop offset=".611" stop-opacity=".58"/><stop offset=".619" stop-opacity=".597"/><stop offset="1" stop-opacity=".6"/></linearGradient><linearGradient id="p4d11"><stop offset="0" stop-opacity=".6"/><stop offset=".271" stop-opacity=".6"/><stop offset=".311" stop-opacity=".588"/><stop offset=".325" stop-opacity=".565"/><stop offset=".335" stop-opacity=".529"/><stop offset=".345" stop-opacity=".468"/><stop offset=".365" stop-opacity=".308"/><stop offset=".371" stop-opacity=".278"/><stop offset=".377" stop-opacity=".268"/><stop offset=".391" stop-opacity=".312"/><stop offset=".433" stop-opacity=".328"/><stop offset=".475" stop-opacity=".324"/><stop offset=".513" stop-opacity=".365"/><stop offset=".573" stop-opacity=".525"/><stop offset=".613" stop-opacity=".598"/><stop offset="1" stop-opacity=".6"/></linearGradient><linearGradient id="p4d12"><stop offset="0" stop-opacity=".6"/><stop offset=".271" stop-opacity=".6"/><stop offset=".311" stop-opacity=".588"/><stop offset=".325" stop-opacity=".565"/><stop offset=".335" stop-opacity=".529"/><stop offset=".345" stop-opacity=".468"/><stop offset=".365" stop-opacity=".308"/><stop offset=".371" stop-opacity=".278"/><stop offset=".377" stop-opacity=".269"/><stop offset=".393" stop-opacity=".33"/><stop offset=".431" stop-opacity=".352"/><stop offset=".477" stop-opacity=".35"/><stop offset=".513" stop-opacity=".391"/><stop offset=".531" stop-opacity=".432"/><stop offset=".573" stop-opacity=".56"/><stop offset=".599" stop-opacity=".607"/><stop offset="1" stop-opacity=".6"/></linearGradient><linearGradient id="p4d13"><stop offset="0" stop-opacity=".6"/><stop offset=".271" stop-opacity=".6"/><stop offset=".311" stop-opacity=".588"/><stop offset=".325" stop-opacity=".565"/><stop offset=".335" stop-opacity=".529"/><stop offset=".345" stop-opacity=".468"/><stop offset=".365" stop-opacity=".308"/><stop offset=".371" stop-opacity=".278"/><stop offset=".377" stop-opacity=".269"/><stop offset=".393" stop-opacity=".336"/><stop offset=".431" stop-opacity=".361"/><stop offset=".477" stop-opacity=".358"/><stop offset=".513" stop-opacity=".4"/><stop offset=".531" stop-opacity=".442"/><stop offset=".573" stop-opacity=".573"/><stop offset=".597" stop-opacity=".618"/><stop offset=".625" stop-opacity=".6"/><stop offset="1" stop-opacity=".6"/></linearGradient><linearGradient id="p4d14"><stop offset="0" stop-opacity=".6"/><stop offset=".271" stop-opacity=".6"/><stop offset=".311" stop-opacity=".588"/><stop offset=".325" stop-opacity=".565"/><stop offset=".335" stop-opacity=".529"/><stop offset=".345" stop-opacity=".468"/><stop offset=".365" stop-opacity=".308"/><stop offset=".371" stop-opacity=".278"/><stop offset=".377" stop-opacity=".269"/><stop offset=".395" stop-opacity=".34"/><stop offset=".431" stop-opacity=".364"/><stop offset=".477" stop-opacity=".361"/><stop offset=".513" stop-opacity=".403"/><stop offset=".531" stop-opacity=".445"/><stop offset=".573" stop-opacity=".577"/><stop offset=".597" stop-opacity=".622"/><stop offset=".625" stop-opacity=".6"/><stop offset="1" stop-opacity=".6"/></linearGradient><linearGradient id="p4d15"><stop offset="0" stop-opacity=".6"/><stop offset=".271" stop-opacity=".6"/><stop offset=".311" stop-opacity=".588"/><stop offset=".325" stop-opacity=".565"/><stop offset=".335" stop-opacity=".529"/><stop offset=".345" stop-opacity=".468"/><stop offset=".365" stop-opacity=".309"/><stop offset=".371" stop-opacity=".278"/><stop offset=".377" stop-opacity=".27"/><stop offset=".395" stop-opacity=".341"/><stop offset=".431" stop-opacity=".364"/><stop offset=".477" stop-opacity=".362"/><stop offset=".513" stop-opacity=".404"/><stop offset=".531" stop-opacity=".445"/><stop offset=".573" stop-opacity=".578"/><stop offset=".597" stop-opacity=".623"/><stop offset=".625" stop-opacity=".6"/><stop offset="1" stop-opacity=".6"/></linearGradient><linearGradient id="p4d16"><stop offset="0" stop-opacity=".6"/><stop offset=".311" stop-opacity=".589"/><stop offset=".325" stop-opacity=".566"/><stop offset=".335" stop-opacity=".531"/><stop offset=".345" stop-opacity=".471"/><stop offset=".365" stop-opacity=".314"/><stop offset=".371" stop-opacity=".284"/><stop offset=".377" stop-opacity=".275"/><stop offset=".393" stop-opacity=".34"/><stop offset=".431" stop-opacity=".365"/><stop offset=".477" stop-opacity=".362"/><stop offset=".513" stop-opacity=".404"/><stop offset=".531" stop-opacity=".446"/><stop offset=".573" stop-opacity=".578"/><stop offset=".597" stop-opacity=".624"/><stop offset=".625" stop-opacity=".6"/><stop offset="1" stop-opacity=".6"/></linearGradient><linearGradient id="p4d17"><stop offset="0" stop-opacity=".602"/><stop offset=".311" stop-opacity=".593"/><stop offset=".335" stop-opacity=".548"/><stop offset=".345" stop-opacity=".5"/><stop offset=".365" stop-opacity=".37"/><stop offset=".377" stop-opacity=".336"/><stop offset=".389" stop-opacity=".357"/><stop offset=".399" stop-opacity=".346"/><stop offset=".429" stop-opacity=".372"/><stop offset=".477" stop-opacity=".371"/><stop offset=".511" stop-opacity=".409"/><stop offset=".529" stop-opacity=".446"/><stop offset=".575" stop-opacity=".584"/><stop offset=".597" stop-opacity=".623"/><stop offset=".625" stop-opacity=".602"/><stop offset="1" stop-opacity=".602"/></linearGradient><linearGradient id="p4d18"><stop offset="0" stop-opacity=".619"/><stop offset=".323" stop-opacity=".617"/><stop offset=".381" stop-opacity=".577"/><stop offset=".399" stop-opacity=".541"/><stop offset=".513" stop-opacity=".571"/><stop offset=".599" stop-opacity=".621"/><stop offset="1" stop-opacity=".619"/></linearGradient><mask id="p4m" maskUnits="userSpaceOnUse" x="0" y="0" width="499" height="499.3"><rect y="-4.01" width="499" height="11.7" fill="url(#lp)"/><rect y="6.25" width="499" height="11.7" fill="url(#lp)"/><rect y="16.51" width="499" height="11.7" fill="url(#lp)"/><rect y="26.77" width="499" height="11.7" fill="url(#lp)"/><rect y="37.03" width="499" height="11.7" fill="url(#lp)"/><rect y="47.29" width="499" height="11.7" fill="url(#lp)"/><rect y="57.55" width="499" height="11.7" fill="url(#lp)"/><rect y="67.81" width="499" height="11.7" fill="url(#lp)"/><rect y="78.07" width="499" height="11.7" fill="url(#lp)"/><rect y="88.33" width="499" height="11.7" fill="url(#lp)"/><rect y="98.59" width="499" height="11.7" fill="url(#lp)"/><rect y="108.85" width="499" height="11.7" fill="url(#lp)"/><rect y="119.11" width="499" height="11.7" fill="url(#lp)"/><rect y="129.37" width="499" height="11.7" fill="url(#lp)"/><rect y="139.63" width="499" height="11.7" fill="url(#lp)"/><rect y="149.89" width="499" height="11.7" fill="url(#lp)"/><rect y="160.15" width="499" height="11.7" fill="url(#lp)"/><rect y="170.41" width="499" height="11.7" fill="url(#lp)"/><rect y="180.67" width="499" height="11.7" fill="url(#lp)"/><rect y="192.8" width="499" height="9" fill="url(#lp)"/><rect y="200.31" width="499" height="9" fill="url(#lp)"/><rect y="207.82" width="499" height="9" fill="url(#lp)"/><rect y="215.33" width="499" height="9" fill="url(#lp)"/><rect y="222.84" width="499" height="9" fill="url(#lp)"/><rect y="230.35" width="499" height="9" fill="url(#lp)"/><rect y="237.86" width="499" height="9" fill="url(#lp)"/><rect y="246.12" width="499" height="7.5" fill="url(#lp)"/><rect y="253.63" width="499" height="7.5" fill="url(#lp)"/><rect y="261.14" width="499" height="7.5" fill="url(#lp)"/><rect y="268.65" width="499" height="7.5" fill="url(#lp)"/><rect y="276.16" width="499" height="7.5" fill="url(#lp)"/><rect y="283.67" width="499" height="7.5" fill="url(#lp)"/><rect y="291.18" width="499" height="7.5" fill="url(#lp)"/><rect y="298.69" width="499" height="7.5" fill="url(#lp)"/><rect y="306.2" width="499" height="7.5" fill="url(#lp)"/><rect y="313.71" width="499" height="7.5" fill="url(#lp)"/><rect y="321.22" width="499" height="7.5" fill="url(#lp)"/><rect y="328.73" width="499" height="7.5" fill="url(#lp)"/><rect y="336.24" width="499" height="7.5" fill="url(#lp)"/><rect y="343.75" width="499" height="7.5" fill="url(#lp)"/><rect y="351.26" width="499" height="7.5" fill="url(#lp)"/><rect y="358.77" width="499" height="7.5" fill="url(#lp)"/><rect y="366.28" width="499" height="7.5" fill="url(#lp)"/><rect y="373.79" width="499" height="7.5" fill="url(#lp)"/><rect y="381.3" width="499" height="7.5" fill="url(#lp)"/><rect y="388.81" width="499" height="7.5" fill="url(#lp)"/><rect y="396.32" width="499" height="7.5" fill="url(#lp)"/><rect y="403.83" width="499" height="7.5" fill="url(#lp)"/><rect y="411.34" width="499" height="7.5" fill="url(#lp)"/><rect y="418.85" width="499" height="7.5" fill="url(#lp)"/><rect y="426.36" width="499" height="7.5" fill="url(#lp)"/><rect y="433.87" width="499" height="7.5" fill="url(#lp)"/><rect y="441.38" width="499" height="7.5" fill="url(#lp)"/><rect y="448.89" width="499" height="7.5" fill="url(#lp)"/><rect y="456.4" width="499" height="7.5" fill="url(#lp)"/><rect y="463.91" width="499" height="7.5" fill="url(#lp)"/><rect y="471.42" width="499" height="7.5" fill="url(#lp)"/><rect y="478.93" width="499" height="7.5" fill="url(#lp)"/><rect y="486.44" width="499" height="7.5" fill="url(#lp)"/><rect y="493.95" width="499" height="7.5" fill="url(#lp)"/></mask></defs><g mask="url(#p4m)"><rect y="0" width="499" height="6.97" fill="url(#p4d0)"/><rect y="6.97" width="499" height="10.26" fill="url(#p4d1)"/><rect y="17.23" width="499" height="10.26" fill="url(#p4d2)"/><rect y="27.49" width="499" height="10.26" fill="url(#p4d3)"/><rect y="37.75" width="499" height="10.26" fill="url(#p4d4)"/><rect y="48.01" width="499" height="10.26" fill="url(#p4d5)"/><rect y="58.27" width="499" height="10.26" fill="url(#p4d6)"/><rect y="68.53" width="499" height="10.26" fill="url(#p4d7)"/><rect y="78.79" width="499" height="10.26" fill="url(#p4d8)"/><rect y="89.05" width="499" height="10.26" fill="url(#p4d9)"/><rect y="99.31" width="499" height="10.26" fill="url(#p4d10)"/><rect y="109.57" width="499" height="10.26" fill="url(#p4d11)"/><rect y="119.83" width="499" height="10.26" fill="url(#p4d12)"/><rect y="130.09" width="499" height="10.26" fill="url(#p4d13)"/><rect y="140.35" width="499" height="10.26" fill="url(#p4d14)"/><rect y="150.61" width="499" height="10.26" fill="url(#p4d15)"/><rect y="160.87" width="499" height="10.26" fill="url(#p4d16)"/><rect y="171.13" width="499" height="10.26" fill="url(#p4d17)"/><rect y="181.39" width="499" height="10.52" fill="url(#p4d18)"/><rect y="192.8" width="499" height="8.25" fill-opacity=".626"/><rect y="201.06" width="499" height="7.51" fill-opacity=".626"/><rect y="208.57" width="499" height="7.51" fill-opacity=".626"/><rect y="216.08" width="499" height="7.51" fill-opacity=".626"/><rect y="223.59" width="499" height="7.51" fill-opacity=".626"/><rect y="231.1" width="499" height="7.51" fill-opacity=".626"/><rect y="238.61" width="499" height="7.51" fill-opacity=".624"/><rect y="246.12" width="499" height="7.5" fill-opacity=".614"/><rect y="253.63" width="499" height="7.5" fill-opacity=".621"/><rect y="261.14" width="499" height="7.5" fill-opacity=".637"/><rect y="268.65" width="499" height="7.5" fill-opacity=".652"/><rect y="276.16" width="499" height="7.5" fill-opacity=".667"/><rect y="283.67" width="499" height="7.5" fill-opacity=".682"/><rect y="291.18" width="499" height="7.5" fill-opacity=".699"/><rect y="298.69" width="499" height="7.5" fill-opacity=".716"/><rect y="306.2" width="499" height="7.5" fill-opacity=".721"/><rect y="313.71" width="499" height="7.5" fill-opacity=".726"/><rect y="321.22" width="499" height="7.5" fill-opacity=".73"/><rect y="328.73" width="499" height="7.5" fill-opacity=".735"/><rect y="336.24" width="499" height="7.5" fill-opacity=".74"/><rect y="343.75" width="499" height="7.5" fill-opacity=".745"/><rect y="351.26" width="499" height="7.5" fill-opacity=".75"/><rect y="358.77" width="499" height="7.5" fill-opacity=".755"/><rect y="366.28" width="499" height="7.5" fill-opacity=".75"/><rect y="373.79" width="499" height="7.5" fill-opacity=".745"/><rect y="381.3" width="499" height="7.5" fill-opacity=".74"/><rect y="388.81" width="499" height="7.5" fill-opacity=".736"/><rect y="396.32" width="499" height="7.5" fill-opacity=".714"/><rect y="403.83" width="499" height="7.5" fill-opacity=".693"/><rect y="411.34" width="499" height="7.5" fill-opacity=".673"/><rect y="418.85" width="499" height="7.5" fill-opacity=".654"/><rect y="426.36" width="499" height="7.5" fill-opacity=".59"/><rect y="433.87" width="499" height="7.5" fill-opacity=".533"/><rect y="441.38" width="499" height="7.5" fill-opacity=".482"/><rect y="448.89" width="499" height="7.5" fill-opacity=".428"/><rect y="456.4" width="499" height="7.5" fill-opacity=".367"/><rect y="463.91" width="499" height="7.5" fill-opacity=".311"/><rect y="471.42" width="499" height="7.5" fill-opacity=".259"/><rect y="478.93" width="499" height="7.5" fill-opacity=".234"/><rect y="486.44" width="499" height="7.5" fill-opacity=".21"/><rect y="493.95" width="499" height="5.35" fill-opacity=".186"/></g></svg>
</div><svg id="ov" width="1560" height="1244" viewBox="0 0 1560 1244"><defs><filter id="hot" x="0" y="0" width="1" height="1" color-interpolation-filters="sRGB"><feComponentTransfer><feFuncR type="table" tableValues=".118 .118 .118 .118 .118 .119 .119 .12 .12 .121 .122 .123 .124 .125 .126 .127 .129 .13 .132 .133 .135 .137 .139 .141 .143 .145 .147 .149 .152 .154 .157 .159 .162 .165 .17 .175 .18 .185 .191 .196 .202 .208 .214 .22 .226 .233 .239 .248 .259 .27 .282 .293 .305 .317 .33 .342 .355 .368 .385 .402 .419 .437 .454 .473 .491 .51 .528 .547 .565 .584 .603 .623 .642 .662 .681 .698 .716 .734 .752 .77 .788 .804 .816 .828 .84 .852 .865 .877 .88 .881 .882 .883 .885 .886 .887 .889 .89 .892 .893 .895 .898 .901 .904 .906 .909 .914 .918 .923 .928 .932 .936 .939 .942 .946 .949 .952 .956 .959 .962 .965 .967 .969 .97 .972 .971 .969 .967 .966 .966 .967 .969 .971 .973 .975 .977 .979 .981 .983 .985 .987 .989 .992 .995 .998 1 1 1 1 1 1 1 1 1 1 1 1 1 1 1 1 1 1 1 1 1 1 1 1 1 1 1 1 1 1 1 1 1 1 1 1 1 1 1 1 1 1 1 1 1 1 1 1 1 1 1 1 1 1 1 1 1 1 1 1 1 1 1 1 1 1 1 1 1 1 1 1 1 1 1 1 1 1 1 1 1 1 1 1 1 1 1 1 1 1 1 1 1 1 1 1 1 1 1 1 1 1 1 1 1 1 1 1 1 1 1 1"/><feFuncG type="table" tableValues=".078 .078 .078 .078 .079 .079 .079 .079 .079 .079 .079 .079 .079 .08 .08 .08 .08 .081 .081 .081 .081 .082 .082 .082 .083 .083 .083 .084 .084 .085 .085 .085 .086 .086 .087 .087 .088 .088 .089 .089 .09 .091 .091 .092 .092 .093 .094 .094 .095 .096 .097 .097 .098 .099 .1 .1 .101 .102 .101 .1 .099 .099 .098 .097 .096 .095 .094 .094 .093 .093 .092 .092 .091 .091 .09 .088 .086 .085 .083 .081 .08 .078 .075 .073 .07 .068 .065 .063 .072 .082 .092 .103 .114 .124 .139 .154 .169 .184 .2 .217 .238 .26 .282 .305 .327 .35 .373 .396 .419 .443 .466 .49 .515 .539 .564 .59 .617 .644 .671 .698 .725 .752 .779 .807 .826 .843 .86 .878 .89 .897 .905 .912 .919 .924 .929 .934 .939 .945 .951 .957 .963 .97 .977 .985 .99 .993 .996 .999 1 1 1 1 1 1 1 1 1 1 1 1 1 1 1 1 1 1 1 1 1 1 1 1 1 1 1 1 1 1 1 1 1 1 1 1 1 1 1 1 1 1 1 1 1 1 1 1 1 1 1 1 1 1 1 1 1 1 1 1 1 1 1 1 1 1 1 1 1 1 1 1 1 1 1 1 1 1 1 1 1 1 1 1 1 1 1 1 1 1 1 1 1 1 1 1 1 1 1 1 1 1 1 1 1 1 1 1"/><feFuncB type="table" tableValues=".063 .063 .063 .063 .063 .063 .063 .063 .063 .063 .063 .063 .063 .063 .063 .063 .063 .063 .063 .063 .063 .063 .063 .063 .063 .063 .063 .063 .063 .063 .063 .063 .063 .063 .063 .063 .063 .063 .063 .063 .063 .063 .063 .063 .063 .063 .063 .063 .063 .063 .063 .063 .063 .063 .063 .063 .063 .063 .064 .064 .065 .066 .067 .068 .069 .07 .071 .073 .075 .077 .079 .081 .083 .085 .087 .088 .089 .09 .091 .092 .093 .095 .096 .097 .098 .099 .101 .102 .102 .102 .102 .102 .102 .102 .102 .102 .102 .102 .102 .101 .097 .092 .088 .083 .079 .07 .061 .052 .043 .033 .026 .02 .013 .007 0 0 0 0 0 0 0 0 0 0 0 0 0 0 .022 .067 .112 .157 .208 .269 .331 .393 .454 .512 .569 .628 .683 .734 .785 .837 .881 .918 .955 .992 1 1 1 1 1 1 1 1 1 1 1 1 1 1 1 1 1 1 1 1 1 1 1 1 1 1 1 1 1 1 1 1 1 1 1 1 1 1 1 1 1 1 1 1 1 1 1 1 1 1 1 1 1 1 1 1 1 1 1 1 1 1 1 1 1 1 1 1 1 1 1 1 1 1 1 1 1 1 1 1 1 1 1 1 1 1 1 1 1 1 1 1 1 1 1 1 1 1 1 1 1 1 1 1 1 1 1 1"/></feComponentTransfer><feColorMatrix result="c" type="identity"/><feColorMatrix in="c" result="y" type="matrix" values=".299 .587 .114 0 0 .299 .587 .114 0 0 .299 .587 .114 0 0 0 0 0 1 0"/><feColorMatrix in="c" result="d" type="matrix" values=".3505 -.2935 -.057 0 .5 -.1495 .2065 -.057 0 .5 -.1495 -.2935 .443 0 .5 0 0 0 1 0"/><feGaussianBlur in="d" stdDeviation="0.9 1.1" edgeMode="duplicate" result="db"/><feComposite in="y" in2="db" operator="arithmetic" k1="0" k2="1" k3="2" k4="-1"/></filter>
<linearGradient id="lp" x2="0" y2="1"><stop offset="0" stop-color="#fff" stop-opacity=".011"/><stop offset=".083" stop-color="#fff" stop-opacity=".044"/><stop offset=".167" stop-color="#fff" stop-opacity=".135"/><stop offset=".25" stop-color="#fff" stop-opacity=".325"/><stop offset=".333" stop-color="#fff" stop-opacity=".607"/><stop offset=".417" stop-color="#fff" stop-opacity=".882"/><stop offset=".5" stop-color="#fff" stop-opacity="1"/><stop offset=".583" stop-color="#fff" stop-opacity=".882"/><stop offset=".667" stop-color="#fff" stop-opacity=".607"/><stop offset=".75" stop-color="#fff" stop-opacity=".325"/><stop offset=".833" stop-color="#fff" stop-opacity=".135"/><stop offset=".917" stop-color="#fff" stop-opacity=".044"/><stop offset="1" stop-color="#fff" stop-opacity=".011"/></linearGradient>
<linearGradient id="cbg" x2="0" y2="1"><stop offset="0" stop-color="#ffffff"/><stop offset=".025" stop-color="#fffeee"/><stop offset=".05" stop-color="#fffcdc"/><stop offset=".075" stop-color="#fef9c3"/><stop offset=".1" stop-color="#fcf5aa"/><stop offset=".125" stop-color="#fbf28d"/><stop offset=".15" stop-color="#faef70"/><stop offset=".175" stop-color="#f9ec50"/><stop offset=".2" stop-color="#f8ea30"/><stop offset=".225" stop-color="#f7e618"/><stop offset=".25" stop-color="#f6e200"/><stop offset=".275" stop-color="#f7d900"/><stop offset=".3" stop-color="#f8cf00"/><stop offset=".325" stop-color="#f7c000"/><stop offset=".35" stop-color="#f6b000"/><stop offset=".375" stop-color="#f4a000"/><stop offset=".4" stop-color="#f29000"/><stop offset=".425" stop-color="#f08104"/><stop offset=".45" stop-color="#ee7208"/><stop offset=".475" stop-color="#eb630e"/><stop offset=".5" stop-color="#e85414"/><stop offset=".525" stop-color="#e64517"/><stop offset=".55" stop-color="#e4361a"/><stop offset=".575" stop-color="#e32b1a"/><stop offset=".6" stop-color="#e2201a"/><stop offset=".625" stop-color="#e1181a"/><stop offset=".65" stop-color="#e0101a"/><stop offset=".675" stop-color="#d61219"/><stop offset=".7" stop-color="#cc1418"/><stop offset=".725" stop-color="#bc1517"/><stop offset=".75" stop-color="#ac1716"/><stop offset=".775" stop-color="#991814"/><stop offset=".8" stop-color="#861812"/><stop offset=".825" stop-color="#721911"/><stop offset=".85" stop-color="#5e1a10"/><stop offset=".875" stop-color="#4e1910"/><stop offset=".9" stop-color="#3e1810"/><stop offset=".925" stop-color="#341710"/><stop offset=".95" stop-color="#2a1610"/><stop offset=".975" stop-color="#241510"/><stop offset="1" stop-color="#1e1410"/></linearGradient></defs><rect x="339.3" y="103.4" width="107.3" height="118.9" fill="none" stroke="#1a7a30" stroke-width="5.5" stroke-dasharray="12.8 4.7" stroke-dashoffset="7.5"/>
<path d="M393.2 44L392.9 126.1" stroke="#6b2c91" stroke-width="8.6" fill="none"/><path d="M376.3 97.5L392.9 126.1L410 97.5" stroke="#6b2c91" stroke-width="8.6" fill="none" stroke-linejoin="miter" stroke-miterlimit="10" stroke-linecap="round"/>
<path d="M148 43.4v5.5M148 535v-5.5M270.9 43.4v5.5M270.9 535v-5.5M393.8 43.4v5.5M393.8 535v-5.5M516.6 43.4v5.5M516.6 535v-5.5M639.5 43.4v5.5M639.5 535v-5.5M148 72.8h5.5M639.5 72.8h-5.5M148 147.7h5.5M639.5 147.7h-5.5M148 222.6h5.5M639.5 222.6h-5.5M148 297.5h5.5M639.5 297.5h-5.5M148 372.4h5.5M639.5 372.4h-5.5M148 447.3h5.5M639.5 447.3h-5.5M148 522.2h5.5M639.5 522.2h-5.5" stroke="#333" stroke-width="1" fill="none"/><rect x="148" y="43.4" width="491.5" height="491.6" fill="none" stroke="#262626" stroke-width="2"/>
<rect x="670.6" y="43.4" width="24.1" height="491.6" fill="url(#cbg)"/><path d="M694.7 485.8h-4.5M694.7 436.7h-4.5M694.7 387.5h-4.5M694.7 338.4h-4.5M694.7 289.2h-4.5M694.7 240h-4.5M694.7 190.9h-4.5M694.7 141.7h-4.5M694.7 92.6h-4.5" stroke="#444" stroke-width="1"/><rect x="670.6" y="43.4" width="24.1" height="491.6" fill="none" stroke="#3a3a3a" stroke-width="1.7"/>
<g style="font-family:'DejaVu Sans',sans-serif;font-size:31.5px" fill="#000"><text x="134.2" y="84.3" text-anchor="end">100</text><text x="134.2" y="159.2" text-anchor="end">50</text><text x="134.2" y="234.1" text-anchor="end">0</text><text x="134.2" y="309" text-anchor="end">−50</text><text x="134.2" y="383.9" text-anchor="end">−100</text><text x="134.2" y="458.8" text-anchor="end">−150</text><text x="134.2" y="533.7" text-anchor="end">−200</text><text x="147" y="570.2" text-anchor="middle">−200</text><text x="269.3" y="570.2" text-anchor="middle">−100</text><text x="391.6" y="570.2" text-anchor="middle">0</text><text x="513.9" y="570.2" text-anchor="middle">100</text><text x="636.2" y="570.2" text-anchor="middle">200</text><text x="706.6" y="546.5">0.0</text><text x="706.6" y="497.2">0.1</text><text x="706.6" y="447.9">0.2</text><text x="706.6" y="398.6">0.3</text><text x="706.6" y="349.3">0.4</text><text x="706.6" y="300">0.5</text><text x="706.6" y="250.7">0.6</text><text x="706.6" y="201.4">0.7</text><text x="706.6" y="152.1">0.8</text><text x="706.6" y="102.8">0.9</text><text x="705.2" y="53.5">1.0</text></g><g style="font-family:'DejaVu Sans',sans-serif;font-size:35.3px" fill="#000"><text x="392.6" y="604.2" text-anchor="middle">x (nm)</text><text transform="translate(38.6,288.8) rotate(-90)" text-anchor="middle">z (nm)</text></g><g style="font-family:'Liberation Sans',Arial,sans-serif;font-size:33.0px" fill="#000"><text transform="translate(247.4,31.7) scale(1,1.085)">Vertical lines, CRA</text><text transform="translate(537.8,31.7) scale(1.1,0.82)" text-anchor="middle">=</text><text transform="translate(560.9,31.7) scale(1.05,1.085)" text-anchor="middle">6</text><text transform="translate(576,31.7) scale(1.18,1)" text-anchor="middle">°</text></g>
<rect x="1136.5" y="102.7" width="108.1" height="119.9" fill="none" stroke="#1a7a30" stroke-width="5.5" stroke-dasharray="12.8 4.7" stroke-dashoffset="7.5"/>
<path d="M1191.3 44L1187.1 118.3" stroke="#6b2c91" stroke-width="8.6" fill="none"/><path d="M1172.5 91.7L1187.1 118.3L1205.4 92.5" stroke="#6b2c91" stroke-width="8.6" fill="none" stroke-linejoin="miter" stroke-miterlimit="10" stroke-linecap="round"/>
<path d="M945.6 43.4v5.5M945.6 535v-5.5M1068.3 43.4v5.5M1068.3 535v-5.5M1191.1 43.4v5.5M1191.1 535v-5.5M1313.8 43.4v5.5M1313.8 535v-5.5M1436.6 43.4v5.5M1436.6 535v-5.5M945.6 72.8h5.5M1436.6 72.8h-5.5M945.6 147.7h5.5M1436.6 147.7h-5.5M945.6 222.6h5.5M1436.6 222.6h-5.5M945.6 297.5h5.5M1436.6 297.5h-5.5M945.6 372.4h5.5M1436.6 372.4h-5.5M945.6 447.3h5.5M1436.6 447.3h-5.5M945.6 522.2h5.5M1436.6 522.2h-5.5" stroke="#333" stroke-width="1" fill="none"/><rect x="945.6" y="43.4" width="491" height="491.6" fill="none" stroke="#262626" stroke-width="2"/>
<rect x="1468" y="43.4" width="24.3" height="491.6" fill="url(#cbg)"/><path d="M1492.3 485.8h-4.5M1492.3 436.7h-4.5M1492.3 387.5h-4.5M1492.3 338.4h-4.5M1492.3 289.2h-4.5M1492.3 240h-4.5M1492.3 190.9h-4.5M1492.3 141.7h-4.5M1492.3 92.6h-4.5" stroke="#444" stroke-width="1"/><rect x="1468" y="43.4" width="24.3" height="491.6" fill="none" stroke="#3a3a3a" stroke-width="1.7"/>
<g style="font-family:'DejaVu Sans',sans-serif;font-size:31.5px" fill="#000"><text x="931.8" y="84.3" text-anchor="end">100</text><text x="931.8" y="159.2" text-anchor="end">50</text><text x="931.8" y="234.1" text-anchor="end">0</text><text x="931.8" y="309" text-anchor="end">−50</text><text x="931.8" y="383.9" text-anchor="end">−100</text><text x="931.8" y="458.8" text-anchor="end">−150</text><text x="931.8" y="533.7" text-anchor="end">−200</text><text x="944.6" y="570.2" text-anchor="middle">−200</text><text x="1066.9" y="570.2" text-anchor="middle">−100</text><text x="1189.2" y="570.2" text-anchor="middle">0</text><text x="1311.5" y="570.2" text-anchor="middle">100</text><text x="1433.8" y="570.2" text-anchor="middle">200</text><text x="1504.2" y="546.5">0.0</text><text x="1504.2" y="497.2">0.1</text><text x="1504.2" y="447.9">0.2</text><text x="1504.2" y="398.6">0.3</text><text x="1504.2" y="349.3">0.4</text><text x="1504.2" y="300">0.5</text><text x="1504.2" y="250.7">0.6</text><text x="1504.2" y="201.4">0.7</text><text x="1504.2" y="152.1">0.8</text><text x="1504.2" y="102.8">0.9</text><text x="1502.8" y="53.5">1.0</text></g><g style="font-family:'DejaVu Sans',sans-serif;font-size:35.3px" fill="#000"><text x="1190.2" y="604.2" text-anchor="middle">x (nm)</text><text transform="translate(834.4,288.8) rotate(-90)" text-anchor="middle">z (nm)</text></g><g style="font-family:'Liberation Sans',Arial,sans-serif;font-size:33.0px" fill="#000"><text transform="translate(1011.4,34.6) scale(1,1.085)">Horizontal lines, CRA</text><text transform="translate(1341.4,34.6) scale(1.1,0.82)" text-anchor="middle">=</text><text transform="translate(1363.4,34.6) scale(1.05,1.085)" text-anchor="middle">6</text><text transform="translate(1380.8,34.6) scale(1.18,1)" text-anchor="middle">°</text></g>
<rect x="331.8" y="733.5" width="108.1" height="119.1" fill="none" stroke="#1a7a30" stroke-width="5.5" stroke-dasharray="12.8 4.7" stroke-dashoffset="7.5"/>
<path d="M391.3 674.4L391.3 756.6" stroke="#6b2c91" stroke-width="8.6" fill="none"/><path d="M374.9 728.8L391.3 756.6L407.8 728.8" stroke="#6b2c91" stroke-width="8.6" fill="none" stroke-linejoin="miter" stroke-miterlimit="10" stroke-linecap="round"/>
<path d="M141 673.7v5.5M141 1165v-5.5M263.9 673.7v5.5M263.9 1165v-5.5M386.7 673.7v5.5M386.7 1165v-5.5M509.5 673.7v5.5M509.5 1165v-5.5M632.4 673.7v5.5M632.4 1165v-5.5M141 703.1h5.5M632.4 703.1h-5.5M141 778h5.5M632.4 778h-5.5M141 852.9h5.5M632.4 852.9h-5.5M141 927.8h5.5M632.4 927.8h-5.5M141 1002.7h5.5M632.4 1002.7h-5.5M141 1077.6h5.5M632.4 1077.6h-5.5M141 1152.5h5.5M632.4 1152.5h-5.5" stroke="#333" stroke-width="1" fill="none"/><rect x="141" y="673.7" width="491.4" height="491.3" fill="none" stroke="#262626" stroke-width="2"/>
<rect x="663.5" y="673.7" width="23.9" height="491.3" fill="url(#cbg)"/><path d="M687.4 1115.9h-4.5M687.4 1066.7h-4.5M687.4 1017.6h-4.5M687.4 968.5h-4.5M687.4 919.4h-4.5M687.4 870.2h-4.5M687.4 821.1h-4.5M687.4 772h-4.5M687.4 722.8h-4.5" stroke="#444" stroke-width="1"/><rect x="663.5" y="673.7" width="23.9" height="491.3" fill="none" stroke="#3a3a3a" stroke-width="1.7"/>
<g style="font-family:'DejaVu Sans',sans-serif;font-size:31.5px" fill="#000"><text x="127.2" y="714.6" text-anchor="end">100</text><text x="127.2" y="789.5" text-anchor="end">50</text><text x="127.2" y="864.4" text-anchor="end">0</text><text x="127.2" y="939.3" text-anchor="end">−50</text><text x="127.2" y="1014.2" text-anchor="end">−100</text><text x="127.2" y="1089.1" text-anchor="end">−150</text><text x="127.2" y="1164" text-anchor="end">−200</text><text x="140" y="1200.2" text-anchor="middle">−200</text><text x="262.3" y="1200.2" text-anchor="middle">−100</text><text x="384.6" y="1200.2" text-anchor="middle">0</text><text x="506.9" y="1200.2" text-anchor="middle">100</text><text x="629.2" y="1200.2" text-anchor="middle">200</text><text x="699.3" y="1176.5">0.0</text><text x="699.3" y="1127.2">0.1</text><text x="699.3" y="1078">0.2</text><text x="699.3" y="1028.7">0.3</text><text x="699.3" y="979.4">0.4</text><text x="699.3" y="930.1">0.5</text><text x="699.3" y="880.9">0.6</text><text x="699.3" y="831.6">0.7</text><text x="699.3" y="782.3">0.8</text><text x="699.3" y="733.1">0.9</text><text x="697.9" y="683.8">1.0</text></g><g style="font-family:'DejaVu Sans',sans-serif;font-size:35.3px" fill="#000"><text x="385.6" y="1234.2" text-anchor="middle">x (nm)</text><text transform="translate(31.6,919.1) rotate(-90)" text-anchor="middle">z (nm)</text></g><g style="font-family:'Liberation Sans',Arial,sans-serif;font-size:33.0px" fill="#000"><text transform="translate(235.7,661) scale(1,1.085)">Vertical lines, CRA</text><text transform="translate(526.6,661) scale(1.1,0.82)" text-anchor="middle">=</text><text transform="translate(551.9,661) scale(1.05,1.085)" text-anchor="middle">9</text><text transform="translate(566.5,661) scale(1.18,1)" text-anchor="middle">°</text></g>
<rect x="1134.9" y="733.5" width="108.1" height="119.1" fill="none" stroke="#1a7a30" stroke-width="5.5" stroke-dasharray="12.8 4.7" stroke-dashoffset="7.5"/>
<path d="M1205.4 674.4L1194.8 754.6" stroke="#6b2c91" stroke-width="8.6" fill="none"/><path d="M1181.9 725.6L1194.8 754.6L1214.8 730.3" stroke="#6b2c91" stroke-width="8.6" fill="none" stroke-linejoin="miter" stroke-miterlimit="10" stroke-linecap="round"/>
<path d="M944.1 673.7v5.5M944.1 1165v-5.5M1066.8 673.7v5.5M1066.8 1165v-5.5M1189.5 673.7v5.5M1189.5 1165v-5.5M1312.1 673.7v5.5M1312.1 1165v-5.5M1434.8 673.7v5.5M1434.8 1165v-5.5M944.1 703.1h5.5M1434.8 703.1h-5.5M944.1 778h5.5M1434.8 778h-5.5M944.1 852.9h5.5M1434.8 852.9h-5.5M944.1 927.8h5.5M1434.8 927.8h-5.5M944.1 1002.7h5.5M1434.8 1002.7h-5.5M944.1 1077.6h5.5M1434.8 1077.6h-5.5M944.1 1152.5h5.5M1434.8 1152.5h-5.5" stroke="#333" stroke-width="1" fill="none"/><rect x="944.1" y="673.7" width="490.7" height="491.3" fill="none" stroke="#262626" stroke-width="2"/>
<rect x="1465.8" y="673.7" width="24.5" height="491.3" fill="url(#cbg)"/><path d="M1490.3 1115.9h-4.5M1490.3 1066.7h-4.5M1490.3 1017.6h-4.5M1490.3 968.5h-4.5M1490.3 919.4h-4.5M1490.3 870.2h-4.5M1490.3 821.1h-4.5M1490.3 772h-4.5M1490.3 722.8h-4.5" stroke="#444" stroke-width="1"/><rect x="1465.8" y="673.7" width="24.5" height="491.3" fill="none" stroke="#3a3a3a" stroke-width="1.7"/>
<g style="font-family:'DejaVu Sans',sans-serif;font-size:31.5px" fill="#000"><text x="930.3" y="714.6" text-anchor="end">100</text><text x="930.3" y="789.5" text-anchor="end">50</text><text x="930.3" y="864.4" text-anchor="end">0</text><text x="930.3" y="939.3" text-anchor="end">−50</text><text x="930.3" y="1014.2" text-anchor="end">−100</text><text x="930.3" y="1089.1" text-anchor="end">−150</text><text x="930.3" y="1164" text-anchor="end">−200</text><text x="943.1" y="1200.2" text-anchor="middle">−200</text><text x="1065.4" y="1200.2" text-anchor="middle">−100</text><text x="1187.7" y="1200.2" text-anchor="middle">0</text><text x="1310" y="1200.2" text-anchor="middle">100</text><text x="1432.3" y="1200.2" text-anchor="middle">200</text><text x="1502.2" y="1176.5">0.0</text><text x="1502.2" y="1127.2">0.1</text><text x="1502.2" y="1078">0.2</text><text x="1502.2" y="1028.7">0.3</text><text x="1502.2" y="979.4">0.4</text><text x="1502.2" y="930.1">0.5</text><text x="1502.2" y="880.9">0.6</text><text x="1502.2" y="831.6">0.7</text><text x="1502.2" y="782.3">0.8</text><text x="1502.2" y="733.1">0.9</text><text x="1500.8" y="683.8">1.0</text></g><g style="font-family:'DejaVu Sans',sans-serif;font-size:35.3px" fill="#000"><text x="1188.7" y="1234.2" text-anchor="middle">x (nm)</text><text transform="translate(832.9,919.1) rotate(-90)" text-anchor="middle">z (nm)</text></g><g style="font-family:'Liberation Sans',Arial,sans-serif;font-size:33.0px" fill="#000"><text transform="translate(1008.1,660.9) scale(1,1.085)">Horizontal lines, CRA</text><text transform="translate(1339.5,660.9) scale(1.1,0.82)" text-anchor="middle">=</text><text transform="translate(1364.7,660.9) scale(1.05,1.085)" text-anchor="middle">9</text><text transform="translate(1380.1,660.9) scale(1.18,1)" text-anchor="middle">°</text></g></svg></body></html>
